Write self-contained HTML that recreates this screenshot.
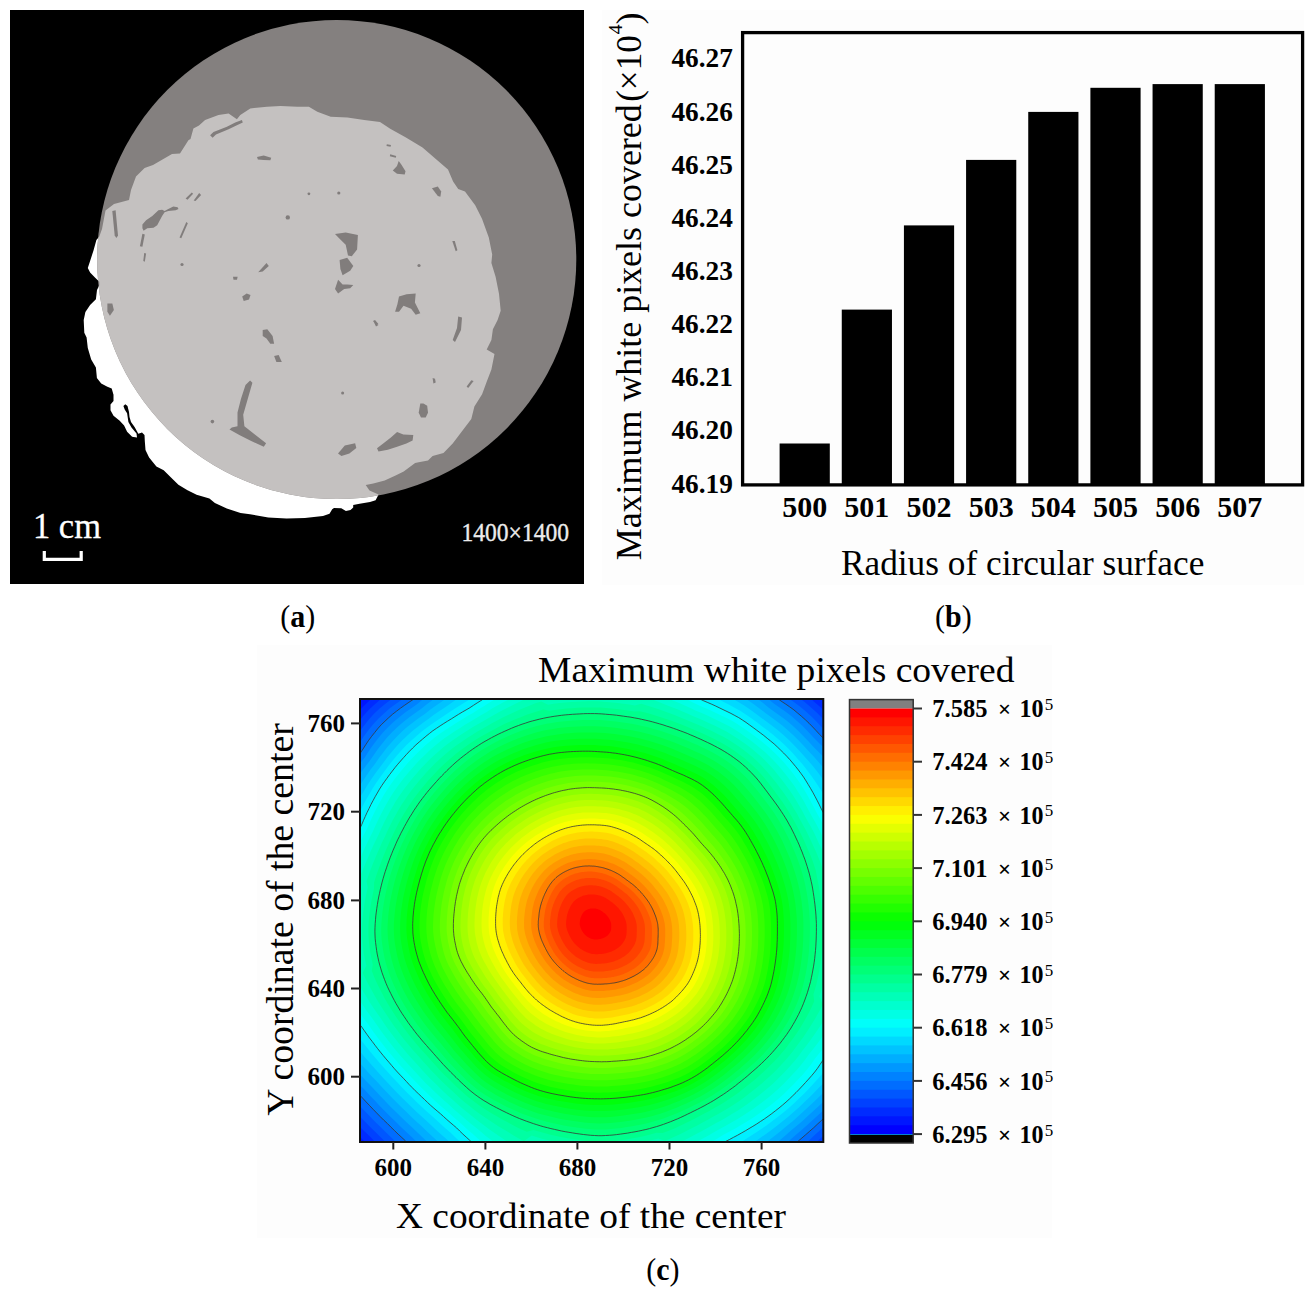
<!DOCTYPE html>
<html><head><meta charset="utf-8"><style>
html,body{margin:0;padding:0;background:#fff;}
body{width:1314px;height:1294px;overflow:hidden;}
svg{display:block;font-family:'Liberation Serif', serif;}
</style></head><body>
<svg width="1314" height="1294" viewBox="0 0 1314 1294">
<rect width="1314" height="1294" fill="#fff"/>
<rect x="10" y="10" width="574" height="574" fill="#000"/>
<clipPath id="circ"><circle cx="336.7" cy="259.5" r="239.6"/></clipPath>
<path d="M99.3,236.6 L102.0,229.0 L105.5,210.5 L114.0,204.0 L129.0,200.0 L131.0,190.0 L136.0,176.5 L144.6,168.0 L153.0,165.0 L172.0,154.0 L180.0,153.6 L188.4,140.2 L190.5,139.0 L193.4,128.5 L199.0,125.5 L205.1,120.1 L218.5,115.1 L228.6,113.4 L236.9,119.3 L240.3,115.1 L250.3,108.4 L267.1,106.7 L280.5,105.9 L297.2,106.7 L308.9,106.7 L317.3,111.8 L330.7,116.8 L347.4,117.6 L364.2,120.1 L380.0,121.9 L390.2,128.7 L405.5,137.2 L422.5,147.4 L436.1,159.3 L448.0,169.5 L453.1,181.4 L458.2,189.1 L465.0,191.6 L475.2,205.2 L482.0,218.8 L488.8,237.6 L492.2,254.6 L491.4,263.1 L495.6,276.7 L499.0,293.7 L500.7,310.7 L497.6,320.0 L492.9,329.3 L491.4,340.1 L486.7,349.4 L494.5,354.0 L491.4,369.5 L486.7,381.8 L482.1,394.2 L474.4,406.6 L471.3,418.9 L462.0,431.3 L452.7,443.6 L443.5,452.9 L432.6,456.0 L428.0,460.6 L418.7,462.2 L415.1,463.0 L403.7,471.4 L396.1,475.2 L384.7,480.5 L373.3,483.6 L365.7,485.1 L369.5,490.4 L378.6,494.5 L375.6,500.3 L370.0,501.9 L359.6,503.7 L353.2,505.1 L353.2,507.4 L350.5,510.1 L345.9,511.0 L341.3,508.3 L334.0,507.9 L332.2,509.2 L329.5,513.8 L323.0,516.1 L304.8,517.9 L286.5,518.4 L268.3,517.4 L250.0,514.2 L240.5,513.1 L226.8,508.5 L214.9,503.1 L209.4,498.5 L196.6,494.8 L187.5,490.3 L178.4,484.8 L171.0,477.5 L163.7,470.2 L156.4,466.5 L149.1,457.4 L145.5,450.1 L144.8,441.0 L144.5,434.9 L142.0,432.4 L138.3,433.7 L134.6,426.9 L131.0,422.0 L129.5,417.0 L129.0,412.0 L127.5,406.0 L125.3,404.2 L123.4,405.9 L124.7,409.6 L127.1,413.3 L128.4,422.0 L131.5,427.5 L136.5,433.5 L137.0,437.4 L132.1,436.8 L127.1,431.8 L124.1,425.6 L119.7,420.7 L113.5,415.7 L110.5,410.2 L110.5,404.6 L113.5,400.9 L113.5,394.7 L111.7,388.5 L107.4,386.7 L101.2,383.6 L96.9,378.0 L95.9,367.6 L91.2,359.5 L87.8,347.9 L86.6,337.4 L84.3,332.8 L83.7,320.0 L85.4,311.9 L90.1,305.0 L95.9,299.2 L97.0,289.9 L99.3,285.3 L99.3,281.8 L94.7,277.2 L90.1,272.5 L87.8,267.9 L90.1,260.9 L93.5,250.5 L96.4,240.1Z" fill="#fff"/>
<circle cx="336.7" cy="259.5" r="239.6" fill="#84807f"/>
<path d="M99.3,236.6 L102.0,229.0 L105.5,210.5 L114.0,204.0 L129.0,200.0 L131.0,190.0 L136.0,176.5 L144.6,168.0 L153.0,165.0 L172.0,154.0 L180.0,153.6 L188.4,140.2 L190.5,139.0 L193.4,128.5 L199.0,125.5 L205.1,120.1 L218.5,115.1 L228.6,113.4 L236.9,119.3 L240.3,115.1 L250.3,108.4 L267.1,106.7 L280.5,105.9 L297.2,106.7 L308.9,106.7 L317.3,111.8 L330.7,116.8 L347.4,117.6 L364.2,120.1 L380.0,121.9 L390.2,128.7 L405.5,137.2 L422.5,147.4 L436.1,159.3 L448.0,169.5 L453.1,181.4 L458.2,189.1 L465.0,191.6 L475.2,205.2 L482.0,218.8 L488.8,237.6 L492.2,254.6 L491.4,263.1 L495.6,276.7 L499.0,293.7 L500.7,310.7 L497.6,320.0 L492.9,329.3 L491.4,340.1 L486.7,349.4 L494.5,354.0 L491.4,369.5 L486.7,381.8 L482.1,394.2 L474.4,406.6 L471.3,418.9 L462.0,431.3 L452.7,443.6 L443.5,452.9 L432.6,456.0 L428.0,460.6 L418.7,462.2 L415.1,463.0 L403.7,471.4 L396.1,475.2 L384.7,480.5 L373.3,483.6 L365.7,485.1 L369.5,490.4 L378.6,494.5 L375.6,500.3 L370.0,501.9 L359.6,503.7 L353.2,505.1 L353.2,507.4 L350.5,510.1 L345.9,511.0 L341.3,508.3 L334.0,507.9 L332.2,509.2 L329.5,513.8 L323.0,516.1 L304.8,517.9 L286.5,518.4 L268.3,517.4 L250.0,514.2 L240.5,513.1 L226.8,508.5 L214.9,503.1 L209.4,498.5 L196.6,494.8 L187.5,490.3 L178.4,484.8 L171.0,477.5 L163.7,470.2 L156.4,466.5 L149.1,457.4 L145.5,450.1 L144.8,441.0 L144.5,434.9 L142.0,432.4 L138.3,433.7 L134.6,426.9 L131.0,422.0 L129.5,417.0 L129.0,412.0 L127.5,406.0 L125.3,404.2 L123.4,405.9 L124.7,409.6 L127.1,413.3 L128.4,422.0 L131.5,427.5 L136.5,433.5 L137.0,437.4 L132.1,436.8 L127.1,431.8 L124.1,425.6 L119.7,420.7 L113.5,415.7 L110.5,410.2 L110.5,404.6 L113.5,400.9 L113.5,394.7 L111.7,388.5 L107.4,386.7 L101.2,383.6 L96.9,378.0 L95.9,367.6 L91.2,359.5 L87.8,347.9 L86.6,337.4 L84.3,332.8 L83.7,320.0 L85.4,311.9 L90.1,305.0 L95.9,299.2 L97.0,289.9 L99.3,285.3 L99.3,281.8 L94.7,277.2 L90.1,272.5 L87.8,267.9 L90.1,260.9 L93.5,250.5 L96.4,240.1Z" fill="#c4c1c0" clip-path="url(#circ)"/>
<g fill="#817d7c"><path d="M335.0,234.1 L345.7,232.6 L357.9,234.9 L357.1,249.4 L351.8,256.2 L348.0,255.4 L345.7,244.8 L339.6,238.7Z"/><path d="M339.6,260.0 L347.2,257.7 L353.3,266.1 L350.2,270.7 L342.6,275.2 L340.4,269.1Z"/><path d="M335.0,288.9 L338.1,279.8 L342.6,284.4 L347.2,284.4 L353.3,285.1 L350.2,288.2 L344.2,288.9 L338.1,293.5Z"/><path d="M399.0,296.5 L406.6,294.3 L415.7,293.5 L414.9,302.6 L420.3,313.3 L415.7,314.8 L411.1,308.7 L403.5,305.7 L399.0,311.8 L395.1,311.8 L397.4,304.2Z"/><path d="M258.2,272.2 L266.5,263.1 L268.8,266.1 L262.7,271.4Z"/><path d="M233.0,276.8 L237.6,276.8 L237.0,279.8 L233.5,279.8Z"/><path d="M242.2,296.5 L246.7,293.5 L250.5,295.0 L249.0,299.6 L243.7,301.1Z"/><path d="M262.7,330.0 L267.3,329.3 L272.6,336.1 L274.1,343.7 L270.3,343.7 L266.5,338.4 L262.7,336.1Z"/><path d="M274.1,355.9 L278.7,355.1 L281.8,362.0 L276.4,362.0Z"/><path d="M373.0,320.9 L375.0,320.0 L378.4,324.0 L376.0,325.0Z"/><path d="M112.3,211.1 L115.6,210.3 L118.0,235.4 L116.4,237.9 L114.7,235.4Z"/><path d="M142.4,224.6 L146.1,220.2 L152.3,215.9 L158.4,210.3 L162.1,209.7 L164.6,211.0 L168.3,209.1 L173.3,206.6 L177.6,207.3 L178.5,209.1 L175.7,210.3 L168.3,211.0 L164.6,212.2 L162.1,215.9 L157.2,225.2 L153.5,227.7 L147.3,228.3 L143.6,230.7 L142.4,228.3Z"/><path d="M142.4,233.8 L144.8,234.5 L142.4,246.8 L139.9,246.2Z"/><path d="M144.2,253.0 L146.1,253.6 L144.8,261.7 L143.3,261.0Z"/><path d="M186.3,222.1 L187.8,223.3 L181.3,238.2 L179.5,237.5Z"/><path d="M185.6,198.6 L191.8,192.4 L193.1,193.7 L187.5,199.8Z"/><path d="M193.7,200.5 L199.2,193.0 L201.1,194.9 L195.5,201.1Z"/><path d="M107.4,303.6 L112.3,303.6 L113.9,310.0 L109.9,315.7 L107.4,311.7Z"/><path d="M210.1,135.2 L213.5,131.9 L226.9,126.8 L235.2,122.6 L241.9,120.1 L242.8,122.6 L236.9,125.2 L228.6,129.3 L216.0,134.4 L212.6,137.7Z"/><path d="M257.0,157.0 L263.7,155.6 L271.2,157.8 L270.4,160.3 L263.7,160.0 L257.9,159.5Z"/><path d="M392.8,170.4 L397.0,166.1 L398.7,161.0 L401.3,164.4 L405.5,171.2 L404.7,174.6 L397.0,173.8Z"/><path d="M386.8,144.2 L391.0,145.0 L390.6,146.8 L386.5,146.0Z"/><path d="M390.2,154.2 L396.2,156.0 L395.8,157.8 L389.8,156.3Z"/><path d="M431.9,188.2 L437.8,186.5 L441.2,191.6 L440.4,196.7 L437.8,195.9 L434.4,191.6Z"/><path d="M452.3,241.0 L454.8,241.0 L457.4,250.3 L455.7,251.2Z"/><path d="M458.2,316.6 L462.0,317.5 L461.0,330.0 L455.0,342.0 L452.7,340.0 L457.0,328.0Z"/><path d="M420.3,403.5 L423.4,403.5 L427.2,405.8 L428.0,412.7 L425.7,417.4 L421.0,417.4 L418.7,412.7Z"/><path d="M377.0,448.3 L383.2,443.6 L390.9,437.5 L397.1,432.1 L403.3,434.4 L413.3,435.1 L412.6,440.6 L406.4,443.6 L397.1,446.7 L387.8,449.8 L378.5,451.4Z"/><path d="M432.6,378.0 L435.0,378.7 L435.7,382.6 L433.4,383.4Z"/><path d="M471.3,380.3 L473.6,381.0 L468.2,388.0 L466.6,386.5Z"/><path d="M374.0,322.0 L378.5,325.0 L376.0,326.5Z"/><path d="M250.1,380.5 L252.4,382.8 L247.8,398.8 L243.2,414.8 L244.4,426.2 L255.8,435.3 L266.1,443.3 L263.8,446.8 L251.2,441.1 L239.8,435.3 L229.5,429.6 L231.8,427.4 L237.5,426.2 L237.5,412.5 L241.0,398.8 L245.5,385.1Z"/><path d="M338.0,453.6 L344.8,445.6 L355.1,443.3 L356.3,447.9 L349.4,453.6 L341.4,455.9Z"/><circle cx="212.4" cy="421.6" r="1.8"/><circle cx="342.6" cy="393" r="1.5"/><circle cx="287.8" cy="217.4" r="2.2"/><circle cx="338.8" cy="193" r="1.6"/><circle cx="182" cy="264.5" r="1.6"/><circle cx="308.9" cy="193.8" r="1.4"/><circle cx="419" cy="265.5" r="1.6"/></g>
<text x="33" y="538" font-size="36" fill="#fff" stroke="#fff" stroke-width="0.3" textLength="68" lengthAdjust="spacingAndGlyphs">1 cm</text>
<path d="M44.3 551 V559.3 H81.2 V551" fill="none" stroke="#fff" stroke-width="3.2"/>
<text x="461.5" y="541.3" font-size="24.5" fill="#ececec" stroke="#ececec" stroke-width="0.35" textLength="107.5" lengthAdjust="spacingAndGlyphs">1400×1400</text>
<rect x="602" y="10" width="702" height="575" fill="#fdfdfd"/>
<rect x="779.60" y="443.5" width="50.2" height="41.5" fill="#000"/>
<text x="804.70" y="516.8" font-size="30" font-weight="bold" text-anchor="middle">500</text>
<rect x="841.76" y="309.6" width="50.2" height="175.4" fill="#000"/>
<text x="866.86" y="516.8" font-size="30" font-weight="bold" text-anchor="middle">501</text>
<rect x="903.92" y="225.4" width="50.2" height="259.6" fill="#000"/>
<text x="929.02" y="516.8" font-size="30" font-weight="bold" text-anchor="middle">502</text>
<rect x="966.08" y="159.9" width="50.2" height="325.1" fill="#000"/>
<text x="991.18" y="516.8" font-size="30" font-weight="bold" text-anchor="middle">503</text>
<rect x="1028.24" y="111.9" width="50.2" height="373.1" fill="#000"/>
<text x="1053.34" y="516.8" font-size="30" font-weight="bold" text-anchor="middle">504</text>
<rect x="1090.40" y="87.8" width="50.2" height="397.2" fill="#000"/>
<text x="1115.50" y="516.8" font-size="30" font-weight="bold" text-anchor="middle">505</text>
<rect x="1152.56" y="84.1" width="50.2" height="400.9" fill="#000"/>
<text x="1177.66" y="516.8" font-size="30" font-weight="bold" text-anchor="middle">506</text>
<rect x="1214.72" y="84.1" width="50.2" height="400.9" fill="#000"/>
<text x="1239.82" y="516.8" font-size="30" font-weight="bold" text-anchor="middle">507</text>
<rect x="742.6" y="32.6" width="560" height="452.3" fill="none" stroke="#000" stroke-width="3.3"/>
<text x="732.8" y="67.40" font-size="27.3" font-weight="bold" text-anchor="end">46.27</text>
<text x="732.8" y="120.54" font-size="27.3" font-weight="bold" text-anchor="end">46.26</text>
<text x="732.8" y="173.68" font-size="27.3" font-weight="bold" text-anchor="end">46.25</text>
<text x="732.8" y="226.82" font-size="27.3" font-weight="bold" text-anchor="end">46.24</text>
<text x="732.8" y="279.96" font-size="27.3" font-weight="bold" text-anchor="end">46.23</text>
<text x="732.8" y="333.10" font-size="27.3" font-weight="bold" text-anchor="end">46.22</text>
<text x="732.8" y="386.24" font-size="27.3" font-weight="bold" text-anchor="end">46.21</text>
<text x="732.8" y="439.38" font-size="27.3" font-weight="bold" text-anchor="end">46.20</text>
<text x="732.8" y="492.52" font-size="27.3" font-weight="bold" text-anchor="end">46.19</text>
<text x="841" y="574.5" font-size="35.6" textLength="363.3" lengthAdjust="spacingAndGlyphs">Radius of circular surface</text>
<text transform="translate(641,560.3) rotate(-90)" font-size="36" textLength="456" lengthAdjust="spacingAndGlyphs">Maximum white pixels covered</text>
<text transform="translate(641,101.8) rotate(-90)" font-size="36" textLength="66.5" lengthAdjust="spacingAndGlyphs">(×10</text>
<text transform="translate(622.3,34.2) rotate(-90)" font-size="19.5">4</text>
<text transform="translate(641,24.6) rotate(-90)" font-size="36">)</text>
<text transform="translate(280.3,627.3) scale(1,1.065)" font-size="30">(<tspan font-weight="bold">a</tspan>)</text>
<text transform="translate(935,627.3) scale(1,1.065)" font-size="30">(<tspan font-weight="bold">b</tspan>)</text>
<text transform="translate(646.3,1280) scale(1,1.065)" font-size="30">(<tspan font-weight="bold">c</tspan>)</text>
<rect x="257" y="645" width="795" height="593" fill="#fdfdfd"/>
<text x="538" y="681.5" font-size="36" textLength="476.5" lengthAdjust="spacingAndGlyphs">Maximum white pixels covered</text>
<defs><clipPath id="pc"><rect x="360.0" y="699.0" width="463.3" height="443.0"/></clipPath></defs>
<g clip-path="url(#pc)">
<rect x="360.0" y="699.0" width="463.3" height="443.0" fill="#0000ff"/>
<path d="M264.3,923.5 L265.2,914.9 L266.4,906.3 L267.9,897.8 L269.6,889.3 L271.5,881.0 L273.7,872.7 L267.7,862.9 L271.4,854.8 L275.3,846.9 L279.4,839.1 L283.3,831.3 L286.9,823.5 L290.6,815.9 L294.5,808.4 L298.6,800.9 L302.0,793.3 L297.3,781.7 L303.1,775.0 L309.0,768.5 L315.1,762.2 L320.3,755.4 L325.3,748.7 L330.5,742.0 L335.8,735.5 L340.0,728.2 L344.2,720.8 L349.0,713.8 L354.1,707.0 L359.8,700.8 L366.0,695.0 L372.5,689.5 L379.5,684.7 L386.6,680.1 L393.6,675.4 L399.5,669.4 L405.6,663.5 L412.0,657.9 L418.5,652.4 L424.5,646.0 L430.7,639.8 L437.4,634.2 L449.7,639.3 L456.8,634.9 L464.0,630.4 L471.4,626.2 L478.8,622.2 L486.4,618.1 L493.8,613.7 L501.5,609.5 L509.3,605.5 L517.3,601.7 L528.6,613.5 L536.8,612.3 L545.1,611.3 L553.3,610.6 L561.5,610.0 L569.8,609.5 L578.0,609.1 L586.3,608.7 L594.5,608.7 L602.7,609.0 L611.0,609.6 L619.1,610.4 L627.3,611.4 L635.4,612.5 L643.6,613.7 L651.7,615.0 L661.5,608.2 L669.5,611.2 L677.3,614.4 L685.1,617.7 L692.7,621.3 L700.4,624.5 L708.1,627.6 L715.7,630.8 L723.4,634.0 L731.0,637.4 L738.8,640.2 L753.0,631.5 L759.5,637.6 L765.7,644.1 L771.7,650.7 L777.9,656.7 L784.4,662.1 L790.8,667.7 L797.1,673.4 L804.0,678.3 L811.1,682.9 L818.1,687.9 L824.5,693.5 L830.9,699.2 L836.9,705.2 L842.7,711.5 L848.8,717.6 L855.9,722.9 L862.9,728.5 L869.9,734.2 L877.5,739.7 L885.7,745.1 L893.8,750.7 L901.8,756.6 L887.4,774.3 L891.3,782.0 L895.1,789.6 L898.8,797.4 L902.4,805.3 L905.9,813.2 L909.9,821.0 L913.7,828.9 L917.4,837.0 L920.8,845.2 L919.3,854.5 L920.8,863.0 L922.1,871.6 L923.1,880.2 L924.0,888.9 L924.8,897.5 L925.5,906.2 L925.9,914.8 L926.0,923.5 L925.8,932.2 L925.4,940.8 L924.8,949.5 L924.1,958.1 L923.1,966.8 L921.8,975.3 L920.3,983.9 L918.6,992.4 L916.7,1000.9 L914.5,1009.3 L912.0,1017.5 L909.1,1025.7 L922.8,1039.7 L917.3,1047.4 L911.6,1054.8 L905.7,1062.1 L899.9,1069.2 L894.5,1076.3 L888.9,1083.3 L900.2,1100.0 L892.7,1106.3 L884.4,1111.8 L876.2,1117.1 L868.7,1122.7 L861.8,1128.6 L854.6,1134.2 L847.4,1139.5 L840.8,1145.3 L834.4,1151.1 L828.0,1157.0 L821.6,1162.8 L815.6,1169.0 L809.8,1175.5 L803.7,1181.9 L797.5,1188.1 L791.8,1195.1 L786.0,1202.1 L779.9,1209.0 L759.4,1192.6 L752.4,1196.9 L745.4,1201.5 L738.4,1205.9 L731.3,1210.2 L724.1,1214.5 L717.0,1219.3 L709.8,1223.9 L702.4,1228.3 L694.9,1232.6 L683.3,1223.3 L675.6,1226.1 L667.8,1228.7 L659.9,1231.1 L651.9,1233.2 L643.8,1235.1 L635.7,1236.7 L627.6,1238.0 L619.3,1239.2 L611.1,1240.1 L602.8,1240.4 L594.5,1240.2 L586.2,1239.4 L578.0,1238.2 L569.8,1237.0 L561.7,1235.7 L553.6,1234.2 L545.6,1232.4 L537.6,1230.5 L529.7,1228.5 L521.8,1226.3 L514.0,1224.0 L506.2,1221.5 L491.4,1240.9 L484.1,1235.1 L477.1,1229.2 L470.4,1223.1 L463.6,1217.5 L456.9,1212.1 L450.2,1206.6 L443.7,1201.2 L426.6,1214.3 L420.1,1208.2 L413.7,1201.9 L407.7,1195.3 L401.5,1189.1 L395.3,1183.1 L389.3,1176.8 L383.8,1170.2 L377.6,1164.4 L371.4,1158.6 L365.5,1152.5 L359.5,1146.5 L353.4,1140.6 L347.4,1134.6 L341.4,1128.5 L335.7,1122.1 L329.7,1115.9 L323.1,1110.1 L316.6,1104.0 L310.4,1097.6 L303.7,1091.4 L296.4,1085.4 L289.4,1079.0 L282.5,1072.3 L296.6,1056.1 L291.4,1049.0 L286.2,1041.8 L281.2,1034.4 L276.5,1026.8 L271.5,1019.2 L266.2,1011.5 L261.1,1003.5 L256.0,995.4 L269.9,983.7 L267.9,975.2 L266.4,966.7 L265.3,958.1 L264.3,949.5 L263.8,940.8 L263.8,932.2Z" fill="#0016ff"/>
<path d="M270.8,923.5 L271.7,915.0 L272.9,906.6 L274.3,898.3 L276.0,890.0 L277.9,881.8 L280.0,873.7 L274.0,864.1 L277.6,856.1 L281.4,848.3 L285.4,840.7 L289.2,833.1 L292.7,825.5 L296.4,817.9 L300.3,810.6 L304.3,803.3 L307.6,795.7 L303.6,784.7 L309.1,778.1 L314.7,771.6 L320.5,765.3 L325.5,758.7 L330.5,752.0 L335.5,745.5 L340.7,739.1 L344.8,731.9 L349.0,724.7 L353.8,717.9 L358.8,711.3 L364.5,705.2 L370.6,699.6 L376.9,694.2 L383.7,689.4 L390.6,684.8 L397.5,680.2 L403.4,674.4 L409.4,668.8 L415.7,663.3 L422.1,658.1 L428.1,651.9 L434.3,646.0 L440.8,640.5 L452.5,644.9 L459.5,640.5 L466.6,636.2 L473.8,632.0 L481.1,628.0 L488.4,624.0 L495.8,619.6 L503.3,615.5 L510.9,611.5 L518.7,607.8 L529.9,619.6 L537.9,618.4 L546.0,617.4 L554.1,616.7 L562.2,616.1 L570.3,615.6 L578.3,615.2 L586.4,614.9 L594.5,614.9 L602.6,615.1 L610.6,615.7 L618.7,616.6 L626.7,617.5 L634.6,618.6 L642.6,619.7 L650.6,621.0 L660.2,614.2 L668.0,617.2 L675.7,620.3 L683.3,623.6 L690.8,627.1 L698.3,630.3 L705.9,633.4 L713.4,636.5 L720.8,639.7 L728.3,643.1 L736.0,645.9 L749.4,638.2 L755.9,644.0 L762.0,650.1 L768.0,656.4 L774.1,662.1 L780.6,667.4 L786.9,672.8 L793.1,678.3 L799.8,683.1 L806.8,687.7 L813.6,692.6 L819.9,698.1 L826.2,703.7 L832.1,709.6 L837.8,715.7 L843.7,721.7 L850.6,727.0 L857.3,732.6 L864.0,738.3 L871.2,743.8 L879.0,749.2 L886.6,754.8 L894.2,760.8 L881.4,777.3 L885.2,784.9 L889.0,792.4 L892.7,800.0 L896.2,807.7 L899.7,815.4 L903.6,823.1 L907.4,830.8 L911.0,838.7 L914.4,846.7 L912.8,855.8 L914.4,864.2 L915.6,872.6 L916.6,881.1 L917.5,889.5 L918.3,898.0 L919.0,906.5 L919.5,915.0 L919.6,923.5 L919.4,932.0 L919.0,940.5 L918.4,949.0 L917.7,957.5 L916.7,965.9 L915.5,974.3 L914.1,982.7 L912.4,991.1 L910.5,999.4 L908.4,1007.6 L906.0,1015.8 L903.1,1023.8 L916.9,1037.7 L911.5,1045.2 L905.9,1052.5 L900.1,1059.6 L894.4,1066.5 L889.0,1073.6 L883.5,1080.4 L893.5,1096.1 L886.2,1102.3 L878.3,1107.8 L870.5,1113.2 L863.3,1118.8 L856.5,1124.6 L849.6,1130.1 L842.6,1135.4 L836.1,1141.1 L829.8,1146.8 L823.6,1152.6 L817.2,1158.2 L811.3,1164.2 L805.5,1170.5 L799.5,1176.6 L793.3,1182.6 L787.6,1189.2 L781.7,1195.9 L775.7,1202.5 L756.5,1187.9 L749.6,1192.1 L742.8,1196.6 L735.8,1200.9 L728.8,1205.1 L721.8,1209.3 L714.8,1214.0 L707.7,1218.5 L700.5,1222.9 L693.1,1227.0 L681.6,1217.6 L674.0,1220.4 L666.4,1222.9 L658.6,1225.2 L650.8,1227.3 L642.9,1229.1 L634.9,1230.6 L626.9,1231.9 L618.9,1233.1 L610.8,1233.9 L602.6,1234.3 L594.5,1234.1 L586.4,1233.3 L578.3,1232.1 L570.3,1230.9 L562.3,1229.6 L554.4,1228.2 L546.5,1226.5 L538.7,1224.6 L530.9,1222.6 L523.2,1220.5 L515.5,1218.3 L507.9,1215.7 L493.2,1235.2 L486.1,1229.6 L479.3,1223.7 L472.6,1217.7 L466.0,1212.1 L459.4,1206.8 L452.9,1201.4 L446.5,1196.1 L430.5,1207.6 L424.1,1201.6 L417.9,1195.4 L412.0,1189.0 L406.0,1183.0 L399.9,1177.2 L394.0,1171.1 L388.5,1164.7 L382.5,1159.0 L376.4,1153.3 L370.5,1147.5 L364.7,1141.5 L358.7,1135.8 L352.8,1129.9 L347.0,1123.9 L341.4,1117.7 L335.6,1111.6 L329.2,1105.9 L322.9,1099.9 L316.9,1093.6 L310.4,1087.5 L303.4,1081.5 L296.7,1075.3 L290.1,1068.7 L302.6,1053.5 L297.4,1046.5 L292.3,1039.5 L287.4,1032.3 L282.7,1024.8 L277.7,1017.3 L272.5,1009.8 L267.4,1002.0 L262.4,994.1 L276.3,982.5 L274.4,974.2 L272.9,965.8 L271.8,957.4 L270.9,949.0 L270.4,940.5 L270.3,932.0Z" fill="#002bff"/>
<path d="M277.3,923.5 L278.2,915.2 L279.3,907.0 L280.7,898.8 L282.3,890.7 L284.2,882.6 L286.3,874.7 L280.2,865.2 L283.7,857.4 L287.5,849.8 L291.4,842.3 L295.1,834.8 L298.6,827.4 L302.2,820.0 L306.0,812.8 L309.9,805.6 L313.1,798.2 L309.8,787.7 L315.1,781.1 L320.4,774.7 L326.0,768.5 L330.8,761.9 L335.6,755.4 L340.5,748.9 L345.6,742.6 L349.7,735.7 L353.9,728.7 L358.6,722.1 L363.6,715.6 L369.1,709.6 L375.1,704.1 L381.3,698.8 L387.9,694.1 L394.7,689.5 L401.4,685.0 L407.2,679.4 L413.2,674.0 L419.4,668.8 L425.8,663.7 L431.7,657.8 L437.8,652.2 L444.3,646.9 L455.4,650.5 L462.2,646.1 L469.1,641.9 L476.1,637.8 L483.3,633.8 L490.5,629.9 L497.7,625.6 L505.0,621.5 L512.5,617.6 L520.2,613.8 L531.2,625.7 L539.1,624.5 L547.0,623.5 L554.9,622.8 L562.8,622.2 L570.8,621.8 L578.7,621.4 L586.6,621.1 L594.5,621.0 L602.4,621.3 L610.3,621.9 L618.2,622.7 L626.0,623.7 L633.8,624.7 L641.7,625.8 L649.4,627.0 L659.0,620.2 L666.6,623.1 L674.1,626.2 L681.6,629.5 L688.9,633.0 L696.3,636.1 L703.7,639.1 L711.0,642.2 L718.3,645.4 L725.6,648.7 L733.1,651.5 L745.8,644.9 L752.2,650.4 L758.3,656.2 L764.3,662.1 L770.4,667.6 L776.8,672.6 L783.0,677.9 L789.1,683.2 L795.7,687.9 L802.5,692.5 L809.1,697.3 L815.3,702.7 L821.4,708.1 L827.2,713.9 L832.8,720.0 L838.6,725.8 L845.2,731.1 L851.7,736.7 L858.1,742.3 L864.9,747.9 L872.2,753.3 L879.5,759.0 L886.6,764.9 L875.3,780.4 L879.1,787.8 L882.9,795.1 L886.5,802.6 L889.9,810.1 L893.4,817.7 L897.3,825.1 L901.1,832.7 L904.6,840.4 L908.0,848.2 L906.4,857.2 L908.0,865.4 L909.2,873.7 L910.2,881.9 L911.1,890.2 L911.9,898.5 L912.6,906.8 L913.0,915.2 L913.1,923.5 L913.0,931.8 L912.6,940.2 L912.0,948.5 L911.3,956.8 L910.4,965.1 L909.2,973.3 L907.8,981.6 L906.2,989.8 L904.4,997.9 L902.3,1006.0 L899.9,1014.0 L897.1,1021.8 L911.0,1035.6 L905.6,1042.9 L900.1,1050.1 L894.5,1057.0 L888.9,1063.9 L883.6,1070.8 L878.2,1077.6 L886.7,1092.2 L879.7,1098.3 L872.2,1103.9 L864.8,1109.3 L857.8,1114.8 L851.3,1120.5 L844.6,1126.0 L837.7,1131.2 L831.5,1136.9 L825.3,1142.5 L819.1,1148.1 L812.8,1153.6 L806.9,1159.4 L801.2,1165.5 L795.2,1171.3 L789.1,1177.1 L783.3,1183.4 L777.5,1189.7 L771.4,1196.0 L753.6,1183.1 L746.8,1187.3 L740.1,1191.7 L733.3,1195.9 L726.4,1200.0 L719.5,1204.1 L712.6,1208.7 L705.7,1213.1 L698.6,1217.4 L691.3,1221.4 L679.9,1212.0 L672.5,1214.6 L665.0,1217.1 L657.4,1219.3 L649.7,1221.3 L641.9,1223.1 L634.1,1224.6 L626.3,1225.8 L618.4,1226.9 L610.4,1227.8 L602.5,1228.1 L594.5,1227.9 L586.5,1227.1 L578.6,1226.0 L570.8,1224.8 L563.0,1223.6 L555.2,1222.1 L547.5,1220.5 L539.8,1218.7 L532.2,1216.7 L524.6,1214.7 L517.1,1212.5 L509.6,1210.0 L495.1,1229.6 L488.1,1224.0 L481.4,1218.2 L474.9,1212.3 L468.4,1206.8 L461.9,1201.5 L455.5,1196.3 L449.3,1190.9 L434.4,1200.8 L428.1,1195.0 L422.1,1189.0 L416.3,1182.8 L410.4,1176.9 L404.4,1171.2 L398.6,1165.4 L393.2,1159.2 L387.3,1153.6 L381.4,1148.1 L375.6,1142.4 L369.9,1136.6 L364.1,1131.0 L358.3,1125.2 L352.7,1119.3 L347.2,1113.3 L341.5,1107.3 L335.3,1101.7 L329.2,1095.8 L323.4,1089.7 L317.2,1083.6 L310.5,1077.7 L304.0,1071.5 L297.6,1065.1 L308.5,1050.8 L303.5,1044.1 L298.4,1037.2 L293.5,1030.1 L288.9,1022.8 L284.0,1015.5 L278.8,1008.1 L273.7,1000.5 L268.8,992.7 L282.8,981.3 L280.8,973.2 L279.4,965.0 L278.3,956.7 L277.4,948.5 L276.9,940.1 L276.9,931.8Z" fill="#0041ff"/>
<path d="M283.8,923.5 L284.7,915.4 L285.8,907.3 L287.1,899.3 L288.7,891.4 L290.5,883.5 L292.5,875.7 L286.4,866.4 L289.9,858.8 L293.6,851.3 L297.4,843.9 L301.1,836.6 L304.5,829.3 L308.0,822.1 L311.7,815.0 L315.6,808.0 L318.7,800.7 L316.1,790.7 L321.0,784.2 L326.2,777.8 L331.4,771.6 L336.1,765.2 L340.8,758.7 L345.5,752.4 L350.5,746.2 L354.6,739.4 L358.8,732.6 L363.5,726.2 L368.4,719.9 L373.8,714.1 L379.6,708.6 L385.7,703.4 L392.1,698.8 L398.7,694.3 L405.3,689.8 L411.1,684.5 L417.0,679.3 L423.2,674.2 L429.4,669.3 L435.3,663.7 L441.4,658.3 L447.8,653.2 L458.2,656.0 L464.9,651.8 L471.7,647.6 L478.5,643.5 L485.6,639.7 L492.6,635.8 L499.6,631.5 L506.8,627.5 L514.1,623.6 L521.6,619.9 L532.5,631.7 L540.2,630.6 L548.0,629.7 L555.7,628.9 L563.5,628.4 L571.2,627.9 L579.0,627.5 L586.7,627.3 L594.5,627.2 L602.3,627.5 L610.0,628.0 L617.7,628.8 L625.4,629.8 L633.0,630.8 L640.7,631.9 L648.3,633.1 L657.7,626.2 L665.2,629.1 L672.6,632.2 L679.8,635.4 L687.0,638.8 L694.2,642.0 L701.4,644.9 L708.6,648.0 L715.8,651.1 L722.9,654.4 L730.2,657.1 L742.2,651.5 L748.5,656.8 L754.6,662.2 L760.6,667.8 L766.7,673.0 L772.9,677.9 L779.1,682.9 L785.1,688.1 L791.5,692.8 L798.2,697.3 L804.7,702.0 L810.7,707.3 L816.7,712.6 L822.4,718.3 L827.9,724.2 L833.5,730.0 L839.8,735.3 L846.0,740.7 L852.2,746.4 L858.6,752.0 L865.5,757.4 L872.3,763.1 L878.9,769.1 L869.3,783.5 L873.0,790.7 L876.7,797.8 L880.3,805.1 L883.7,812.5 L887.2,819.9 L891.0,827.1 L894.8,834.6 L898.3,842.1 L901.7,849.8 L900.0,858.6 L901.6,866.6 L902.8,874.7 L903.8,882.8 L904.6,890.9 L905.4,899.0 L906.1,907.2 L906.5,915.3 L906.7,923.5 L906.5,931.7 L906.2,939.8 L905.6,948.0 L905.0,956.1 L904.1,964.3 L902.9,972.3 L901.6,980.4 L900.0,988.4 L898.2,996.4 L896.2,1004.3 L893.8,1012.2 L891.2,1019.9 L905.0,1033.5 L899.8,1040.7 L894.4,1047.7 L888.8,1054.5 L883.3,1061.3 L878.2,1068.1 L872.9,1074.7 L880.0,1088.3 L873.3,1094.3 L866.1,1099.9 L859.1,1105.3 L852.4,1110.8 L846.0,1116.5 L839.5,1121.9 L832.9,1127.1 L826.8,1132.6 L820.7,1138.2 L814.6,1143.6 L808.5,1149.0 L802.6,1154.7 L796.9,1160.4 L790.9,1166.1 L784.8,1171.6 L779.1,1177.6 L773.2,1183.6 L767.2,1189.5 L750.7,1178.4 L744.0,1182.5 L737.4,1186.7 L730.7,1190.9 L724.0,1194.9 L717.1,1198.9 L710.4,1203.4 L703.6,1207.7 L696.6,1211.9 L689.5,1215.9 L678.3,1206.3 L671.0,1208.9 L663.6,1211.3 L656.1,1213.4 L648.6,1215.4 L641.0,1217.1 L633.3,1218.5 L625.6,1219.8 L617.9,1220.8 L610.1,1221.6 L602.3,1222.0 L594.5,1221.7 L586.7,1221.0 L579.0,1219.9 L571.3,1218.8 L563.6,1217.5 L556.0,1216.1 L548.4,1214.5 L540.9,1212.8 L533.4,1210.9 L526.0,1208.9 L518.6,1206.7 L511.3,1204.3 L496.9,1223.9 L490.1,1218.4 L483.5,1212.7 L477.1,1206.9 L470.7,1201.5 L464.4,1196.3 L458.2,1191.1 L452.1,1185.8 L438.3,1194.1 L432.2,1188.4 L426.3,1182.5 L420.6,1176.5 L414.8,1170.9 L408.9,1165.3 L403.3,1159.6 L397.9,1153.7 L392.1,1148.3 L386.3,1142.9 L380.7,1137.3 L375.1,1131.7 L369.4,1126.2 L363.8,1120.5 L358.3,1114.8 L352.9,1108.9 L347.4,1103.0 L341.4,1097.5 L335.5,1091.7 L329.9,1085.7 L323.9,1079.7 L317.5,1073.9 L311.3,1067.8 L305.2,1061.5 L314.4,1048.2 L309.5,1041.6 L304.5,1034.8 L299.7,1027.9 L295.1,1020.8 L290.2,1013.6 L285.1,1006.4 L280.1,999.0 L275.2,991.4 L289.2,980.1 L287.3,972.2 L285.9,964.1 L284.8,956.0 L283.9,947.9 L283.5,939.8 L283.4,931.6Z" fill="#0057ff"/>
<path d="M290.4,923.5 L291.2,915.6 L292.3,907.7 L293.6,899.8 L295.1,892.0 L296.8,884.3 L298.8,876.7 L292.6,867.5 L296.0,860.1 L299.7,852.7 L303.4,845.5 L307.0,838.3 L310.4,831.2 L313.8,824.1 L317.5,817.2 L321.2,810.3 L324.3,803.2 L322.3,793.7 L327.0,787.2 L331.9,780.9 L336.9,774.8 L341.4,768.4 L345.9,762.1 L350.5,755.8 L355.3,749.7 L359.5,743.2 L363.7,736.6 L368.3,730.3 L373.2,724.2 L378.5,718.5 L384.2,713.2 L390.1,708.1 L396.4,703.5 L402.8,699.0 L409.2,694.7 L414.9,689.5 L420.9,684.5 L426.9,679.7 L433.1,674.9 L438.9,669.6 L445.0,664.5 L451.2,659.6 L461.1,661.6 L467.6,657.4 L474.2,653.3 L480.9,649.3 L487.8,645.5 L494.7,641.7 L501.6,637.5 L508.6,633.5 L515.8,629.6 L523.1,626.0 L533.8,637.8 L541.3,636.7 L548.9,635.8 L556.5,635.1 L564.1,634.5 L571.7,634.1 L579.3,633.7 L586.9,633.4 L594.5,633.4 L602.1,633.6 L609.7,634.2 L617.2,635.0 L624.7,635.9 L632.2,636.8 L639.7,637.9 L647.2,639.1 L656.4,632.2 L663.7,635.1 L671.0,638.1 L678.1,641.3 L685.1,644.7 L692.1,647.8 L699.2,650.7 L706.3,653.7 L713.2,656.8 L720.2,660.1 L727.3,662.8 L738.5,658.2 L744.8,663.1 L750.9,668.2 L756.9,673.5 L762.9,678.4 L769.1,683.2 L775.2,688.0 L781.1,693.1 L787.4,697.6 L793.9,702.0 L800.2,706.7 L806.2,711.8 L812.0,717.1 L817.6,722.7 L822.9,728.4 L828.4,734.1 L834.5,739.4 L840.4,744.8 L846.2,750.5 L852.3,756.1 L858.8,761.5 L865.1,767.3 L871.3,773.2 L863.2,786.6 L866.9,793.6 L870.6,800.6 L874.1,807.7 L877.5,814.9 L880.9,822.1 L884.7,829.2 L888.4,836.4 L891.9,843.8 L895.3,851.3 L893.6,859.9 L895.1,867.8 L896.3,875.7 L897.3,883.6 L898.2,891.6 L899.0,899.5 L899.6,907.5 L900.1,915.5 L900.2,923.5 L900.1,931.5 L899.7,939.5 L899.3,947.5 L898.6,955.5 L897.7,963.4 L896.6,971.4 L895.3,979.2 L893.8,987.1 L892.0,994.9 L890.1,1002.7 L887.8,1010.4 L885.2,1017.9 L899.1,1031.4 L894.0,1038.5 L888.7,1045.4 L883.2,1052.0 L877.8,1058.6 L872.8,1065.3 L867.6,1071.8 L873.2,1084.4 L866.8,1090.3 L860.1,1096.0 L853.3,1101.4 L846.9,1106.9 L840.8,1112.5 L834.5,1117.8 L828.1,1123.0 L822.1,1128.4 L816.1,1133.8 L810.2,1139.2 L804.1,1144.4 L798.3,1149.9 L792.6,1155.4 L786.7,1160.8 L780.6,1166.0 L774.9,1171.7 L769.0,1177.4 L763.0,1183.0 L747.8,1173.6 L741.2,1177.7 L734.8,1181.8 L728.2,1185.9 L721.5,1189.8 L714.8,1193.7 L708.3,1198.1 L701.5,1202.3 L694.7,1206.4 L687.7,1210.3 L676.6,1200.6 L669.4,1203.1 L662.2,1205.4 L654.9,1207.6 L647.5,1209.4 L640.0,1211.1 L632.5,1212.5 L625.0,1213.7 L617.4,1214.7 L609.8,1215.5 L602.2,1215.8 L594.5,1215.6 L586.9,1214.9 L579.3,1213.8 L571.7,1212.7 L564.2,1211.5 L556.8,1210.1 L549.4,1208.6 L542.0,1206.8 L534.7,1205.0 L527.4,1203.0 L520.2,1200.9 L513.0,1198.6 L498.7,1218.2 L492.1,1212.8 L485.6,1207.2 L479.4,1201.5 L473.1,1196.1 L466.9,1191.0 L460.8,1185.9 L454.9,1180.7 L442.2,1187.3 L436.2,1181.8 L430.5,1176.1 L424.9,1170.3 L419.2,1164.8 L413.5,1159.4 L407.9,1153.9 L402.6,1148.2 L396.9,1142.9 L391.3,1137.6 L385.8,1132.2 L380.3,1126.7 L374.8,1121.4 L369.3,1115.8 L363.9,1110.2 L358.6,1104.5 L353.3,1098.8 L347.5,1093.3 L341.8,1087.6 L336.3,1081.7 L330.6,1075.9 L324.5,1070.1 L318.6,1064.1 L312.7,1057.9 L320.3,1045.6 L315.5,1039.1 L310.6,1032.5 L305.8,1025.7 L301.3,1018.8 L296.5,1011.8 L291.4,1004.7 L286.4,997.5 L281.6,990.0 L295.6,978.9 L293.8,971.1 L292.4,963.3 L291.3,955.4 L290.5,947.4 L290.0,939.5 L290.0,931.5Z" fill="#006dff"/>
<path d="M296.9,923.5 L297.7,915.7 L298.7,908.0 L300.0,900.3 L301.5,892.7 L303.2,885.1 L305.1,877.7 L298.8,868.7 L302.2,861.4 L305.7,854.2 L309.5,847.1 L313.0,840.1 L316.2,833.1 L319.6,826.2 L323.2,819.4 L326.9,812.7 L329.9,805.7 L328.6,796.7 L333.0,790.3 L337.6,784.0 L342.4,777.9 L346.7,771.6 L351.0,765.4 L355.6,759.3 L360.2,753.3 L364.3,746.9 L368.5,740.5 L373.1,734.4 L377.9,728.5 L383.1,722.9 L388.7,717.7 L394.5,712.7 L400.6,708.1 L406.8,703.7 L413.1,699.5 L418.8,694.5 L424.7,689.7 L430.7,685.1 L436.7,680.5 L442.5,675.5 L448.5,670.7 L454.7,665.9 L463.9,667.2 L470.3,663.1 L476.7,659.0 L483.3,655.1 L490.0,651.4 L496.8,647.6 L503.5,643.4 L510.4,639.4 L517.4,635.6 L524.5,632.0 L535.1,643.9 L542.5,642.8 L549.9,641.9 L557.3,641.2 L564.8,640.7 L572.2,640.2 L579.6,639.8 L587.1,639.6 L594.5,639.6 L601.9,639.8 L609.3,640.3 L616.7,641.1 L624.1,642.0 L631.4,642.9 L638.8,644.0 L646.1,645.1 L655.1,638.2 L662.3,641.1 L669.4,644.0 L676.3,647.2 L683.2,650.5 L690.1,653.6 L697.0,656.4 L703.9,659.4 L710.7,662.5 L717.4,665.7 L724.5,668.4 L734.9,664.9 L741.1,669.5 L747.2,674.3 L753.2,679.2 L759.2,683.9 L765.3,688.4 L771.3,693.1 L777.1,698.0 L783.3,702.5 L789.6,706.8 L795.7,711.4 L801.6,716.4 L807.3,721.6 L812.7,727.0 L818.0,732.6 L823.3,738.2 L829.1,743.5 L834.8,748.9 L840.3,754.6 L846.1,760.1 L852.1,765.7 L857.9,771.4 L863.7,777.3 L857.2,789.7 L860.8,796.5 L864.4,803.3 L867.9,810.2 L871.3,817.3 L874.6,824.3 L878.5,831.2 L882.1,838.3 L885.6,845.5 L888.9,852.8 L887.2,861.3 L888.7,869.0 L889.9,876.7 L890.9,884.5 L891.7,892.3 L892.5,900.0 L893.2,907.8 L893.6,915.7 L893.8,923.5 L893.6,931.3 L893.3,939.2 L892.9,947.0 L892.2,954.8 L891.4,962.6 L890.3,970.4 L889.0,978.1 L887.5,985.8 L885.9,993.4 L884.0,1001.1 L881.7,1008.6 L879.2,1016.0 L893.2,1029.3 L888.2,1036.2 L883.0,1043.0 L877.6,1049.5 L872.3,1056.0 L867.4,1062.5 L862.3,1068.9 L866.4,1080.5 L860.3,1086.4 L854.0,1092.0 L847.6,1097.4 L841.4,1102.9 L835.5,1108.4 L829.4,1113.8 L823.3,1118.9 L817.4,1124.2 L811.6,1129.5 L805.7,1134.7 L799.8,1139.8 L794.0,1145.1 L788.3,1150.4 L782.4,1155.5 L776.4,1160.5 L770.6,1165.9 L764.8,1171.2 L758.8,1176.5 L744.9,1168.9 L738.5,1172.8 L732.1,1176.9 L725.6,1180.9 L719.1,1184.7 L712.5,1188.5 L706.1,1192.8 L699.5,1197.0 L692.7,1200.9 L685.9,1204.7 L674.9,1195.0 L667.9,1197.4 L660.8,1199.6 L653.6,1201.7 L646.4,1203.5 L639.1,1205.1 L631.7,1206.4 L624.4,1207.6 L616.9,1208.6 L609.5,1209.3 L602.0,1209.6 L594.5,1209.4 L587.0,1208.7 L579.6,1207.7 L572.2,1206.6 L564.9,1205.4 L557.6,1204.1 L550.3,1202.6 L543.1,1200.9 L535.9,1199.1 L528.8,1197.2 L521.7,1195.1 L514.7,1192.9 L500.6,1212.6 L494.0,1207.2 L487.7,1201.7 L481.6,1196.0 L475.5,1190.8 L469.4,1185.8 L463.5,1180.7 L457.7,1175.5 L446.1,1180.6 L440.3,1175.2 L434.6,1169.7 L429.2,1164.0 L423.6,1158.7 L418.0,1153.5 L412.6,1148.2 L407.3,1142.7 L401.8,1137.5 L396.3,1132.4 L390.9,1127.1 L385.5,1121.8 L380.1,1116.5 L374.8,1111.1 L369.6,1105.6 L364.4,1100.1 L359.2,1094.5 L353.6,1089.1 L348.2,1083.5 L342.8,1077.7 L337.3,1072.0 L331.5,1066.3 L325.9,1060.4 L320.3,1054.3 L326.3,1042.9 L321.5,1036.6 L316.6,1030.2 L312.0,1023.5 L307.5,1016.8 L302.7,1009.9 L297.7,1003.0 L292.8,995.9 L288.0,988.7 L302.1,977.7 L300.3,970.1 L298.9,962.4 L297.8,954.7 L297.0,946.9 L296.5,939.1 L296.5,931.3Z" fill="#0082ff"/>
<path d="M303.4,923.5 L304.2,915.9 L305.2,908.3 L306.4,900.8 L307.8,893.4 L309.5,886.0 L311.3,878.7 L305.0,869.8 L308.3,862.7 L311.8,855.6 L315.5,848.7 L318.9,841.9 L322.1,835.0 L325.4,828.2 L328.9,821.6 L332.5,815.0 L335.5,808.2 L334.8,799.6 L339.0,793.3 L343.3,787.1 L347.8,781.1 L352.0,774.9 L356.2,768.7 L360.6,762.7 L365.1,756.9 L369.2,750.6 L373.4,744.5 L378.0,738.6 L382.7,732.8 L387.8,727.4 L393.2,722.2 L398.9,717.4 L404.8,712.8 L410.9,708.5 L417.0,704.3 L422.7,699.6 L428.5,695.0 L434.4,690.5 L440.4,686.2 L446.2,681.4 L452.1,676.8 L458.1,672.3 L466.7,672.8 L473.0,668.7 L479.3,664.7 L485.7,660.9 L492.3,657.2 L498.9,653.5 L505.4,649.4 L512.1,645.4 L519.0,641.7 L526.0,638.1 L536.4,650.0 L543.6,648.9 L550.9,648.0 L558.1,647.3 L565.4,646.8 L572.7,646.3 L580.0,646.0 L587.2,645.8 L594.5,645.7 L601.8,646.0 L609.0,646.5 L616.2,647.2 L623.4,648.1 L630.6,649.0 L637.8,650.0 L645.0,651.2 L653.9,644.2 L660.9,647.0 L667.8,650.0 L674.6,653.1 L681.3,656.4 L688.0,659.4 L694.8,662.2 L701.5,665.1 L708.2,668.2 L714.7,671.4 L721.6,674.1 L731.3,671.6 L737.5,675.9 L743.5,680.3 L749.4,684.9 L755.5,689.3 L761.5,693.7 L767.4,698.2 L773.1,702.9 L779.1,707.3 L785.3,711.6 L791.3,716.1 L797.0,721.0 L802.6,726.1 L807.9,731.4 L813.0,736.9 L818.2,742.3 L823.7,747.6 L829.1,753.0 L834.4,758.6 L839.8,764.2 L845.3,769.8 L850.8,775.5 L856.1,781.5 L851.1,792.7 L854.7,799.4 L858.3,806.0 L861.8,812.8 L865.1,819.6 L868.4,826.5 L872.2,833.3 L875.8,840.2 L879.2,847.2 L882.5,854.4 L880.8,862.6 L882.3,870.2 L883.5,877.7 L884.4,885.3 L885.3,892.9 L886.1,900.6 L886.7,908.2 L887.2,915.8 L887.3,923.5 L887.2,931.2 L886.9,938.8 L886.5,946.5 L885.9,954.1 L885.0,961.7 L884.0,969.4 L882.8,976.9 L881.3,984.5 L879.7,992.0 L877.8,999.4 L875.7,1006.8 L873.2,1014.1 L887.3,1027.2 L882.4,1034.0 L877.2,1040.6 L871.9,1047.0 L866.8,1053.4 L861.9,1059.8 L857.0,1066.0 L859.7,1076.6 L853.8,1082.4 L847.9,1088.1 L841.9,1093.5 L836.0,1098.9 L830.2,1104.4 L824.4,1109.7 L818.5,1114.8 L812.8,1120.0 L807.0,1125.2 L801.3,1130.3 L795.4,1135.2 L789.7,1140.3 L784.0,1145.3 L778.1,1150.3 L772.1,1155.0 L766.4,1160.1 L760.5,1165.1 L754.5,1170.0 L742.0,1164.2 L735.7,1168.0 L729.4,1172.0 L723.1,1175.9 L716.7,1179.6 L710.2,1183.3 L703.9,1187.5 L697.4,1191.6 L690.8,1195.4 L684.1,1199.1 L673.2,1189.3 L666.4,1191.7 L659.4,1193.8 L652.4,1195.8 L645.3,1197.5 L638.1,1199.1 L631.0,1200.4 L623.7,1201.5 L616.5,1202.5 L609.2,1203.2 L601.8,1203.5 L594.5,1203.3 L587.2,1202.6 L579.9,1201.6 L572.7,1200.6 L565.5,1199.4 L558.3,1198.1 L551.2,1196.6 L544.2,1195.0 L537.2,1193.2 L530.2,1191.4 L523.3,1189.4 L516.4,1187.1 L502.4,1206.9 L496.0,1201.6 L489.8,1196.2 L483.9,1190.6 L477.9,1185.5 L471.9,1180.5 L466.1,1175.5 L460.4,1170.4 L450.0,1173.8 L444.3,1168.6 L438.8,1163.2 L433.5,1157.8 L428.0,1152.7 L422.5,1147.6 L417.2,1142.4 L412.0,1137.2 L406.6,1132.2 L401.2,1127.2 L396.0,1122.0 L390.7,1116.9 L385.5,1111.7 L380.3,1106.4 L375.2,1101.1 L370.1,1095.7 L365.1,1090.2 L359.7,1084.9 L354.5,1079.4 L349.3,1073.7 L344.1,1068.1 L338.6,1062.5 L333.2,1056.7 L327.9,1050.7 L332.2,1040.3 L327.5,1034.1 L322.7,1027.8 L318.1,1021.4 L313.7,1014.7 L309.0,1008.1 L304.0,1001.3 L299.1,994.4 L294.4,987.3 L308.5,976.5 L306.7,969.1 L305.4,961.6 L304.4,954.0 L303.5,946.4 L303.1,938.8 L303.0,931.1Z" fill="#0098ff"/>
<path d="M309.9,923.5 L310.7,916.1 L311.7,908.7 L312.8,901.3 L314.2,894.0 L315.8,886.8 L317.6,879.6 L311.2,871.0 L314.5,864.0 L317.9,857.1 L321.5,850.3 L324.9,843.6 L328.0,836.9 L331.2,830.3 L334.7,823.8 L338.2,817.3 L341.1,810.7 L341.1,802.6 L345.0,796.4 L349.1,790.2 L353.3,784.2 L357.3,778.1 L361.3,772.1 L365.6,766.2 L370.0,760.4 L374.1,754.4 L378.3,748.4 L382.8,742.7 L387.5,737.1 L392.5,731.8 L397.8,726.8 L403.3,722.0 L409.0,717.5 L414.9,713.2 L420.9,709.1 L426.5,704.6 L432.3,700.2 L438.1,696.0 L444.0,691.8 L449.8,687.3 L455.7,683.0 L461.6,678.7 L469.6,678.3 L475.7,674.4 L481.8,670.4 L488.1,666.7 L494.5,663.1 L501.0,659.4 L507.4,655.3 L513.9,651.4 L520.6,647.7 L527.4,644.1 L537.7,656.1 L544.7,655.0 L551.8,654.1 L558.9,653.5 L566.1,652.9 L573.2,652.5 L580.3,652.2 L587.4,651.9 L594.5,651.9 L601.6,652.1 L608.7,652.6 L615.8,653.4 L622.8,654.2 L629.8,655.1 L636.9,656.1 L643.9,657.2 L652.6,650.2 L659.4,653.0 L666.2,655.9 L672.9,659.0 L679.4,662.2 L686.0,665.2 L692.6,668.0 L699.1,670.9 L705.6,673.9 L712.0,677.1 L718.7,679.7 L727.7,678.2 L733.8,682.3 L739.8,686.4 L745.7,690.6 L751.7,694.7 L757.6,698.9 L763.4,703.3 L769.1,707.9 L775.0,712.2 L781.0,716.4 L786.8,720.8 L792.4,725.6 L797.8,730.5 L803.0,735.7 L808.1,741.1 L813.1,746.5 L818.4,751.7 L823.5,757.1 L828.5,762.7 L833.5,768.3 L838.6,773.9 L843.6,779.7 L848.5,785.6 L845.1,795.8 L848.6,802.3 L852.2,808.8 L855.6,815.4 L858.9,822.0 L862.1,828.7 L865.9,835.3 L869.5,842.1 L872.9,848.9 L876.1,855.9 L874.4,864.0 L875.9,871.4 L877.0,878.8 L878.0,886.2 L878.9,893.6 L879.6,901.1 L880.3,908.5 L880.7,916.0 L880.9,923.5 L880.8,931.0 L880.5,938.5 L880.1,946.0 L879.5,953.5 L878.7,960.9 L877.7,968.4 L876.5,975.8 L875.1,983.1 L873.5,990.5 L871.7,997.8 L869.6,1005.0 L867.2,1012.1 L881.4,1025.1 L876.5,1031.8 L871.5,1038.2 L866.3,1044.5 L861.2,1050.7 L856.5,1057.0 L851.7,1063.1 L852.9,1072.7 L847.3,1078.4 L841.8,1084.1 L836.1,1089.6 L830.5,1095.0 L825.0,1100.4 L819.4,1105.6 L813.6,1110.7 L808.1,1115.8 L802.5,1120.9 L796.8,1125.8 L791.0,1130.6 L785.4,1135.5 L779.7,1140.3 L773.9,1145.0 L767.9,1149.5 L762.1,1154.2 L756.3,1158.9 L750.3,1163.5 L739.1,1159.4 L732.9,1163.2 L726.8,1167.1 L720.5,1170.9 L714.2,1174.5 L707.9,1178.1 L701.7,1182.2 L695.3,1186.2 L688.9,1190.0 L682.3,1193.6 L671.6,1183.7 L664.8,1185.9 L658.0,1188.0 L651.1,1189.9 L644.2,1191.6 L637.2,1193.1 L630.2,1194.3 L623.1,1195.4 L616.0,1196.3 L608.8,1197.0 L601.7,1197.3 L594.5,1197.1 L587.4,1196.5 L580.2,1195.5 L573.2,1194.5 L566.1,1193.4 L559.1,1192.1 L552.2,1190.7 L545.3,1189.1 L538.4,1187.4 L531.6,1185.5 L524.8,1183.6 L518.1,1181.4 L504.2,1201.3 L498.0,1196.0 L491.9,1190.7 L486.1,1185.2 L480.2,1180.1 L474.4,1175.3 L468.7,1170.3 L463.2,1165.3 L453.9,1167.1 L448.4,1162.0 L443.0,1156.8 L437.8,1151.5 L432.4,1146.6 L427.1,1141.7 L421.9,1136.7 L416.7,1131.7 L411.4,1126.8 L406.2,1121.9 L401.1,1116.9 L396.0,1111.9 L390.8,1106.9 L385.8,1101.7 L380.8,1096.5 L375.9,1091.2 L371.0,1085.9 L365.8,1080.7 L360.8,1075.3 L355.8,1069.8 L350.8,1064.2 L345.6,1058.7 L340.4,1052.9 L335.4,1047.1 L338.1,1037.6 L333.5,1031.6 L328.8,1025.5 L324.3,1019.2 L319.9,1012.7 L315.2,1006.2 L310.3,999.7 L305.4,992.9 L300.8,985.9 L314.9,975.3 L313.2,968.1 L311.9,960.7 L310.9,953.3 L310.1,945.9 L309.6,938.4 L309.6,931.0Z" fill="#00aeff"/>
<path d="M316.5,923.5 L317.2,916.2 L318.1,909.0 L319.3,901.8 L320.6,894.7 L322.1,887.6 L323.9,880.6 L317.4,872.1 L320.6,865.3 L324.0,858.6 L327.5,852.0 L330.8,845.4 L333.8,838.8 L337.0,832.3 L340.4,826.0 L343.9,819.7 L346.6,813.1 L347.3,805.6 L351.0,799.4 L354.8,793.3 L358.7,787.4 L362.5,781.4 L366.5,775.4 L370.6,769.6 L374.9,764.0 L379.0,758.1 L383.2,752.4 L387.6,746.8 L392.3,741.4 L397.2,736.2 L402.3,731.3 L407.7,726.6 L413.3,722.2 L418.9,718.0 L424.8,713.9 L430.4,709.6 L436.1,705.5 L441.9,701.4 L447.7,697.4 L453.4,693.2 L459.2,689.2 L465.0,685.0 L472.4,683.9 L478.4,680.0 L484.4,676.2 L490.5,672.5 L496.8,668.9 L503.1,665.3 L509.3,661.3 L515.7,657.4 L522.2,653.7 L528.9,650.2 L538.9,662.1 L545.9,661.1 L552.8,660.2 L559.8,659.6 L566.7,659.1 L573.7,658.6 L580.6,658.3 L587.6,658.1 L594.5,658.1 L601.4,658.3 L608.4,658.8 L615.3,659.5 L622.2,660.3 L629.0,661.2 L635.9,662.1 L642.7,663.2 L651.3,656.2 L658.0,659.0 L664.6,661.8 L671.1,664.9 L677.5,668.1 L683.9,671.0 L690.4,673.7 L696.8,676.6 L703.1,679.6 L709.3,682.7 L715.8,685.3 L724.0,684.9 L730.1,688.6 L736.1,692.4 L742.0,696.3 L748.0,700.2 L753.8,704.2 L759.5,708.4 L765.1,712.8 L770.9,717.0 L776.7,721.2 L782.3,725.6 L787.8,730.2 L793.1,735.0 L798.2,740.1 L803.2,745.3 L808.0,750.6 L813.0,755.8 L817.9,761.2 L822.5,766.8 L827.2,772.4 L831.9,778.0 L836.4,783.8 L840.8,789.7 L839.0,798.9 L842.5,805.2 L846.0,811.5 L849.4,817.9 L852.6,824.4 L855.9,830.9 L859.6,837.4 L863.1,843.9 L866.5,850.6 L869.7,857.4 L868.0,865.4 L869.4,872.5 L870.6,879.8 L871.6,887.0 L872.4,894.3 L873.2,901.6 L873.8,908.9 L874.2,916.2 L874.4,923.5 L874.3,930.8 L874.1,938.2 L873.7,945.5 L873.1,952.8 L872.4,960.1 L871.4,967.4 L870.2,974.6 L868.9,981.8 L867.4,989.0 L865.6,996.1 L863.6,1003.2 L861.2,1010.2 L875.5,1023.0 L870.7,1029.5 L865.8,1035.9 L860.7,1042.0 L855.7,1048.1 L851.1,1054.2 L846.3,1060.2 L846.1,1068.8 L840.8,1074.4 L835.7,1080.2 L830.4,1085.6 L825.0,1091.0 L819.7,1096.3 L814.3,1101.5 L808.8,1106.6 L803.4,1111.6 L797.9,1116.6 L792.4,1121.4 L786.7,1126.0 L781.1,1130.7 L775.4,1135.3 L769.6,1139.7 L763.7,1144.0 L757.9,1148.4 L752.1,1152.7 L746.1,1156.9 L736.2,1154.7 L730.1,1158.4 L724.1,1162.2 L718.0,1165.9 L711.8,1169.4 L705.6,1173.0 L699.5,1176.9 L693.3,1180.8 L686.9,1184.5 L680.4,1188.0 L669.9,1178.0 L663.3,1180.2 L656.6,1182.2 L649.9,1184.0 L643.1,1185.6 L636.2,1187.1 L629.4,1188.3 L622.4,1189.3 L615.5,1190.2 L608.5,1190.9 L601.5,1191.1 L594.5,1191.0 L587.5,1190.3 L580.6,1189.4 L573.7,1188.4 L566.8,1187.3 L559.9,1186.1 L553.1,1184.7 L546.4,1183.1 L539.7,1181.5 L533.0,1179.7 L526.4,1177.8 L519.8,1175.7 L506.1,1195.6 L500.0,1190.5 L494.1,1185.2 L488.4,1179.8 L482.6,1174.8 L476.9,1170.0 L471.4,1165.1 L466.0,1160.2 L457.8,1160.3 L452.4,1155.4 L447.2,1150.3 L442.1,1145.3 L436.8,1140.5 L431.6,1135.8 L426.5,1131.0 L421.4,1126.1 L416.3,1121.5 L411.2,1116.7 L406.2,1111.8 L401.2,1107.0 L396.2,1102.1 L391.3,1097.1 L386.5,1092.0 L381.6,1086.8 L376.8,1081.6 L371.9,1076.5 L367.1,1071.2 L362.3,1065.8 L357.5,1060.3 L352.6,1054.8 L347.7,1049.2 L343.0,1043.5 L344.1,1035.0 L339.5,1029.1 L334.9,1023.2 L330.4,1017.0 L326.1,1010.7 L321.5,1004.4 L316.6,998.0 L311.8,991.4 L307.1,984.6 L321.4,974.1 L319.7,967.0 L318.4,959.9 L317.4,952.6 L316.6,945.4 L316.2,938.1 L316.1,930.8Z" fill="#00c3ff"/>
<path d="M323.0,923.5 L323.7,916.4 L324.6,909.4 L325.7,902.3 L327.0,895.4 L328.5,888.5 L330.2,881.6 L323.6,873.3 L326.8,866.6 L330.1,860.0 L333.5,853.6 L336.8,847.2 L339.7,840.7 L342.8,834.4 L346.1,828.2 L349.5,822.0 L352.2,815.6 L353.6,808.6 L357.0,802.5 L360.5,796.5 L364.2,790.5 L367.8,784.6 L371.6,778.8 L375.6,773.1 L379.8,767.5 L383.9,761.9 L388.1,756.3 L392.5,751.0 L397.0,745.7 L401.8,740.7 L406.9,735.9 L412.1,731.3 L417.5,726.9 L423.0,722.7 L428.7,718.7 L434.2,714.6 L439.9,710.7 L445.6,706.9 L451.3,703.0 L457.0,699.1 L462.8,695.3 L468.5,691.4 L475.3,689.5 L481.1,685.7 L486.9,681.9 L492.9,678.2 L499.0,674.7 L505.2,671.2 L511.2,667.2 L517.5,663.4 L523.8,659.7 L530.3,656.2 L540.2,668.2 L547.0,667.2 L553.8,666.4 L560.6,665.7 L567.4,665.2 L574.1,664.8 L580.9,664.5 L587.7,664.3 L594.5,664.3 L601.3,664.5 L608.1,664.9 L614.8,665.6 L621.5,666.4 L628.2,667.3 L634.9,668.2 L641.6,669.3 L650.0,662.2 L656.6,664.9 L663.0,667.8 L669.4,670.8 L675.6,673.9 L681.9,676.8 L688.2,679.5 L694.4,682.3 L700.6,685.3 L706.6,688.4 L713.0,691.0 L720.4,691.6 L726.4,695.0 L732.4,698.4 L738.3,702.0 L744.2,705.6 L750.0,709.5 L755.6,713.5 L761.1,717.7 L766.7,721.8 L772.4,726.0 L777.9,730.3 L783.2,734.8 L788.4,739.5 L793.4,744.4 L798.2,749.5 L802.9,754.7 L807.6,760.0 L812.2,765.3 L816.6,770.8 L820.9,776.5 L825.1,782.2 L829.3,788.0 L833.2,793.9 L833.0,802.0 L836.4,808.1 L839.9,814.2 L843.2,820.5 L846.4,826.8 L849.6,833.2 L853.3,839.4 L856.8,845.8 L860.2,852.3 L863.4,859.0 L861.6,866.7 L863.0,873.7 L864.2,880.8 L865.1,887.9 L866.0,895.0 L866.7,902.1 L867.4,909.2 L867.8,916.3 L868.0,923.5 L867.9,930.7 L867.7,937.8 L867.3,945.0 L866.7,952.1 L866.0,959.2 L865.1,966.4 L864.0,973.4 L862.7,980.5 L861.2,987.5 L859.5,994.5 L857.5,1001.4 L855.3,1008.2 L869.6,1020.9 L864.9,1027.3 L860.1,1033.5 L855.1,1039.5 L850.2,1045.5 L845.7,1051.5 L841.0,1057.4 L839.4,1064.9 L834.3,1070.4 L829.7,1076.2 L824.7,1081.7 L819.6,1087.0 L814.5,1092.3 L809.3,1097.4 L804.0,1102.4 L798.8,1107.4 L793.4,1112.2 L787.9,1116.9 L782.3,1121.4 L776.7,1125.9 L771.1,1130.2 L765.3,1134.4 L759.4,1138.5 L753.6,1142.5 L747.8,1146.6 L741.9,1150.4 L733.3,1150.0 L727.3,1153.5 L721.4,1157.3 L715.4,1160.9 L709.4,1164.3 L703.2,1167.8 L697.3,1171.6 L691.2,1175.4 L685.0,1179.0 L678.6,1182.4 L668.2,1172.4 L661.7,1174.5 L655.2,1176.4 L648.6,1178.1 L642.0,1179.7 L635.3,1181.1 L628.6,1182.2 L621.8,1183.2 L615.0,1184.1 L608.2,1184.7 L601.3,1185.0 L594.5,1184.8 L587.7,1184.2 L580.9,1183.3 L574.1,1182.3 L567.4,1181.3 L560.7,1180.1 L554.1,1178.7 L547.5,1177.2 L540.9,1175.6 L534.4,1173.9 L527.9,1172.0 L521.5,1170.0 L507.9,1190.0 L501.9,1184.9 L496.2,1179.7 L490.6,1174.3 L485.0,1169.4 L479.4,1164.7 L474.0,1159.9 L468.8,1155.0 L461.7,1153.6 L456.4,1148.8 L451.4,1143.9 L446.4,1139.0 L441.2,1134.5 L436.1,1129.9 L431.2,1125.2 L426.1,1120.6 L421.1,1116.1 L416.1,1111.5 L411.3,1106.7 L406.4,1102.0 L401.5,1097.3 L396.8,1092.4 L392.1,1087.4 L387.4,1082.4 L382.7,1077.4 L378.0,1072.3 L373.4,1067.1 L368.8,1061.8 L364.2,1056.5 L359.6,1051.0 L355.0,1045.5 L350.6,1039.9 L350.0,1032.4 L345.5,1026.6 L341.0,1020.8 L336.6,1014.8 L332.3,1008.7 L327.7,1002.5 L322.9,996.3 L318.1,989.9 L313.5,983.2 L327.8,972.9 L326.2,966.0 L324.9,959.0 L323.9,951.9 L323.1,944.9 L322.7,937.7 L322.6,930.6Z" fill="#00d9ff"/>
<path d="M329.5,923.5 L330.2,916.6 L331.0,909.7 L332.1,902.8 L333.4,896.1 L334.8,889.3 L336.4,882.6 L329.8,874.4 L332.9,867.9 L336.1,861.5 L339.5,855.2 L342.7,848.9 L345.6,842.6 L348.6,836.4 L351.8,830.4 L355.2,824.4 L357.8,818.1 L359.8,811.6 L363.0,805.5 L366.2,799.6 L369.6,793.7 L373.1,787.8 L376.8,782.1 L380.7,776.5 L384.7,771.1 L388.7,765.6 L392.9,760.3 L397.3,755.1 L401.8,750.0 L406.5,745.1 L411.4,740.4 L416.5,735.9 L421.7,731.6 L427.0,727.4 L432.6,723.5 L438.1,719.7 L443.7,716.0 L449.3,712.3 L455.0,708.6 L460.6,705.0 L466.3,701.5 L471.9,697.7 L478.1,695.0 L483.7,691.3 L489.5,687.6 L495.3,684.0 L501.3,680.6 L507.2,677.1 L513.2,673.2 L519.2,669.4 L525.4,665.8 L531.8,662.3 L541.5,674.3 L548.1,673.3 L554.7,672.5 L561.4,671.8 L568.0,671.3 L574.6,670.9 L581.2,670.6 L587.9,670.4 L594.5,670.4 L601.1,670.6 L607.7,671.1 L614.3,671.7 L620.9,672.5 L627.4,673.3 L634.0,674.3 L640.5,675.3 L648.8,668.2 L655.1,670.9 L661.4,673.7 L667.6,676.7 L673.7,679.8 L679.8,682.6 L686.0,685.3 L692.0,688.1 L698.0,691.0 L703.9,694.1 L710.1,696.6 L716.8,698.2 L722.7,701.4 L728.7,704.5 L734.6,707.7 L740.5,711.1 L746.2,714.7 L751.7,718.6 L757.2,722.6 L762.6,726.7 L768.1,730.7 L773.4,735.0 L778.6,739.4 L783.7,744.0 L788.5,748.8 L793.3,753.7 L797.8,758.9 L802.3,764.1 L806.6,769.4 L810.7,774.9 L814.6,780.6 L818.4,786.3 L822.1,792.1 L825.6,798.0 L826.9,805.1 L830.3,811.0 L833.7,817.0 L837.0,823.0 L840.2,829.2 L843.4,835.4 L847.0,841.5 L850.5,847.7 L853.8,854.0 L857.0,860.5 L855.2,868.1 L856.6,874.9 L857.7,881.8 L858.7,888.7 L859.5,895.6 L860.3,902.6 L860.9,909.5 L861.3,916.5 L861.5,923.5 L861.5,930.5 L861.2,937.5 L860.9,944.5 L860.4,951.4 L859.7,958.4 L858.8,965.4 L857.7,972.3 L856.5,979.2 L855.0,986.0 L853.4,992.9 L851.5,999.6 L849.3,1006.3 L863.7,1018.8 L859.1,1025.1 L854.3,1031.1 L849.4,1037.0 L844.6,1042.8 L840.3,1048.7 L835.7,1054.5 L832.6,1061.0 L827.8,1066.5 L823.6,1072.3 L818.9,1077.8 L814.1,1083.1 L809.2,1088.2 L804.3,1093.4 L799.2,1098.3 L794.1,1103.2 L788.8,1107.9 L783.4,1112.4 L778.0,1116.8 L772.4,1121.1 L766.8,1125.2 L761.0,1129.2 L755.2,1132.9 L749.4,1136.7 L743.6,1140.4 L737.7,1143.9 L730.4,1145.2 L724.5,1148.7 L718.8,1152.4 L712.9,1155.9 L706.9,1159.2 L700.9,1162.6 L695.1,1166.3 L689.1,1170.0 L683.0,1173.5 L676.8,1176.9 L666.5,1166.7 L660.2,1168.7 L653.8,1170.6 L647.4,1172.3 L640.9,1173.7 L634.3,1175.1 L627.8,1176.2 L621.2,1177.2 L614.5,1178.0 L607.9,1178.6 L601.2,1178.8 L594.5,1178.6 L587.8,1178.0 L581.2,1177.2 L574.6,1176.3 L568.0,1175.2 L561.5,1174.1 L555.0,1172.8 L548.6,1171.3 L542.2,1169.7 L535.8,1168.1 L529.5,1166.2 L523.2,1164.2 L509.8,1184.3 L503.9,1179.3 L498.3,1174.2 L492.8,1168.9 L487.4,1164.1 L481.9,1159.5 L476.7,1154.7 L471.6,1149.9 L465.6,1146.8 L460.5,1142.2 L455.5,1137.5 L450.7,1132.8 L445.6,1128.4 L440.7,1124.0 L435.8,1119.5 L430.8,1115.1 L425.9,1110.7 L421.1,1106.2 L416.3,1101.7 L411.6,1097.1 L406.9,1092.5 L402.3,1087.7 L397.7,1082.8 L393.1,1078.0 L388.6,1073.1 L384.1,1068.1 L379.7,1063.0 L375.3,1057.8 L370.9,1052.6 L366.7,1047.2 L362.3,1041.8 L358.1,1036.2 L355.9,1029.7 L351.5,1024.1 L347.0,1018.5 L342.7,1012.7 L338.5,1006.7 L334.0,1000.7 L329.1,994.6 L324.5,988.3 L319.9,981.9 L334.2,971.7 L332.6,965.0 L331.4,958.1 L330.4,951.3 L329.7,944.3 L329.2,937.4 L329.2,930.4Z" fill="#00efff"/>
<path d="M336.0,923.5 L336.7,916.7 L337.5,910.0 L338.5,903.4 L339.7,896.7 L341.1,890.1 L342.7,883.6 L336.1,875.6 L339.1,869.2 L342.2,862.9 L345.6,856.8 L348.6,850.7 L351.5,844.5 L354.4,838.5 L357.6,832.6 L360.8,826.7 L363.4,820.6 L366.1,814.6 L369.0,808.6 L372.0,802.7 L375.1,796.8 L378.4,791.1 L381.9,785.4 L385.7,780.0 L389.6,774.6 L393.6,769.4 L397.8,764.2 L402.1,759.2 L406.6,754.3 L411.2,749.5 L415.9,744.9 L420.9,740.5 L425.9,736.3 L431.1,732.2 L436.5,728.3 L441.9,724.7 L447.5,721.2 L453.1,717.7 L458.6,714.3 L464.2,710.9 L469.9,707.7 L475.4,704.1 L480.9,700.6 L486.4,696.9 L492.0,693.3 L497.7,689.8 L503.5,686.4 L509.3,683.0 L515.1,679.1 L521.0,675.4 L527.1,671.8 L533.2,668.4 L542.8,680.4 L549.3,679.4 L555.7,678.6 L562.2,678.0 L568.6,677.5 L575.1,677.1 L581.6,676.8 L588.0,676.6 L594.5,676.6 L601.0,676.8 L607.4,677.2 L613.8,677.9 L620.2,678.6 L626.6,679.4 L633.0,680.3 L639.4,681.3 L647.5,674.2 L653.7,676.9 L659.8,679.6 L665.9,682.6 L671.8,685.6 L677.8,688.4 L683.7,691.0 L689.7,693.8 L695.5,696.7 L701.2,699.8 L707.2,702.3 L713.2,704.9 L719.1,707.7 L725.0,710.5 L730.9,713.4 L736.8,716.5 L742.4,720.0 L747.8,723.7 L753.2,727.6 L758.5,731.5 L763.8,735.5 L769.0,739.7 L774.1,743.9 L779.0,748.5 L783.7,753.1 L788.3,758.0 L792.7,763.0 L796.9,768.2 L801.0,773.5 L804.8,779.0 L808.3,784.7 L811.7,790.4 L814.9,796.2 L818.0,802.2 L820.9,808.1 L824.2,813.9 L827.6,819.7 L830.9,825.6 L834.0,831.6 L837.1,837.6 L840.7,843.5 L844.2,849.5 L847.5,855.7 L850.6,862.0 L848.8,869.5 L850.2,876.1 L851.3,882.8 L852.2,889.6 L853.1,896.3 L853.8,903.1 L854.4,909.9 L854.9,916.7 L855.1,923.5 L855.0,930.3 L854.8,937.1 L854.5,944.0 L854.0,950.8 L853.3,957.6 L852.5,964.4 L851.5,971.1 L850.2,977.9 L848.8,984.6 L847.3,991.2 L845.4,997.8 L843.3,1004.3 L857.8,1016.7 L853.3,1022.8 L848.6,1028.8 L843.8,1034.5 L839.1,1040.2 L834.8,1046.0 L830.4,1051.6 L825.8,1057.1 L821.3,1062.5 L817.5,1068.3 L813.2,1073.8 L808.6,1079.1 L803.9,1084.2 L799.2,1089.3 L794.4,1094.2 L789.4,1099.0 L784.3,1103.6 L779.0,1108.0 L773.6,1112.2 L768.1,1116.3 L762.5,1120.2 L756.8,1123.9 L751.0,1127.4 L745.2,1130.9 L739.3,1134.2 L733.4,1137.4 L727.5,1140.5 L721.8,1143.9 L716.1,1147.5 L710.3,1150.9 L704.5,1154.1 L698.6,1157.4 L692.9,1161.1 L687.1,1164.6 L681.1,1168.0 L675.0,1171.3 L664.9,1161.1 L658.7,1163.0 L652.4,1164.8 L646.1,1166.4 L639.8,1167.8 L633.4,1169.1 L627.0,1170.1 L620.5,1171.1 L614.0,1171.9 L607.5,1172.4 L601.0,1172.7 L594.5,1172.5 L588.0,1171.9 L581.5,1171.1 L575.1,1170.2 L568.7,1169.2 L562.3,1168.1 L556.0,1166.8 L549.7,1165.4 L543.4,1163.9 L537.2,1162.2 L531.0,1160.5 L524.9,1158.5 L511.6,1178.6 L505.9,1173.7 L500.4,1168.7 L495.1,1163.5 L489.8,1158.8 L484.5,1154.2 L479.3,1149.6 L474.4,1144.8 L469.5,1140.1 L464.5,1135.6 L459.7,1131.0 L455.0,1126.5 L450.0,1122.3 L445.2,1118.1 L440.4,1113.7 L435.5,1109.6 L430.7,1105.4 L426.1,1101.0 L421.4,1096.6 L416.8,1092.2 L412.2,1087.6 L407.8,1083.0 L403.4,1078.3 L398.9,1073.6 L394.5,1068.8 L390.2,1063.9 L386.0,1058.9 L381.8,1053.9 L377.7,1048.7 L373.7,1043.4 L369.6,1038.1 L365.7,1032.6 L361.8,1027.1 L357.5,1021.6 L353.1,1016.2 L348.8,1010.5 L344.7,1004.7 L340.2,998.8 L335.4,992.9 L330.8,986.8 L326.3,980.5 L340.7,970.5 L339.1,963.9 L337.9,957.3 L337.0,950.6 L336.2,943.8 L335.8,937.1 L335.7,930.3Z" fill="#00fffa"/>
<path d="M342.5,923.5 L343.2,916.9 L344.0,910.4 L344.9,903.9 L346.1,897.4 L347.5,891.0 L349.0,884.6 L343.7,877.0 L346.4,870.8 L349.3,864.6 L352.4,858.6 L355.3,852.6 L357.9,846.6 L360.8,840.7 L363.7,834.9 L366.8,829.2 L369.4,823.3 L372.0,817.4 L374.9,811.6 L377.8,805.8 L380.9,800.2 L384.1,794.6 L387.6,789.1 L391.2,783.8 L395.0,778.6 L399.0,773.5 L403.1,768.5 L407.3,763.6 L411.6,758.8 L416.0,754.2 L420.7,749.7 L425.4,745.3 L430.3,741.2 L435.3,737.1 L440.5,733.3 L445.8,729.7 L451.2,726.2 L456.6,722.8 L462.0,719.4 L467.4,716.1 L473.0,713.0 L478.3,709.5 L483.8,706.2 L489.2,702.8 L494.7,699.4 L500.3,696.1 L506.0,692.9 L511.7,689.8 L517.4,686.3 L523.2,682.9 L529.2,679.7 L535.2,676.6 L544.1,686.5 L550.4,685.5 L556.7,684.7 L563.0,684.1 L569.3,683.6 L575.6,683.2 L581.9,682.9 L588.2,682.8 L594.5,682.8 L600.8,683.0 L607.1,683.4 L613.3,684.0 L619.6,684.7 L625.8,685.5 L632.1,686.4 L638.3,687.4 L645.9,681.6 L652.0,684.0 L658.0,686.5 L663.9,689.2 L669.7,692.0 L675.6,694.6 L681.4,697.0 L687.2,699.6 L692.9,702.4 L698.6,705.3 L704.5,707.7 L710.3,710.3 L716.0,713.0 L721.8,715.7 L727.6,718.5 L733.3,721.5 L738.8,724.9 L744.1,728.5 L749.4,732.2 L754.6,736.1 L759.8,740.0 L764.8,744.0 L769.8,748.2 L774.5,752.7 L779.1,757.3 L783.6,762.0 L787.8,767.0 L791.9,772.0 L795.8,777.2 L799.6,782.6 L803.1,788.0 L806.4,793.6 L809.6,799.3 L812.7,805.0 L815.6,810.8 L818.8,816.5 L822.1,822.2 L825.2,827.9 L828.2,833.8 L831.2,839.7 L834.5,845.5 L837.7,851.5 L840.7,857.5 L843.6,863.7 L842.4,870.8 L843.7,877.3 L844.9,883.8 L845.8,890.4 L846.6,897.0 L847.4,903.6 L848.0,910.2 L848.4,916.9 L848.6,923.5 L848.6,930.2 L848.4,936.8 L848.1,943.5 L847.6,950.1 L847.0,956.7 L846.2,963.4 L845.2,970.0 L844.0,976.5 L842.7,983.1 L841.1,989.6 L839.4,996.0 L837.3,1002.4 L849.1,1013.7 L845.0,1019.6 L840.7,1025.5 L836.3,1031.1 L831.9,1036.7 L827.9,1042.4 L823.7,1047.9 L819.3,1053.3 L815.0,1058.6 L811.2,1064.2 L807.0,1069.6 L802.6,1074.7 L798.0,1079.6 L793.4,1084.5 L788.6,1089.3 L783.8,1094.0 L778.8,1098.4 L773.7,1102.7 L768.5,1106.8 L763.2,1110.8 L757.7,1114.6 L752.2,1118.3 L746.6,1121.7 L741.0,1125.1 L735.3,1128.4 L729.6,1131.6 L723.8,1134.6 L718.3,1137.9 L712.7,1141.2 L707.1,1144.5 L701.4,1147.6 L695.7,1150.7 L690.0,1154.1 L684.3,1157.5 L678.5,1160.6 L672.5,1163.7 L663.2,1155.4 L657.1,1157.3 L651.0,1159.0 L644.9,1160.5 L638.7,1161.9 L632.4,1163.1 L626.2,1164.1 L619.9,1165.0 L613.6,1165.7 L607.2,1166.3 L600.9,1166.5 L594.5,1166.3 L588.2,1165.8 L581.8,1165.0 L575.6,1164.1 L569.3,1163.1 L563.1,1162.1 L556.9,1160.8 L550.8,1159.5 L544.7,1158.0 L538.6,1156.4 L532.6,1154.7 L526.6,1152.8 L514.6,1169.3 L509.0,1164.9 L503.6,1160.3 L498.3,1155.7 L493.1,1151.3 L487.8,1147.2 L482.7,1142.9 L477.8,1138.5 L472.9,1134.1 L468.0,1129.9 L463.2,1125.6 L458.5,1121.3 L453.7,1117.3 L449.0,1113.1 L444.3,1108.9 L439.6,1104.9 L434.9,1100.7 L430.4,1096.4 L425.9,1092.1 L421.4,1087.8 L417.0,1083.3 L412.7,1078.8 L408.4,1074.2 L404.1,1069.6 L399.8,1064.9 L395.7,1060.1 L391.6,1055.3 L387.5,1050.4 L383.5,1045.3 L379.6,1040.2 L375.7,1035.0 L371.9,1029.7 L368.2,1024.3 L364.1,1018.9 L360.0,1013.5 L356.0,1008.0 L352.1,1002.3 L348.0,996.5 L343.6,990.7 L339.4,984.7 L335.4,978.6 L347.1,969.4 L345.6,962.9 L344.4,956.4 L343.5,949.9 L342.7,943.3 L342.3,936.7 L342.3,930.1Z" fill="#00ffe4"/>
<path d="M349.1,923.5 L349.7,917.1 L350.4,910.7 L351.4,904.4 L352.5,898.1 L353.8,891.8 L355.2,885.6 L351.3,878.4 L353.8,872.3 L356.4,866.3 L359.2,860.5 L361.9,854.6 L364.4,848.7 L367.1,843.0 L369.9,837.3 L372.8,831.7 L375.3,825.9 L378.0,820.2 L380.8,814.6 L383.7,809.0 L386.7,803.5 L389.9,798.1 L393.2,792.8 L396.8,787.6 L400.5,782.6 L404.3,777.6 L408.3,772.7 L412.4,768.0 L416.6,763.3 L420.9,758.8 L425.4,754.4 L430.0,750.1 L434.7,746.0 L439.5,742.1 L444.5,738.3 L449.6,734.7 L454.8,731.3 L460.1,727.9 L465.3,724.6 L470.6,721.4 L476.0,718.3 L481.3,715.0 L486.7,711.9 L492.0,708.6 L497.4,705.4 L502.9,702.4 L508.5,699.5 L514.1,696.5 L519.7,693.4 L525.5,690.4 L531.3,687.6 L537.2,684.9 L545.4,692.6 L551.5,691.6 L557.6,690.8 L563.8,690.2 L569.9,689.8 L576.1,689.4 L582.2,689.1 L588.4,688.9 L594.5,688.9 L600.6,689.1 L606.8,689.5 L612.9,690.1 L619.0,690.8 L625.0,691.6 L631.1,692.4 L637.1,693.4 L644.3,689.0 L650.3,691.1 L656.2,693.4 L661.9,695.8 L667.7,698.3 L673.4,700.7 L679.1,703.1 L684.8,705.5 L690.4,708.1 L696.0,710.8 L701.7,713.1 L707.4,715.6 L713.0,718.3 L718.6,720.9 L724.3,723.7 L729.8,726.6 L735.2,729.8 L740.5,733.2 L745.6,736.9 L750.7,740.6 L755.8,744.4 L760.7,748.4 L765.5,752.5 L770.1,756.9 L774.5,761.4 L778.8,766.1 L782.9,770.9 L786.9,775.9 L790.7,781.0 L794.4,786.1 L797.8,791.4 L801.2,796.8 L804.4,802.3 L807.4,807.9 L810.3,813.5 L813.4,819.1 L816.5,824.6 L819.5,830.3 L822.4,836.0 L825.2,841.8 L828.3,847.5 L831.2,853.4 L834.0,859.3 L836.7,865.4 L836.0,872.2 L837.3,878.5 L838.4,884.9 L839.4,891.3 L840.2,897.7 L840.9,904.1 L841.5,910.6 L842.0,917.0 L842.2,923.5 L842.2,930.0 L842.0,936.5 L841.7,943.0 L841.3,949.4 L840.7,955.9 L839.9,962.4 L838.9,968.8 L837.8,975.2 L836.5,981.6 L835.0,987.9 L833.3,994.2 L831.3,1000.4 L840.4,1010.6 L836.6,1016.4 L832.8,1022.2 L828.7,1027.8 L824.7,1033.3 L820.9,1038.8 L816.9,1044.3 L812.8,1049.5 L808.6,1054.7 L804.9,1060.1 L800.8,1065.3 L796.5,1070.3 L792.0,1075.1 L787.5,1079.8 L782.9,1084.4 L778.2,1088.9 L773.4,1093.2 L768.4,1097.4 L763.3,1101.4 L758.2,1105.3 L753.0,1109.1 L747.7,1112.6 L742.3,1116.1 L736.8,1119.4 L731.4,1122.6 L725.8,1125.7 L720.2,1128.7 L714.8,1131.8 L709.3,1135.0 L703.8,1138.1 L698.3,1141.1 L692.7,1144.0 L687.2,1147.2 L681.6,1150.3 L675.9,1153.2 L670.0,1156.0 L661.5,1149.7 L655.6,1151.5 L649.6,1153.1 L643.6,1154.6 L637.6,1155.9 L631.5,1157.1 L625.4,1158.1 L619.2,1158.9 L613.1,1159.6 L606.9,1160.1 L600.7,1160.3 L594.5,1160.2 L588.3,1159.6 L582.2,1158.9 L576.0,1158.0 L569.9,1157.1 L563.9,1156.1 L557.9,1154.9 L551.9,1153.5 L545.9,1152.1 L540.0,1150.6 L534.1,1148.9 L528.3,1147.1 L517.7,1159.9 L512.2,1156.0 L506.8,1152.0 L501.6,1147.8 L496.4,1143.9 L491.2,1140.1 L486.1,1136.2 L481.2,1132.1 L476.4,1128.1 L471.5,1124.2 L466.7,1120.2 L462.1,1116.2 L457.3,1112.3 L452.7,1108.2 L448.2,1104.1 L443.6,1100.1 L439.1,1096.0 L434.7,1091.8 L430.4,1087.6 L426.0,1083.4 L421.8,1079.0 L417.6,1074.6 L413.5,1070.1 L409.3,1065.6 L405.2,1061.0 L401.1,1056.4 L397.1,1051.7 L393.2,1046.9 L389.3,1042.0 L385.5,1037.0 L381.8,1031.9 L378.1,1026.7 L374.5,1021.4 L370.7,1016.2 L366.8,1010.9 L363.1,1005.4 L359.5,999.9 L355.7,994.2 L351.8,988.5 L348.1,982.7 L344.5,976.6 L353.5,968.2 L352.1,961.9 L350.9,955.6 L350.0,949.2 L349.3,942.8 L348.9,936.4 L348.8,929.9Z" fill="#00ffce"/>
<path d="M355.6,923.5 L356.2,917.3 L356.9,911.0 L357.8,904.9 L358.9,898.7 L360.1,892.6 L361.5,886.6 L358.9,879.8 L361.1,873.9 L363.5,868.0 L366.0,862.3 L368.5,856.6 L370.9,850.8 L373.4,845.2 L376.1,839.7 L378.8,834.2 L381.3,828.6 L383.9,823.1 L386.7,817.6 L389.5,812.2 L392.5,806.9 L395.6,801.6 L398.9,796.5 L402.4,791.5 L406.0,786.5 L409.7,781.7 L413.6,777.0 L417.5,772.4 L421.6,767.8 L425.8,763.4 L430.1,759.1 L434.5,754.9 L439.1,750.9 L443.7,747.0 L448.6,743.3 L453.5,739.7 L458.5,736.3 L463.6,733.0 L468.6,729.7 L473.8,726.6 L479.1,723.6 L484.3,720.5 L489.5,717.5 L494.8,714.5 L500.1,711.5 L505.5,708.7 L511.0,706.0 L516.5,703.3 L522.1,700.5 L527.7,697.9 L533.4,695.4 L539.2,693.1 L546.7,698.6 L552.7,697.7 L558.6,696.9 L564.6,696.4 L570.6,695.9 L576.6,695.5 L582.5,695.3 L588.5,695.1 L594.5,695.1 L600.5,695.3 L606.4,695.7 L612.4,696.3 L618.3,696.9 L624.2,697.7 L630.1,698.5 L636.0,699.4 L642.8,696.4 L648.6,698.3 L654.3,700.3 L660.0,702.4 L665.6,704.7 L671.2,706.9 L676.8,709.1 L682.4,711.4 L687.9,713.8 L693.3,716.3 L698.9,718.6 L704.5,721.0 L709.9,723.5 L715.5,726.1 L720.9,728.8 L726.4,731.6 L731.7,734.7 L736.8,738.0 L741.9,741.5 L746.9,745.1 L751.8,748.8 L756.5,752.7 L761.2,756.8 L765.6,761.1 L769.9,765.5 L774.1,770.1 L778.0,774.9 L781.8,779.8 L785.6,784.7 L789.2,789.7 L792.6,794.8 L795.9,800.1 L799.1,805.4 L802.1,810.8 L805.0,816.2 L808.0,821.7 L811.0,827.1 L813.9,832.6 L816.6,838.3 L819.2,843.9 L822.1,849.6 L824.8,855.3 L827.3,861.1 L829.7,867.0 L829.6,873.5 L830.9,879.7 L832.0,885.9 L832.9,892.1 L833.7,898.4 L834.5,904.6 L835.1,910.9 L835.5,917.2 L835.7,923.5 L835.7,929.8 L835.6,936.1 L835.3,942.5 L834.9,948.8 L834.3,955.1 L833.6,961.4 L832.7,967.6 L831.6,973.9 L830.3,980.1 L828.9,986.3 L827.2,992.4 L825.3,998.5 L831.6,1007.5 L828.3,1013.3 L824.8,1018.9 L821.2,1024.4 L817.5,1029.9 L813.9,1035.3 L810.2,1040.6 L806.3,1045.8 L802.3,1050.8 L798.6,1056.0 L794.6,1061.0 L790.4,1065.8 L786.1,1070.5 L781.7,1075.1 L777.2,1079.5 L772.6,1083.9 L767.9,1088.0 L763.1,1092.1 L758.2,1096.0 L753.3,1099.8 L748.2,1103.5 L743.1,1107.0 L737.9,1110.4 L732.7,1113.6 L727.4,1116.8 L722.0,1119.9 L716.6,1122.7 L711.3,1125.7 L706.0,1128.8 L700.6,1131.7 L695.2,1134.6 L689.7,1137.4 L684.3,1140.3 L678.8,1143.2 L673.2,1145.9 L667.6,1148.4 L659.8,1144.1 L654.1,1145.8 L648.2,1147.3 L642.4,1148.7 L636.5,1150.0 L630.5,1151.1 L624.6,1152.0 L618.6,1152.8 L612.6,1153.5 L606.6,1154.0 L600.5,1154.2 L594.5,1154.0 L588.5,1153.5 L582.5,1152.8 L576.5,1152.0 L570.6,1151.1 L564.7,1150.0 L558.8,1148.9 L553.0,1147.6 L547.2,1146.2 L541.4,1144.7 L535.7,1143.1 L530.0,1141.3 L520.7,1150.5 L515.3,1147.1 L510.0,1143.6 L504.8,1140.0 L499.7,1136.5 L494.6,1133.0 L489.5,1129.5 L484.6,1125.8 L479.8,1122.2 L475.0,1118.6 L470.3,1114.8 L465.6,1111.0 L461.0,1107.2 L456.5,1103.3 L452.1,1099.3 L447.7,1095.4 L443.4,1091.4 L439.1,1087.3 L434.9,1083.1 L430.6,1079.0 L426.5,1074.7 L422.5,1070.4 L418.6,1066.0 L414.5,1061.6 L410.5,1057.2 L406.6,1052.7 L402.7,1048.1 L398.9,1043.4 L395.1,1038.6 L391.5,1033.7 L387.8,1028.8 L384.3,1023.8 L380.9,1018.6 L377.3,1013.5 L373.7,1008.3 L370.2,1002.9 L366.9,997.5 L363.5,991.9 L360.0,986.3 L356.7,980.6 L353.6,974.7 L360.0,967.0 L358.5,960.9 L357.4,954.7 L356.5,948.5 L355.8,942.3 L355.4,936.0 L355.3,929.8Z" fill="#00ffb8"/>
<path d="M362.1,923.5 L362.7,917.4 L363.4,911.4 L364.2,905.4 L365.2,899.4 L366.4,893.5 L367.8,887.6 L366.5,881.2 L368.5,875.5 L370.6,869.7 L372.8,864.1 L375.1,858.5 L377.4,853.0 L379.8,847.5 L382.2,842.0 L384.9,836.7 L387.3,831.3 L389.9,825.9 L392.6,820.6 L395.4,815.4 L398.3,810.2 L401.4,805.1 L404.6,800.2 L407.9,795.3 L411.4,790.5 L415.1,785.8 L418.8,781.2 L422.7,776.7 L426.6,772.3 L430.7,768.0 L434.8,763.8 L439.1,759.7 L443.5,755.8 L448.0,751.9 L452.6,748.3 L457.3,744.7 L462.2,741.4 L467.1,738.1 L472.0,734.9 L477.0,731.8 L482.1,728.9 L487.2,725.9 L492.4,723.1 L497.6,720.3 L502.8,717.6 L508.1,715.0 L513.5,712.5 L518.9,710.1 L524.4,707.7 L529.9,705.4 L535.5,703.3 L541.2,701.4 L548.0,704.7 L553.8,703.8 L559.6,703.1 L565.4,702.5 L571.2,702.0 L577.0,701.7 L582.9,701.4 L588.7,701.3 L594.5,701.3 L600.3,701.5 L606.1,701.9 L611.9,702.4 L617.7,703.0 L623.4,703.7 L629.2,704.6 L634.9,705.5 L641.2,703.8 L646.9,705.4 L652.5,707.2 L658.0,709.0 L663.5,711.1 L669.0,713.1 L674.5,715.1 L679.9,717.2 L685.4,719.4 L690.7,721.8 L696.2,724.0 L701.5,726.3 L706.9,728.8 L712.3,731.3 L717.6,733.9 L722.9,736.6 L728.1,739.6 L733.2,742.8 L738.1,746.1 L743.0,749.6 L747.8,753.3 L752.4,757.1 L756.9,761.1 L761.2,765.3 L765.3,769.7 L769.3,774.2 L773.1,778.9 L776.8,783.6 L780.4,788.4 L784.0,793.3 L787.4,798.2 L790.7,803.3 L793.8,808.4 L796.9,813.6 L799.7,818.9 L802.6,824.2 L805.5,829.6 L808.2,835.0 L810.8,840.5 L813.3,846.0 L815.9,851.6 L818.3,857.2 L820.6,862.9 L822.8,868.7 L823.2,874.9 L824.5,880.9 L825.6,886.9 L826.5,893.0 L827.3,899.0 L828.0,905.1 L828.6,911.2 L829.0,917.4 L829.3,923.5 L829.3,929.6 L829.1,935.8 L828.9,941.9 L828.5,948.1 L828.0,954.2 L827.3,960.4 L826.4,966.5 L825.4,972.6 L824.2,978.6 L822.8,984.7 L821.2,990.7 L819.4,996.6 L822.9,1004.4 L820.0,1010.1 L816.9,1015.6 L813.7,1021.1 L810.3,1026.4 L806.9,1031.7 L803.4,1036.9 L799.7,1042.0 L796.0,1047.0 L792.3,1052.0 L788.4,1056.8 L784.3,1061.4 L780.1,1065.9 L775.9,1070.4 L771.5,1074.7 L767.0,1078.8 L762.4,1082.9 L757.8,1086.8 L753.1,1090.6 L748.3,1094.3 L743.5,1097.9 L738.5,1101.4 L733.5,1104.7 L728.5,1107.9 L723.4,1111.0 L718.2,1114.0 L713.0,1116.8 L707.8,1119.7 L702.6,1122.6 L697.3,1125.4 L692.1,1128.1 L686.8,1130.7 L681.5,1133.4 L676.1,1136.0 L670.6,1138.5 L665.1,1140.7 L658.2,1138.4 L652.5,1140.1 L646.8,1141.5 L641.1,1142.8 L635.4,1144.0 L629.6,1145.1 L623.8,1146.0 L618.0,1146.7 L612.1,1147.4 L606.3,1147.8 L600.4,1148.0 L594.5,1147.8 L588.6,1147.4 L582.8,1146.7 L577.0,1145.9 L571.2,1145.0 L565.5,1144.0 L559.7,1142.9 L554.1,1141.7 L548.4,1140.3 L542.8,1138.9 L537.2,1137.3 L531.7,1135.6 L523.8,1141.2 L518.4,1138.3 L513.2,1135.3 L508.1,1132.1 L503.0,1129.1 L497.9,1126.0 L493.0,1122.8 L488.1,1119.5 L483.2,1116.2 L478.4,1112.9 L473.8,1109.4 L469.2,1105.8 L464.7,1102.2 L460.3,1098.4 L456.0,1094.5 L451.7,1090.6 L447.6,1086.7 L443.4,1082.7 L439.3,1078.7 L435.3,1074.6 L431.3,1070.4 L427.5,1066.2 L423.6,1061.9 L419.7,1057.6 L415.9,1053.3 L412.0,1048.9 L408.3,1044.4 L404.5,1039.9 L400.9,1035.3 L397.4,1030.5 L393.9,1025.7 L390.5,1020.8 L387.2,1015.8 L383.9,1010.7 L380.5,1005.6 L377.4,1000.4 L374.3,995.0 L371.3,989.6 L368.2,984.1 L365.4,978.5 L362.7,972.8 L366.4,965.8 L365.0,959.8 L363.9,953.9 L363.0,947.8 L362.3,941.8 L361.9,935.7 L361.9,929.6Z" fill="#00ffa3"/>
<path d="M368.6,923.5 L369.1,917.6 L369.8,911.7 L370.6,905.9 L371.6,900.1 L372.8,894.3 L374.0,888.6 L374.1,882.6 L375.8,877.0 L377.7,871.4 L379.7,865.9 L381.7,860.5 L383.9,855.1 L386.1,849.7 L388.4,844.4 L390.9,839.1 L393.3,833.9 L395.8,828.7 L398.5,823.6 L401.3,818.6 L404.1,813.6 L407.1,808.7 L410.2,803.8 L413.5,799.1 L416.9,794.5 L420.4,789.9 L424.1,785.5 L427.8,781.1 L431.6,776.9 L435.5,772.7 L439.5,768.5 L443.7,764.5 L447.9,760.7 L452.2,756.9 L456.6,753.3 L461.2,749.8 L465.8,746.4 L470.5,743.1 L475.3,740.0 L480.2,737.0 L485.2,734.2 L490.2,731.4 L495.3,728.7 L500.4,726.1 L505.5,723.6 L510.7,721.2 L516.0,719.0 L521.3,716.9 L526.7,714.8 L532.1,712.9 L537.6,711.2 L543.2,709.6 L549.3,710.8 L554.9,709.9 L560.6,709.2 L566.2,708.6 L571.9,708.2 L577.5,707.8 L583.2,707.6 L588.8,707.4 L594.5,707.5 L600.2,707.6 L605.8,708.0 L611.4,708.5 L617.0,709.1 L622.6,709.8 L628.2,710.6 L633.8,711.5 L639.6,711.2 L645.1,712.5 L650.6,714.0 L656.1,715.7 L661.5,717.4 L666.8,719.2 L672.2,721.1 L677.5,723.1 L682.8,725.1 L688.1,727.3 L693.4,729.4 L698.6,731.7 L703.9,734.1 L709.1,736.5 L714.3,739.0 L719.5,741.7 L724.5,744.5 L729.5,747.6 L734.4,750.8 L739.1,754.2 L743.8,757.7 L748.3,761.5 L752.6,765.4 L756.8,769.5 L760.7,773.8 L764.6,778.2 L768.2,782.8 L771.8,787.5 L775.3,792.2 L778.8,796.9 L782.1,801.6 L785.4,806.5 L788.6,811.5 L791.6,816.5 L794.4,821.6 L797.2,826.8 L799.9,832.0 L802.5,837.3 L805.0,842.7 L807.3,848.1 L809.7,853.6 L811.9,859.1 L813.9,864.7 L815.8,870.4 L816.8,876.3 L818.0,882.1 L819.1,887.9 L820.0,893.8 L820.8,899.7 L821.6,905.6 L822.2,911.6 L822.6,917.5 L822.8,923.5 L822.8,929.5 L822.7,935.5 L822.5,941.4 L822.2,947.4 L821.6,953.4 L821.0,959.4 L820.1,965.3 L819.2,971.3 L818.0,977.2 L816.7,983.0 L815.1,988.9 L813.4,994.6 L814.2,1001.3 L811.7,1006.9 L809.0,1012.4 L806.1,1017.7 L803.1,1023.0 L800.0,1028.2 L796.7,1033.3 L793.2,1038.2 L789.6,1043.1 L786.0,1047.9 L782.2,1052.5 L778.3,1057.0 L774.2,1061.4 L770.0,1065.6 L765.8,1069.8 L761.4,1073.8 L757.0,1077.7 L752.5,1081.5 L747.9,1085.2 L743.4,1088.8 L738.7,1092.4 L734.0,1095.7 L729.2,1099.0 L724.3,1102.2 L719.4,1105.2 L714.4,1108.1 L709.3,1110.9 L704.3,1113.6 L699.2,1116.3 L694.1,1119.0 L689.0,1121.5 L683.8,1124.1 L678.6,1126.5 L673.3,1128.9 L668.0,1131.1 L662.6,1133.1 L656.5,1132.8 L651.0,1134.3 L645.4,1135.7 L639.9,1137.0 L634.3,1138.1 L628.6,1139.1 L623.0,1139.9 L617.3,1140.7 L611.6,1141.3 L605.9,1141.7 L600.2,1141.8 L594.5,1141.7 L588.8,1141.2 L583.1,1140.6 L577.5,1139.8 L571.9,1139.0 L566.3,1138.0 L560.7,1137.0 L555.2,1135.8 L549.7,1134.5 L544.2,1133.1 L538.8,1131.6 L533.4,1129.9 L526.8,1131.8 L521.6,1129.4 L516.4,1126.9 L511.3,1124.3 L506.3,1121.6 L501.3,1118.9 L496.4,1116.1 L491.5,1113.2 L486.7,1110.2 L481.9,1107.2 L477.3,1104.0 L472.8,1100.6 L468.3,1097.2 L464.1,1093.5 L459.9,1089.7 L455.8,1085.9 L451.8,1082.0 L447.8,1078.1 L443.8,1074.2 L439.9,1070.2 L436.1,1066.1 L432.4,1062.0 L428.7,1057.8 L424.9,1053.6 L421.2,1049.4 L417.5,1045.2 L413.8,1040.8 L410.2,1036.4 L406.8,1031.9 L403.3,1027.3 L400.0,1022.6 L396.7,1017.8 L393.6,1013.0 L390.4,1008.0 L387.4,1003.0 L384.5,997.9 L381.7,992.6 L379.0,987.3 L376.4,981.9 L374.0,976.4 L371.8,970.8 L372.8,964.6 L371.5,958.8 L370.4,953.0 L369.5,947.1 L368.9,941.3 L368.5,935.3 L368.4,929.4Z" fill="#00ff8d"/>
<path d="M375.2,923.5 L375.6,917.8 L376.3,912.1 L377.1,906.4 L378.0,900.7 L379.1,895.1 L380.3,889.6 L381.7,884.1 L383.1,878.6 L384.7,873.1 L386.5,867.8 L388.4,862.4 L390.3,857.2 L392.4,851.9 L394.6,846.8 L396.9,841.6 L399.3,836.6 L401.8,831.6 L404.4,826.6 L407.1,821.8 L409.9,816.9 L412.8,812.2 L415.9,807.5 L419.1,802.9 L422.4,798.4 L425.8,794.0 L429.3,789.7 L432.9,785.5 L436.6,781.4 L440.4,777.3 L444.3,773.3 L448.2,769.3 L452.3,765.5 L456.4,761.8 L460.7,758.2 L465.0,754.8 L469.5,751.4 L474.0,748.2 L478.7,745.2 L483.4,742.2 L488.3,739.5 L493.2,736.8 L498.1,734.3 L503.1,732.0 L508.2,729.7 L513.3,727.5 L518.5,725.5 L523.7,723.6 L529.0,721.9 L534.3,720.4 L539.7,719.1 L545.1,717.9 L550.6,716.9 L556.0,716.0 L561.5,715.3 L567.0,714.7 L572.5,714.3 L578.0,714.0 L583.5,713.7 L589.0,713.6 L594.5,713.6 L600.0,713.8 L605.5,714.2 L610.9,714.7 L616.4,715.2 L621.8,715.9 L627.3,716.7 L632.7,717.5 L638.1,718.5 L643.4,719.7 L648.8,720.9 L654.1,722.3 L659.4,723.8 L664.6,725.4 L669.9,727.1 L675.1,728.9 L680.3,730.8 L685.5,732.8 L690.6,734.9 L695.7,737.1 L700.8,739.3 L705.9,741.7 L711.0,744.1 L716.0,746.7 L721.0,749.4 L725.8,752.3 L730.6,755.4 L735.3,758.7 L739.8,762.1 L744.1,765.8 L748.3,769.7 L752.3,773.7 L756.2,777.9 L759.8,782.3 L763.3,786.8 L766.7,791.3 L770.1,795.9 L773.5,800.4 L776.9,805.0 L780.2,809.7 L783.3,814.5 L786.3,819.4 L789.1,824.3 L791.8,829.4 L794.4,834.5 L796.8,839.7 L799.2,844.9 L801.4,850.2 L803.4,855.6 L805.4,861.0 L807.2,866.5 L808.9,872.0 L810.3,877.6 L811.6,883.3 L812.7,888.9 L813.6,894.7 L814.4,900.4 L815.1,906.1 L815.7,911.9 L816.1,917.7 L816.4,923.5 L816.4,929.3 L816.3,935.1 L816.1,940.9 L815.8,946.8 L815.3,952.6 L814.7,958.4 L813.9,964.2 L812.9,969.9 L811.8,975.7 L810.6,981.4 L809.1,987.1 L807.4,992.7 L805.5,998.2 L803.4,1003.7 L801.1,1009.1 L798.6,1014.4 L795.9,1019.6 L793.0,1024.6 L789.9,1029.6 L786.7,1034.5 L783.3,1039.2 L779.7,1043.8 L776.0,1048.2 L772.2,1052.6 L768.2,1056.8 L764.2,1060.9 L760.0,1064.9 L755.8,1068.7 L751.5,1072.5 L747.2,1076.2 L742.8,1079.8 L738.4,1083.3 L734.0,1086.8 L729.4,1090.1 L724.8,1093.3 L720.1,1096.4 L715.4,1099.4 L710.6,1102.3 L705.7,1105.0 L700.8,1107.6 L695.8,1110.1 L690.8,1112.6 L685.9,1115.0 L680.8,1117.4 L675.7,1119.6 L670.6,1121.7 L665.4,1123.7 L660.1,1125.5 L654.8,1127.1 L649.5,1128.6 L644.1,1129.9 L638.6,1131.1 L633.2,1132.1 L627.7,1133.1 L622.2,1133.9 L616.7,1134.6 L611.2,1135.1 L605.6,1135.5 L600.1,1135.7 L594.5,1135.5 L589.0,1135.1 L583.4,1134.5 L578.0,1133.7 L572.5,1132.9 L567.0,1132.0 L561.6,1131.0 L556.3,1129.8 L550.9,1128.6 L545.6,1127.2 L540.3,1125.8 L535.1,1124.2 L529.9,1122.4 L524.7,1120.6 L519.6,1118.6 L514.6,1116.5 L509.6,1114.2 L504.7,1111.8 L499.8,1109.4 L494.9,1106.9 L490.1,1104.3 L485.4,1101.5 L480.8,1098.6 L476.3,1095.5 L472.0,1092.1 L467.8,1088.6 L463.8,1084.9 L459.8,1081.2 L456.0,1077.4 L452.1,1073.6 L448.3,1069.7 L444.5,1065.8 L440.9,1061.8 L437.3,1057.8 L433.7,1053.7 L430.2,1049.6 L426.5,1045.5 L422.9,1041.4 L419.4,1037.2 L415.9,1032.9 L412.6,1028.5 L409.3,1024.1 L406.1,1019.5 L402.9,1014.9 L399.9,1010.1 L397.0,1005.3 L394.3,1000.4 L391.6,995.3 L389.1,990.2 L386.8,985.0 L384.6,979.7 L382.6,974.4 L380.9,968.9 L379.3,963.4 L378.0,957.8 L376.9,952.1 L376.1,946.5 L375.4,940.7 L375.0,935.0 L374.9,929.2Z" fill="#00ff77"/>
<path d="M381.4,923.5 L381.9,917.9 L382.4,912.4 L383.2,906.9 L384.1,901.4 L385.1,895.9 L386.3,890.5 L387.6,885.1 L389.0,879.8 L390.5,874.5 L392.2,869.3 L394.0,864.1 L395.8,859.0 L397.8,853.9 L399.9,848.8 L402.1,843.8 L404.5,838.9 L406.9,834.0 L409.5,829.2 L412.1,824.5 L414.8,819.8 L417.7,815.1 L420.6,810.6 L423.7,806.1 L426.9,801.8 L430.3,797.5 L433.7,793.3 L437.2,789.2 L440.8,785.1 L444.5,781.2 L448.3,777.3 L452.1,773.5 L456.1,769.8 L460.1,766.2 L464.3,762.7 L468.5,759.3 L472.9,756.1 L477.3,753.0 L481.8,750.0 L486.5,747.2 L491.2,744.5 L495.9,742.0 L500.8,739.6 L505.7,737.3 L510.6,735.1 L515.6,733.1 L520.7,731.1 L525.7,729.3 L530.9,727.7 L536.1,726.2 L541.3,725.0 L546.6,723.8 L551.9,722.9 L557.2,722.1 L562.5,721.4 L567.8,720.9 L573.2,720.5 L578.5,720.2 L583.8,720.0 L589.2,719.9 L594.5,719.9 L599.8,720.1 L605.1,720.5 L610.4,720.9 L615.7,721.5 L621.0,722.2 L626.3,722.9 L631.5,723.8 L636.7,724.8 L641.9,725.9 L647.1,727.1 L652.3,728.5 L657.4,729.9 L662.5,731.5 L667.5,733.2 L672.6,735.0 L677.6,736.8 L682.6,738.8 L687.6,740.8 L692.5,742.9 L697.5,745.1 L702.4,747.4 L707.3,749.7 L712.2,752.2 L717.0,754.9 L721.7,757.7 L726.3,760.7 L730.8,763.9 L735.1,767.3 L739.3,770.9 L743.3,774.7 L747.2,778.6 L750.9,782.7 L754.4,786.9 L757.9,791.2 L761.2,795.6 L764.6,799.9 L767.9,804.3 L771.2,808.8 L774.3,813.3 L777.3,817.9 L780.2,822.7 L783.0,827.5 L785.6,832.4 L788.1,837.3 L790.5,842.3 L792.7,847.4 L794.9,852.5 L797.0,857.7 L798.9,863.0 L800.7,868.3 L802.3,873.6 L803.8,879.0 L805.1,884.5 L806.2,890.0 L807.2,895.5 L808.0,901.1 L808.7,906.6 L809.2,912.2 L809.6,917.9 L809.9,923.5 L809.9,929.1 L809.8,934.8 L809.6,940.4 L809.3,946.1 L808.9,951.7 L808.3,957.4 L807.6,963.0 L806.7,968.6 L805.6,974.2 L804.4,979.8 L803.1,985.3 L801.5,990.7 L799.7,996.1 L797.7,1001.5 L795.5,1006.7 L793.1,1011.9 L790.5,1017.0 L787.7,1021.9 L784.8,1026.8 L781.6,1031.5 L778.4,1036.2 L774.9,1040.7 L771.3,1045.0 L767.6,1049.3 L763.8,1053.4 L759.9,1057.5 L755.9,1061.4 L751.8,1065.1 L747.6,1068.8 L743.4,1072.4 L739.2,1076.0 L734.9,1079.4 L730.6,1082.8 L726.2,1086.1 L721.7,1089.2 L717.1,1092.3 L712.5,1095.2 L707.8,1098.0 L703.1,1100.7 L698.3,1103.2 L693.4,1105.6 L688.5,1108.0 L683.6,1110.3 L678.7,1112.5 L673.7,1114.6 L668.6,1116.6 L663.5,1118.4 L658.4,1120.1 L653.2,1121.6 L648.0,1123.0 L642.7,1124.2 L637.4,1125.3 L632.1,1126.3 L626.8,1127.1 L621.4,1127.9 L616.1,1128.5 L610.7,1129.1 L605.3,1129.4 L599.9,1129.5 L594.5,1129.4 L589.1,1129.0 L583.8,1128.5 L578.4,1127.8 L573.1,1127.0 L567.8,1126.2 L562.6,1125.2 L557.3,1124.1 L552.1,1123.0 L546.9,1121.7 L541.8,1120.3 L536.7,1118.8 L531.6,1117.1 L526.6,1115.3 L521.6,1113.4 L516.7,1111.3 L511.8,1109.1 L507.0,1106.9 L502.3,1104.5 L497.6,1102.0 L492.9,1099.5 L488.3,1096.8 L483.8,1094.0 L479.4,1091.0 L475.2,1087.7 L471.1,1084.3 L467.2,1080.7 L463.4,1077.0 L459.7,1073.2 L456.0,1069.5 L452.3,1065.7 L448.7,1061.9 L445.2,1057.9 L441.8,1054.0 L438.3,1049.9 L434.9,1045.9 L431.5,1042.0 L428.0,1037.9 L424.6,1033.8 L421.3,1029.7 L418.0,1025.4 L414.8,1021.1 L411.7,1016.6 L408.7,1012.1 L405.8,1007.5 L403.0,1002.8 L400.3,998.1 L397.7,993.2 L395.3,988.2 L393.0,983.2 L390.9,978.1 L388.9,972.9 L387.2,967.6 L385.6,962.2 L384.3,956.8 L383.3,951.3 L382.4,945.8 L381.7,940.2 L381.3,934.7 L381.2,929.1Z" fill="#00ff62"/>
<path d="M387.7,923.5 L388.1,918.1 L388.6,912.7 L389.3,907.4 L390.1,902.0 L391.1,896.7 L392.2,891.5 L393.5,886.2 L394.8,881.1 L396.3,875.9 L397.9,870.8 L399.6,865.8 L401.4,860.7 L403.3,855.8 L405.3,850.9 L407.4,846.0 L409.7,841.2 L412.0,836.5 L414.5,831.8 L417.1,827.2 L419.7,822.6 L422.5,818.1 L425.4,813.7 L428.4,809.3 L431.5,805.1 L434.8,800.9 L438.1,796.9 L441.5,792.9 L445.0,788.9 L448.6,785.1 L452.3,781.3 L456.0,777.6 L459.9,774.0 L463.8,770.5 L467.9,767.1 L472.0,763.9 L476.3,760.7 L480.6,757.7 L485.0,754.9 L489.5,752.1 L494.1,749.5 L498.7,747.1 L503.4,744.8 L508.2,742.6 L513.0,740.5 L517.9,738.6 L522.8,736.7 L527.8,735.0 L532.8,733.5 L537.8,732.1 L542.9,730.8 L548.0,729.8 L553.1,728.9 L558.3,728.1 L563.5,727.5 L568.6,727.0 L573.8,726.7 L579.0,726.4 L584.2,726.2 L589.3,726.2 L594.5,726.2 L599.7,726.4 L604.8,726.8 L609.9,727.2 L615.1,727.8 L620.2,728.4 L625.3,729.2 L630.4,730.0 L635.4,731.0 L640.5,732.1 L645.5,733.3 L650.4,734.6 L655.4,736.1 L660.3,737.6 L665.2,739.3 L670.1,741.0 L674.9,742.8 L679.8,744.7 L684.6,746.7 L689.4,748.8 L694.1,750.9 L698.9,753.1 L703.7,755.3 L708.4,757.7 L713.1,760.3 L717.6,763.0 L722.0,766.0 L726.3,769.1 L730.5,772.5 L734.5,776.0 L738.4,779.6 L742.1,783.5 L745.6,787.4 L749.1,791.5 L752.4,795.6 L755.7,799.8 L759.0,804.0 L762.2,808.2 L765.4,812.5 L768.5,816.9 L771.4,821.4 L774.1,826.0 L776.8,830.6 L779.3,835.3 L781.8,840.1 L784.1,845.0 L786.3,849.9 L788.4,854.8 L790.5,859.8 L792.4,864.9 L794.1,870.0 L795.8,875.2 L797.3,880.4 L798.6,885.7 L799.8,891.0 L800.7,896.3 L801.6,901.7 L802.2,907.2 L802.8,912.6 L803.2,918.0 L803.4,923.5 L803.4,929.0 L803.3,934.4 L803.2,939.9 L802.9,945.4 L802.5,950.9 L801.9,956.4 L801.2,961.8 L800.4,967.3 L799.4,972.7 L798.3,978.1 L797.0,983.5 L795.5,988.8 L793.8,994.1 L791.9,999.3 L789.8,1004.4 L787.5,1009.4 L785.0,1014.4 L782.4,1019.2 L779.6,1024.0 L776.6,1028.6 L773.4,1033.1 L770.1,1037.5 L766.7,1041.8 L763.1,1046.0 L759.4,1050.1 L755.7,1054.0 L751.8,1057.8 L747.8,1061.5 L743.8,1065.1 L739.7,1068.7 L735.5,1072.1 L731.4,1075.5 L727.2,1078.8 L722.9,1082.1 L718.5,1085.2 L714.1,1088.2 L709.6,1091.0 L705.1,1093.8 L700.4,1096.4 L695.7,1098.8 L691.0,1101.2 L686.2,1103.4 L681.4,1105.6 L676.5,1107.7 L671.6,1109.6 L666.7,1111.5 L661.7,1113.2 L656.6,1114.8 L651.6,1116.2 L646.5,1117.4 L641.3,1118.6 L636.2,1119.6 L631.0,1120.4 L625.8,1121.2 L620.6,1121.9 L615.4,1122.5 L610.2,1123.0 L605.0,1123.3 L599.7,1123.4 L594.5,1123.3 L589.3,1123.0 L584.1,1122.4 L578.9,1121.8 L573.7,1121.1 L568.6,1120.3 L563.5,1119.4 L558.4,1118.4 L553.3,1117.3 L548.3,1116.1 L543.2,1114.8 L538.3,1113.4 L533.3,1111.8 L528.4,1110.1 L523.6,1108.2 L518.8,1106.2 L514.1,1104.1 L509.4,1101.9 L504.8,1099.6 L500.2,1097.2 L495.6,1094.7 L491.2,1092.1 L486.8,1089.4 L482.5,1086.5 L478.4,1083.3 L474.5,1079.9 L470.7,1076.4 L467.0,1072.8 L463.4,1069.1 L459.9,1065.4 L456.4,1061.6 L452.9,1057.9 L449.5,1054.1 L446.2,1050.1 L443.0,1046.2 L439.7,1042.3 L436.4,1038.4 L433.1,1034.4 L429.8,1030.5 L426.6,1026.4 L423.4,1022.3 L420.4,1018.0 L417.4,1013.7 L414.5,1009.4 L411.6,1004.9 L408.9,1000.4 L406.3,995.7 L403.8,991.0 L401.4,986.2 L399.2,981.3 L397.1,976.4 L395.2,971.3 L393.5,966.2 L392.0,961.0 L390.7,955.8 L389.6,950.5 L388.8,945.1 L388.1,939.7 L387.7,934.3 L387.5,928.9Z" fill="#00ff4c"/>
<path d="M393.9,923.5 L394.3,918.3 L394.8,913.0 L395.4,907.8 L396.2,902.7 L397.1,897.5 L398.2,892.4 L399.4,887.3 L400.7,882.3 L402.1,877.3 L403.6,872.3 L405.2,867.4 L406.9,862.5 L408.7,857.7 L410.6,852.9 L412.7,848.2 L414.8,843.5 L417.1,838.9 L419.5,834.4 L422.0,829.9 L424.6,825.4 L427.3,821.1 L430.2,816.8 L433.1,812.6 L436.1,808.4 L439.3,804.4 L442.5,800.4 L445.8,796.5 L449.2,792.7 L452.7,789.0 L456.3,785.3 L459.9,781.7 L463.7,778.2 L467.5,774.8 L471.5,771.6 L475.5,768.4 L479.6,765.4 L483.8,762.5 L488.1,759.7 L492.5,757.1 L497.0,754.6 L501.5,752.2 L506.1,750.0 L510.8,747.9 L515.4,745.9 L520.2,744.1 L525.0,742.3 L529.8,740.7 L534.6,739.2 L539.5,737.9 L544.5,736.7 L549.4,735.7 L554.4,734.9 L559.4,734.2 L564.4,733.6 L569.4,733.2 L574.5,732.8 L579.5,732.6 L584.5,732.5 L589.5,732.4 L594.5,732.5 L599.5,732.7 L604.5,733.1 L609.5,733.5 L614.4,734.0 L619.4,734.7 L624.3,735.4 L629.2,736.2 L634.1,737.2 L639.0,738.3 L643.8,739.5 L648.6,740.8 L653.4,742.2 L658.2,743.7 L662.9,745.3 L667.6,747.0 L672.3,748.8 L676.9,750.7 L681.5,752.7 L686.2,754.7 L690.8,756.7 L695.4,758.8 L700.1,761.0 L704.6,763.3 L709.1,765.7 L713.5,768.4 L717.8,771.3 L721.9,774.4 L725.8,777.6 L729.7,781.1 L733.4,784.6 L736.9,788.3 L740.4,792.2 L743.7,796.1 L746.9,800.1 L750.2,804.0 L753.4,808.0 L756.6,812.1 L759.7,816.2 L762.6,820.5 L765.4,824.8 L768.1,829.3 L770.6,833.8 L773.1,838.3 L775.5,842.9 L777.7,847.6 L779.9,852.3 L782.0,857.1 L784.0,861.9 L785.8,866.8 L787.6,871.8 L789.2,876.7 L790.7,881.8 L792.1,886.9 L793.3,892.0 L794.3,897.2 L795.2,902.4 L795.8,907.7 L796.3,912.9 L796.7,918.2 L796.9,923.5 L796.9,928.8 L796.9,934.1 L796.7,939.4 L796.5,944.7 L796.1,950.0 L795.6,955.3 L794.9,960.6 L794.2,965.9 L793.2,971.2 L792.2,976.5 L791.0,981.7 L789.6,986.9 L788.0,992.0 L786.2,997.1 L784.2,1002.1 L782.0,1007.0 L779.6,1011.8 L777.1,1016.5 L774.4,1021.2 L771.5,1025.7 L768.5,1030.1 L765.3,1034.4 L762.0,1038.6 L758.6,1042.7 L755.0,1046.7 L751.4,1050.5 L747.6,1054.3 L743.8,1057.9 L739.9,1061.5 L735.9,1064.9 L731.9,1068.3 L727.9,1071.6 L723.8,1074.9 L719.6,1078.0 L715.4,1081.1 L711.1,1084.0 L706.8,1086.8 L702.3,1089.6 L697.8,1092.1 L693.2,1094.5 L688.5,1096.7 L683.8,1098.8 L679.1,1100.9 L674.3,1102.8 L669.5,1104.7 L664.7,1106.4 L659.8,1107.9 L654.9,1109.4 L650.0,1110.7 L645.0,1111.9 L640.0,1112.9 L634.9,1113.8 L629.9,1114.6 L624.9,1115.3 L619.8,1116.0 L614.8,1116.5 L609.7,1116.9 L604.7,1117.2 L599.6,1117.3 L594.5,1117.2 L589.4,1116.9 L584.4,1116.4 L579.4,1115.9 L574.3,1115.3 L569.4,1114.5 L564.4,1113.7 L559.4,1112.7 L554.5,1111.7 L549.6,1110.6 L544.7,1109.4 L539.8,1108.0 L535.0,1106.5 L530.3,1104.8 L525.6,1103.0 L520.9,1101.1 L516.3,1099.0 L511.8,1096.9 L507.3,1094.7 L502.8,1092.3 L498.4,1090.0 L494.0,1087.5 L489.7,1084.8 L485.6,1082.0 L481.6,1078.9 L477.8,1075.6 L474.1,1072.1 L470.6,1068.6 L467.1,1064.9 L463.7,1061.3 L460.4,1057.6 L457.1,1053.9 L453.8,1050.2 L450.7,1046.3 L447.6,1042.5 L444.5,1038.6 L441.3,1034.8 L438.2,1030.9 L435.0,1027.1 L431.9,1023.1 L428.9,1019.1 L425.9,1015.0 L423.0,1010.9 L420.2,1006.6 L417.5,1002.3 L414.9,997.9 L412.3,993.4 L409.9,988.9 L407.6,984.2 L405.4,979.5 L403.4,974.7 L401.5,969.8 L399.8,964.9 L398.3,959.9 L397.0,954.8 L396.0,949.6 L395.1,944.5 L394.4,939.2 L394.0,934.0 L393.8,928.8Z" fill="#00ff36"/>
<path d="M400.2,923.5 L400.5,918.4 L400.9,913.4 L401.5,908.3 L402.3,903.3 L403.1,898.3 L404.1,893.4 L405.3,888.4 L406.5,883.5 L407.8,878.7 L409.3,873.9 L410.8,869.1 L412.4,864.3 L414.1,859.6 L416.0,855.0 L417.9,850.4 L420.0,845.8 L422.3,841.3 L424.6,836.9 L427.0,832.6 L429.5,828.3 L432.2,824.0 L434.9,819.9 L437.7,815.8 L440.7,811.8 L443.7,807.8 L446.9,804.0 L450.1,800.2 L453.4,796.5 L456.8,792.8 L460.3,789.3 L463.8,785.8 L467.5,782.4 L471.2,779.2 L475.1,776.0 L479.0,773.0 L483.0,770.1 L487.1,767.2 L491.3,764.6 L495.5,762.0 L499.9,759.6 L504.3,757.4 L508.8,755.3 L513.3,753.3 L517.9,751.4 L522.5,749.6 L527.1,747.9 L531.8,746.4 L536.5,745.0 L541.2,743.7 L546.0,742.6 L550.8,741.6 L555.7,740.8 L560.5,740.2 L565.4,739.7 L570.3,739.3 L575.1,739.0 L580.0,738.8 L584.8,738.7 L589.7,738.7 L594.5,738.8 L599.3,739.1 L604.1,739.4 L609.0,739.8 L613.8,740.3 L618.5,740.9 L623.3,741.7 L628.0,742.5 L632.8,743.4 L637.5,744.5 L642.1,745.7 L646.8,747.0 L651.4,748.3 L656.0,749.8 L660.6,751.4 L665.1,753.1 L669.6,754.9 L674.1,756.7 L678.5,758.6 L683.0,760.5 L687.5,762.5 L692.0,764.5 L696.4,766.6 L700.8,768.8 L705.2,771.1 L709.4,773.8 L713.5,776.6 L717.4,779.6 L721.2,782.8 L724.9,786.1 L728.4,789.6 L731.8,793.2 L735.1,796.9 L738.3,800.7 L741.5,804.5 L744.7,808.3 L747.8,812.1 L750.9,816.0 L753.9,820.0 L756.7,824.1 L759.4,828.3 L762.0,832.6 L764.4,836.9 L766.8,841.3 L769.1,845.7 L771.4,850.2 L773.5,854.8 L775.5,859.4 L777.5,864.1 L779.3,868.8 L781.1,873.5 L782.7,878.3 L784.2,883.2 L785.6,888.1 L786.8,893.0 L787.9,898.0 L788.7,903.1 L789.4,908.2 L789.9,913.3 L790.2,918.4 L790.4,923.5 L790.4,928.6 L790.4,933.8 L790.2,938.9 L790.0,944.1 L789.7,949.2 L789.2,954.3 L788.6,959.5 L787.9,964.6 L787.0,969.7 L786.1,974.8 L785.0,979.9 L783.7,985.0 L782.2,990.0 L780.5,994.9 L778.6,999.7 L776.5,1004.5 L774.2,1009.2 L771.8,1013.8 L769.2,1018.4 L766.5,1022.8 L763.6,1027.1 L760.5,1031.3 L757.3,1035.4 L754.0,1039.4 L750.6,1043.3 L747.1,1047.1 L743.5,1050.8 L739.8,1054.3 L736.0,1057.8 L732.2,1061.2 L728.3,1064.5 L724.4,1067.7 L720.4,1070.9 L716.4,1074.0 L712.3,1077.0 L708.1,1079.9 L703.9,1082.7 L699.6,1085.3 L695.2,1087.8 L690.7,1090.1 L686.1,1092.2 L681.5,1094.2 L676.9,1096.2 L672.2,1098.0 L667.5,1099.7 L662.7,1101.2 L658.0,1102.7 L653.2,1104.0 L648.3,1105.2 L643.5,1106.3 L638.6,1107.2 L633.7,1108.0 L628.8,1108.8 L623.9,1109.4 L619.1,1110.0 L614.2,1110.5 L609.2,1110.8 L604.3,1111.1 L599.4,1111.1 L594.5,1111.0 L589.6,1110.8 L584.7,1110.4 L579.8,1110.0 L575.0,1109.4 L570.1,1108.7 L565.3,1107.9 L560.5,1107.0 L555.7,1106.1 L550.9,1105.0 L546.2,1103.9 L541.4,1102.6 L536.8,1101.2 L532.1,1099.6 L527.6,1097.8 L523.1,1096.0 L518.6,1094.0 L514.2,1091.9 L509.8,1089.7 L505.5,1087.5 L501.2,1085.2 L496.9,1082.8 L492.7,1080.2 L488.7,1077.5 L484.8,1074.5 L481.1,1071.3 L477.6,1067.9 L474.2,1064.4 L470.9,1060.8 L467.6,1057.2 L464.4,1053.6 L461.3,1049.9 L458.1,1046.3 L455.1,1042.5 L452.2,1038.8 L449.2,1035.0 L446.3,1031.2 L443.2,1027.5 L440.2,1023.7 L437.2,1019.9 L434.3,1016.0 L431.5,1012.0 L428.7,1008.0 L426.0,1003.9 L423.3,999.7 L420.8,995.5 L418.3,991.1 L416.0,986.7 L413.8,982.2 L411.7,977.7 L409.7,973.0 L407.8,968.3 L406.1,963.5 L404.6,958.7 L403.4,953.8 L402.3,948.8 L401.4,943.8 L400.7,938.7 L400.3,933.7 L400.1,928.6Z" fill="#00ff21"/>
<path d="M406.5,923.5 L406.7,918.6 L407.1,913.7 L407.6,908.8 L408.3,903.9 L409.2,899.1 L410.1,894.3 L411.2,889.5 L412.4,884.8 L413.6,880.1 L415.0,875.4 L416.4,870.7 L417.9,866.1 L419.6,861.5 L421.3,857.0 L423.2,852.5 L425.2,848.1 L427.4,843.8 L429.6,839.5 L432.0,835.3 L434.4,831.1 L437.0,827.0 L439.7,822.9 L442.4,819.0 L445.3,815.1 L448.2,811.3 L451.3,807.5 L454.4,803.9 L457.6,800.3 L460.9,796.7 L464.3,793.3 L467.7,789.9 L471.3,786.7 L474.9,783.5 L478.7,780.5 L482.5,777.5 L486.4,774.7 L490.4,772.0 L494.4,769.4 L498.6,767.0 L502.8,764.7 L507.1,762.5 L511.4,760.5 L515.8,758.6 L520.3,756.8 L524.7,755.1 L529.3,753.5 L533.8,752.1 L538.4,750.7 L543.0,749.5 L547.6,748.5 L552.3,747.6 L556.9,746.8 L561.7,746.3 L566.4,745.8 L571.1,745.5 L575.8,745.2 L580.5,745.0 L585.1,744.9 L589.8,745.0 L594.5,745.1 L599.2,745.4 L603.8,745.7 L608.5,746.1 L613.1,746.6 L617.7,747.2 L622.3,747.9 L626.9,748.7 L631.5,749.7 L636.0,750.7 L640.5,751.9 L645.0,753.1 L649.4,754.5 L653.8,755.9 L658.2,757.5 L662.6,759.1 L666.9,760.9 L671.2,762.7 L675.5,764.5 L679.8,766.4 L684.1,768.3 L688.5,770.2 L692.8,772.2 L697.1,774.3 L701.2,776.6 L705.3,779.1 L709.2,781.9 L712.9,784.8 L716.5,788.0 L720.0,791.2 L723.4,794.6 L726.7,798.1 L729.8,801.7 L732.9,805.3 L736.0,808.9 L739.1,812.5 L742.3,816.2 L745.3,819.9 L748.2,823.7 L750.9,827.7 L753.5,831.7 L755.9,835.9 L758.3,840.1 L760.6,844.3 L762.8,848.6 L765.0,852.9 L767.1,857.3 L769.1,861.7 L771.0,866.2 L772.8,870.7 L774.5,875.3 L776.1,879.9 L777.7,884.6 L779.1,889.3 L780.4,894.1 L781.5,898.9 L782.3,903.8 L783.0,908.7 L783.4,913.6 L783.7,918.5 L783.9,923.5 L783.9,928.5 L783.9,933.4 L783.8,938.4 L783.6,943.4 L783.3,948.4 L782.8,953.3 L782.3,958.3 L781.6,963.3 L780.8,968.2 L780.0,973.2 L778.9,978.1 L777.7,983.0 L776.4,987.9 L774.8,992.7 L772.9,997.4 L770.9,1002.0 L768.8,1006.6 L766.5,1011.1 L764.0,1015.5 L761.4,1019.9 L758.6,1024.1 L755.7,1028.2 L752.6,1032.2 L749.5,1036.1 L746.2,1039.9 L742.8,1043.6 L739.4,1047.2 L735.8,1050.7 L732.2,1054.1 L728.5,1057.5 L724.7,1060.7 L720.9,1063.8 L717.0,1066.9 L713.1,1069.9 L709.1,1072.9 L705.1,1075.7 L701.0,1078.5 L696.8,1081.1 L692.5,1083.5 L688.2,1085.7 L683.7,1087.8 L679.2,1089.7 L674.6,1091.4 L670.0,1093.1 L665.4,1094.7 L660.8,1096.1 L656.1,1097.5 L651.4,1098.7 L646.7,1099.8 L642.0,1100.7 L637.2,1101.5 L632.5,1102.3 L627.8,1102.9 L623.0,1103.5 L618.3,1104.0 L613.5,1104.5 L608.8,1104.8 L604.0,1104.9 L599.3,1105.0 L594.5,1104.9 L589.8,1104.7 L585.0,1104.4 L580.3,1104.0 L575.6,1103.5 L570.9,1102.8 L566.2,1102.1 L561.5,1101.3 L556.9,1100.4 L552.2,1099.5 L547.6,1098.4 L543.0,1097.2 L538.5,1095.9 L534.0,1094.3 L529.6,1092.7 L525.2,1090.9 L520.8,1088.9 L516.6,1086.9 L512.3,1084.8 L508.1,1082.6 L503.9,1080.4 L499.8,1078.1 L495.7,1075.6 L491.8,1073.0 L488.0,1070.1 L484.4,1067.0 L481.0,1063.6 L477.8,1060.2 L474.6,1056.7 L471.5,1053.1 L468.5,1049.5 L465.4,1046.0 L462.5,1042.4 L459.6,1038.7 L456.8,1035.0 L454.0,1031.3 L451.2,1027.6 L448.3,1024.0 L445.4,1020.3 L442.5,1016.6 L439.7,1012.9 L437.0,1009.0 L434.4,1005.1 L431.8,1001.1 L429.2,997.1 L426.7,993.0 L424.4,988.8 L422.1,984.5 L419.9,980.2 L417.9,975.8 L415.9,971.3 L414.1,966.8 L412.4,962.2 L411.0,957.5 L409.7,952.8 L408.7,948.0 L407.8,943.1 L407.1,938.3 L406.6,933.3 L406.4,928.4Z" fill="#00ff0b"/>
<path d="M412.7,923.5 L412.9,918.7 L413.3,914.0 L413.8,909.3 L414.4,904.6 L415.2,899.9 L416.1,895.2 L417.1,890.6 L418.2,886.0 L419.4,881.5 L420.7,876.9 L422.0,872.4 L423.4,867.9 L425.0,863.5 L426.7,859.1 L428.5,854.7 L430.4,850.4 L432.5,846.2 L434.7,842.1 L437.0,838.0 L439.3,833.9 L441.8,829.9 L444.4,826.0 L447.1,822.2 L449.9,818.4 L452.7,814.7 L455.7,811.1 L458.7,807.5 L461.8,804.0 L465.0,800.6 L468.3,797.3 L471.6,794.0 L475.1,790.9 L478.6,787.8 L482.3,784.9 L486.0,782.1 L489.8,779.4 L493.7,776.8 L497.6,774.3 L501.6,771.9 L505.7,769.7 L509.9,767.6 L514.1,765.7 L518.4,763.9 L522.7,762.2 L527.0,760.6 L531.4,759.1 L535.8,757.8 L540.2,756.5 L544.7,755.4 L549.2,754.3 L553.7,753.5 L558.2,752.8 L562.8,752.3 L567.3,751.9 L571.9,751.6 L576.4,751.4 L580.9,751.2 L585.5,751.2 L590.0,751.3 L594.5,751.4 L599.0,751.7 L603.5,752.0 L608.0,752.4 L612.4,752.9 L616.9,753.4 L621.3,754.2 L625.7,755.0 L630.1,755.9 L634.5,756.9 L638.8,758.1 L643.1,759.3 L647.4,760.6 L651.7,762.0 L655.9,763.5 L660.1,765.2 L664.2,766.9 L668.3,768.7 L672.5,770.5 L676.6,772.3 L680.8,774.0 L685.0,775.8 L689.1,777.8 L693.3,779.8 L697.3,782.0 L701.2,784.5 L704.9,787.2 L708.5,790.1 L711.9,793.1 L715.2,796.3 L718.4,799.6 L721.5,802.9 L724.6,806.4 L727.6,809.9 L730.6,813.3 L733.6,816.8 L736.7,820.2 L739.6,823.8 L742.4,827.5 L745.0,831.3 L747.5,835.2 L749.8,839.2 L752.1,843.2 L754.3,847.3 L756.5,851.4 L758.6,855.5 L760.6,859.7 L762.6,864.0 L764.5,868.3 L766.3,872.6 L768.0,877.0 L769.6,881.5 L771.1,886.0 L772.6,890.5 L773.9,895.1 L775.0,899.7 L775.9,904.4 L776.5,909.2 L777.0,913.9 L777.2,918.7 L777.4,923.5 L777.4,928.3 L777.4,933.1 L777.3,937.9 L777.1,942.7 L776.9,947.5 L776.5,952.3 L776.0,957.1 L775.4,961.9 L774.7,966.8 L773.8,971.6 L772.9,976.3 L771.8,981.1 L770.5,985.8 L769.0,990.5 L767.3,995.1 L765.4,999.6 L763.3,1004.0 L761.2,1008.4 L758.8,1012.7 L756.4,1017.0 L753.7,1021.1 L750.9,1025.1 L748.0,1029.0 L744.9,1032.8 L741.8,1036.5 L738.6,1040.2 L735.2,1043.7 L731.8,1047.1 L728.3,1050.5 L724.7,1053.7 L721.0,1056.8 L717.3,1059.9 L713.6,1062.9 L709.8,1065.9 L706.0,1068.8 L702.1,1071.6 L698.1,1074.3 L694.1,1076.8 L689.9,1079.2 L685.6,1081.3 L681.3,1083.3 L676.8,1085.1 L672.4,1086.7 L667.9,1088.3 L663.3,1089.7 L658.8,1091.0 L654.2,1092.2 L649.7,1093.3 L645.1,1094.3 L640.5,1095.1 L635.9,1095.9 L631.3,1096.5 L626.7,1097.1 L622.1,1097.6 L617.5,1098.1 L612.9,1098.4 L608.3,1098.7 L603.7,1098.8 L599.1,1098.9 L594.5,1098.8 L589.9,1098.7 L585.3,1098.4 L580.8,1098.1 L576.2,1097.6 L571.7,1097.0 L567.1,1096.3 L562.6,1095.6 L558.1,1094.8 L553.6,1093.9 L549.1,1092.9 L544.6,1091.8 L540.2,1090.5 L535.9,1089.1 L531.6,1087.5 L527.3,1085.7 L523.1,1083.9 L518.9,1081.9 L514.8,1079.9 L510.7,1077.8 L506.7,1075.6 L502.6,1073.4 L498.7,1071.0 L494.8,1068.5 L491.2,1065.7 L487.7,1062.7 L484.5,1059.4 L481.4,1056.0 L478.3,1052.5 L475.4,1049.0 L472.5,1045.5 L469.6,1042.0 L466.8,1038.5 L464.0,1034.9 L461.4,1031.3 L458.8,1027.6 L456.1,1024.0 L453.4,1020.5 L450.6,1016.9 L447.9,1013.4 L445.2,1009.7 L442.6,1006.0 L440.0,1002.2 L437.5,998.4 L435.1,994.5 L432.7,990.5 L430.4,986.5 L428.2,982.4 L426.1,978.2 L424.1,974.0 L422.2,969.7 L420.4,965.3 L418.7,960.9 L417.3,956.3 L416.1,951.8 L415.0,947.1 L414.1,942.5 L413.4,937.8 L412.9,933.0 L412.7,928.3Z" fill="#0bff00"/>
<path d="M419.5,923.5 L419.7,918.9 L420.0,914.4 L420.5,909.8 L421.1,905.3 L421.8,900.8 L422.6,896.3 L423.6,891.8 L424.7,887.4 L425.8,883.0 L427.0,878.6 L428.3,874.3 L429.7,869.9 L431.2,865.7 L432.8,861.4 L434.5,857.2 L436.4,853.1 L438.4,849.0 L440.5,845.0 L442.7,841.1 L445.0,837.2 L447.4,833.3 L449.8,829.6 L452.4,825.9 L455.1,822.2 L457.9,818.7 L460.7,815.2 L463.7,811.8 L466.7,808.4 L469.8,805.2 L473.0,802.0 L476.2,798.9 L479.6,795.8 L483.0,792.9 L486.5,790.1 L490.1,787.4 L493.7,784.8 L497.5,782.3 L501.3,779.9 L505.1,777.6 L509.1,775.5 L513.1,773.5 L517.1,771.6 L521.2,769.9 L525.4,768.2 L529.5,766.7 L533.7,765.2 L538.0,763.9 L542.2,762.6 L546.5,761.5 L550.8,760.5 L555.2,759.7 L559.5,759.0 L563.9,758.5 L568.3,758.1 L572.7,757.7 L577.0,757.5 L581.4,757.3 L585.8,757.3 L590.1,757.3 L594.5,757.5 L598.8,757.7 L603.2,758.0 L607.5,758.3 L611.8,758.8 L616.1,759.4 L620.4,760.0 L624.7,760.8 L628.9,761.7 L633.1,762.6 L637.3,763.7 L641.5,764.9 L645.6,766.2 L649.7,767.5 L653.8,769.0 L657.8,770.6 L661.8,772.3 L665.8,774.0 L669.7,775.8 L673.7,777.6 L677.7,779.4 L681.7,781.2 L685.6,783.2 L689.5,785.2 L693.3,787.4 L697.0,789.9 L700.6,792.5 L704.0,795.3 L707.2,798.3 L710.4,801.4 L713.5,804.5 L716.5,807.7 L719.4,811.0 L722.3,814.4 L725.2,817.7 L728.1,821.0 L731.0,824.3 L733.9,827.7 L736.6,831.2 L739.2,834.8 L741.6,838.6 L743.9,842.4 L746.2,846.2 L748.4,850.1 L750.5,854.0 L752.6,858.0 L754.6,862.0 L756.5,866.1 L758.4,870.3 L760.1,874.4 L761.8,878.7 L763.4,883.0 L764.9,887.3 L766.2,891.7 L767.5,896.1 L768.6,900.6 L769.4,905.1 L770.1,909.7 L770.5,914.3 L770.8,918.9 L771.0,923.5 L771.1,928.1 L771.1,932.8 L771.0,937.4 L770.8,942.0 L770.6,946.7 L770.2,951.3 L769.8,956.0 L769.2,960.6 L768.5,965.3 L767.7,969.9 L766.8,974.5 L765.8,979.2 L764.6,983.7 L763.1,988.2 L761.5,992.7 L759.7,997.0 L757.7,1001.3 L755.6,1005.6 L753.4,1009.8 L751.0,1013.9 L748.5,1017.9 L745.8,1021.8 L743.0,1025.6 L740.1,1029.3 L737.1,1032.9 L734.0,1036.4 L730.7,1039.9 L727.4,1043.2 L724.0,1046.4 L720.6,1049.6 L717.0,1052.6 L713.4,1055.6 L709.8,1058.5 L706.1,1061.3 L702.4,1064.1 L698.6,1066.8 L694.7,1069.3 L690.8,1071.8 L686.7,1074.0 L682.6,1076.1 L678.3,1077.9 L674.1,1079.6 L669.7,1081.2 L665.4,1082.7 L661.0,1084.1 L656.6,1085.3 L652.2,1086.5 L647.8,1087.5 L643.4,1088.4 L638.9,1089.2 L634.5,1089.9 L630.0,1090.5 L625.5,1091.0 L621.1,1091.5 L616.7,1091.9 L612.2,1092.3 L607.8,1092.5 L603.4,1092.6 L598.9,1092.7 L594.5,1092.6 L590.1,1092.5 L585.7,1092.2 L581.3,1091.9 L576.9,1091.4 L572.5,1090.8 L568.1,1090.2 L563.7,1089.5 L559.4,1088.7 L555.0,1087.8 L550.7,1086.9 L546.4,1085.8 L542.2,1084.5 L538.0,1083.2 L533.8,1081.7 L529.7,1080.0 L525.6,1078.3 L521.6,1076.4 L517.6,1074.4 L513.7,1072.4 L509.8,1070.3 L505.9,1068.0 L502.1,1065.7 L498.5,1063.2 L495.0,1060.5 L491.6,1057.5 L488.5,1054.4 L485.5,1051.1 L482.7,1047.7 L479.8,1044.3 L477.1,1040.9 L474.3,1037.5 L471.6,1034.2 L469.0,1030.7 L466.4,1027.2 L463.9,1023.7 L461.4,1020.2 L458.8,1016.8 L456.1,1013.4 L453.4,1009.9 L450.8,1006.4 L448.3,1002.9 L445.9,999.2 L443.4,995.6 L441.1,991.8 L438.8,988.0 L436.5,984.1 L434.4,980.2 L432.3,976.2 L430.4,972.1 L428.5,968.0 L426.8,963.8 L425.2,959.5 L423.8,955.1 L422.7,950.7 L421.7,946.3 L420.8,941.8 L420.1,937.2 L419.7,932.7 L419.5,928.1Z" fill="#21ff00"/>
<path d="M426.3,923.5 L426.5,919.1 L426.8,914.7 L427.2,910.3 L427.8,906.0 L428.4,901.6 L429.2,897.3 L430.1,893.0 L431.1,888.8 L432.2,884.5 L433.3,880.3 L434.6,876.1 L435.9,872.0 L437.3,867.8 L438.9,863.8 L440.6,859.7 L442.4,855.8 L444.3,851.8 L446.3,848.0 L448.4,844.2 L450.6,840.4 L452.9,836.7 L455.3,833.1 L457.8,829.5 L460.3,826.0 L463.0,822.6 L465.8,819.3 L468.6,816.0 L471.6,812.8 L474.6,809.7 L477.6,806.6 L480.8,803.7 L484.0,800.8 L487.3,798.0 L490.7,795.3 L494.2,792.7 L497.7,790.3 L501.3,787.9 L504.9,785.6 L508.6,783.4 L512.4,781.3 L516.2,779.4 L520.1,777.5 L524.1,775.8 L528.0,774.2 L532.0,772.7 L536.1,771.3 L540.1,770.0 L544.2,768.8 L548.3,767.7 L552.5,766.7 L556.7,765.9 L560.8,765.2 L565.1,764.6 L569.3,764.2 L573.5,763.8 L577.7,763.6 L581.9,763.4 L586.1,763.3 L590.3,763.4 L594.5,763.5 L598.7,763.7 L602.9,764.0 L607.0,764.3 L611.2,764.7 L615.3,765.3 L619.5,765.9 L623.6,766.6 L627.7,767.4 L631.7,768.4 L635.8,769.4 L639.8,770.5 L643.8,771.8 L647.8,773.1 L651.7,774.5 L655.6,776.0 L659.4,777.6 L663.2,779.4 L667.0,781.2 L670.8,783.0 L674.6,784.8 L678.4,786.6 L682.1,788.6 L685.8,790.7 L689.4,792.9 L692.9,795.3 L696.2,797.9 L699.5,800.6 L702.6,803.5 L705.6,806.4 L708.6,809.4 L711.5,812.5 L714.3,815.7 L717.0,818.9 L719.8,822.0 L722.6,825.2 L725.4,828.4 L728.1,831.7 L730.8,835.0 L733.3,838.4 L735.7,842.0 L738.0,845.6 L740.3,849.2 L742.4,852.9 L744.6,856.7 L746.6,860.5 L748.6,864.3 L750.5,868.3 L752.3,872.2 L754.0,876.3 L755.6,880.3 L757.2,884.5 L758.6,888.6 L759.9,892.8 L761.1,897.1 L762.1,901.4 L763.0,905.8 L763.6,910.2 L764.0,914.6 L764.4,919.1 L764.6,923.5 L764.7,928.0 L764.7,932.4 L764.7,936.9 L764.5,941.4 L764.3,945.9 L764.0,950.3 L763.6,954.8 L763.0,959.3 L762.4,963.8 L761.6,968.3 L760.7,972.7 L759.7,977.2 L758.6,981.6 L757.2,986.0 L755.7,990.3 L753.9,994.5 L752.1,998.7 L750.1,1002.8 L748.0,1006.8 L745.7,1010.8 L743.3,1014.7 L740.7,1018.4 L738.0,1022.1 L735.2,1025.7 L732.3,1029.3 L729.3,1032.7 L726.2,1036.0 L723.0,1039.2 L719.8,1042.4 L716.4,1045.4 L713.0,1048.4 L709.5,1051.2 L706.0,1054.0 L702.4,1056.7 L698.8,1059.4 L695.1,1061.9 L691.3,1064.4 L687.5,1066.7 L683.6,1068.8 L679.5,1070.8 L675.4,1072.6 L671.3,1074.2 L667.1,1075.8 L662.9,1077.2 L658.7,1078.5 L654.5,1079.7 L650.2,1080.8 L645.9,1081.7 L641.6,1082.6 L637.3,1083.3 L633.0,1084.0 L628.7,1084.5 L624.4,1085.0 L620.1,1085.4 L615.9,1085.8 L611.6,1086.1 L607.3,1086.4 L603.0,1086.5 L598.8,1086.5 L594.5,1086.4 L590.2,1086.3 L586.0,1086.0 L581.7,1085.7 L577.5,1085.2 L573.3,1084.6 L569.1,1084.0 L564.9,1083.3 L560.7,1082.6 L556.5,1081.7 L552.4,1080.8 L548.2,1079.7 L544.1,1078.5 L540.1,1077.3 L536.0,1075.8 L532.0,1074.3 L528.1,1072.6 L524.2,1070.9 L520.4,1069.0 L516.6,1067.0 L512.9,1064.9 L509.2,1062.7 L505.6,1060.4 L502.1,1058.0 L498.7,1055.3 L495.6,1052.4 L492.6,1049.3 L489.7,1046.2 L487.0,1042.9 L484.3,1039.6 L481.7,1036.3 L479.0,1033.1 L476.4,1029.8 L473.9,1026.5 L471.4,1023.2 L469.0,1019.8 L466.6,1016.4 L464.1,1013.1 L461.6,1009.8 L459.0,1006.5 L456.5,1003.2 L454.1,999.7 L451.7,996.3 L449.4,992.7 L447.1,989.1 L444.8,985.5 L442.7,981.8 L440.6,978.0 L438.6,974.2 L436.7,970.3 L434.8,966.3 L433.2,962.2 L431.7,958.1 L430.4,953.9 L429.3,949.7 L428.3,945.4 L427.5,941.1 L426.9,936.7 L426.5,932.3 L426.3,927.9Z" fill="#36ff00"/>
<path d="M433.1,923.5 L433.3,919.3 L433.5,915.1 L433.9,910.9 L434.5,906.7 L435.1,902.5 L435.8,898.4 L436.6,894.2 L437.6,890.1 L438.6,886.1 L439.7,882.0 L440.8,878.0 L442.1,874.0 L443.5,870.0 L445.0,866.1 L446.6,862.2 L448.3,858.4 L450.2,854.7 L452.1,850.9 L454.1,847.3 L456.2,843.7 L458.4,840.1 L460.7,836.6 L463.1,833.2 L465.6,829.8 L468.2,826.5 L470.8,823.4 L473.6,820.2 L476.4,817.2 L479.3,814.2 L482.3,811.3 L485.4,808.5 L488.5,805.8 L491.7,803.1 L494.9,800.5 L498.3,798.1 L501.6,795.7 L505.1,793.4 L508.6,791.2 L512.1,789.1 L515.8,787.1 L519.4,785.2 L523.2,783.5 L526.9,781.8 L530.7,780.2 L534.5,778.8 L538.4,777.4 L542.3,776.1 L546.2,774.9 L550.2,773.8 L554.1,772.9 L558.1,772.0 L562.2,771.3 L566.2,770.8 L570.2,770.3 L574.3,769.9 L578.3,769.7 L582.4,769.5 L586.4,769.4 L590.5,769.4 L594.5,769.6 L598.5,769.8 L602.5,770.0 L606.6,770.3 L610.6,770.7 L614.6,771.2 L618.5,771.8 L622.5,772.4 L626.4,773.2 L630.4,774.1 L634.3,775.1 L638.1,776.2 L642.0,777.3 L645.8,778.6 L649.6,779.9 L653.4,781.4 L657.0,783.0 L660.7,784.7 L664.3,786.5 L667.9,788.3 L671.5,790.1 L675.1,792.0 L678.6,794.0 L682.1,796.1 L685.5,798.3 L688.7,800.7 L691.9,803.2 L695.0,805.9 L697.9,808.6 L700.8,811.5 L703.6,814.4 L706.4,817.3 L709.1,820.3 L711.8,823.4 L714.4,826.4 L717.0,829.5 L719.7,832.5 L722.4,835.6 L725.0,838.8 L727.5,842.0 L729.8,845.4 L732.1,848.8 L734.3,852.3 L736.5,855.8 L738.6,859.3 L740.7,863.0 L742.6,866.6 L744.5,870.4 L746.2,874.2 L747.9,878.1 L749.5,882.0 L750.9,885.9 L752.3,890.0 L753.6,894.0 L754.7,898.1 L755.7,902.3 L756.5,906.5 L757.1,910.7 L757.6,915.0 L757.9,919.2 L758.2,923.5 L758.3,927.8 L758.4,932.1 L758.3,936.4 L758.2,940.7 L758.1,945.0 L757.8,949.4 L757.4,953.7 L756.8,958.0 L756.2,962.3 L755.5,966.6 L754.7,970.9 L753.7,975.2 L752.6,979.5 L751.3,983.7 L749.8,987.8 L748.2,991.9 L746.4,996.0 L744.5,1000.0 L742.5,1003.9 L740.3,1007.7 L738.0,1011.5 L735.6,1015.1 L733.1,1018.7 L730.4,1022.2 L727.6,1025.6 L724.7,1028.9 L721.7,1032.2 L718.7,1035.3 L715.5,1038.3 L712.3,1041.3 L709.0,1044.1 L705.6,1046.9 L702.2,1049.5 L698.7,1052.2 L695.2,1054.7 L691.6,1057.1 L687.9,1059.4 L684.2,1061.6 L680.4,1063.7 L676.5,1065.5 L672.5,1067.2 L668.5,1068.8 L664.5,1070.3 L660.5,1071.6 L656.4,1072.9 L652.3,1074.0 L648.2,1075.0 L644.0,1076.0 L639.9,1076.8 L635.7,1077.4 L631.6,1078.0 L627.4,1078.5 L623.3,1078.9 L619.2,1079.3 L615.1,1079.7 L610.9,1080.0 L606.8,1080.2 L602.7,1080.3 L598.6,1080.3 L594.5,1080.2 L590.4,1080.1 L586.3,1079.8 L582.2,1079.5 L578.2,1079.0 L574.1,1078.5 L570.1,1077.8 L566.0,1077.2 L562.0,1076.4 L558.0,1075.6 L554.0,1074.7 L550.0,1073.7 L546.1,1072.6 L542.1,1071.3 L538.3,1070.0 L534.4,1068.6 L530.6,1067.0 L526.8,1065.3 L523.2,1063.5 L519.5,1061.6 L516.0,1059.5 L512.5,1057.4 L509.0,1055.1 L505.7,1052.7 L502.5,1050.1 L499.5,1047.3 L496.6,1044.3 L493.9,1041.3 L491.3,1038.1 L488.8,1034.9 L486.2,1031.8 L483.7,1028.6 L481.2,1025.5 L478.8,1022.3 L476.4,1019.1 L474.1,1015.9 L471.8,1012.6 L469.5,1009.4 L467.1,1006.3 L464.6,1003.1 L462.2,999.9 L459.8,996.6 L457.5,993.3 L455.3,989.9 L453.1,986.5 L450.9,983.0 L448.8,979.4 L446.8,975.8 L444.8,972.1 L442.9,968.4 L441.2,964.6 L439.6,960.7 L438.1,956.7 L436.9,952.7 L435.9,948.6 L435.0,944.5 L434.2,940.3 L433.6,936.2 L433.2,932.0 L433.0,927.7Z" fill="#4cff00"/>
<path d="M439.9,923.5 L440.0,919.5 L440.3,915.4 L440.7,911.4 L441.2,907.4 L441.7,903.4 L442.4,899.4 L443.2,895.4 L444.0,891.5 L445.0,887.6 L446.0,883.7 L447.1,879.8 L448.3,876.0 L449.7,872.2 L451.1,868.5 L452.7,864.7 L454.3,861.1 L456.1,857.5 L457.9,853.9 L459.8,850.4 L461.8,846.9 L464.0,843.5 L466.1,840.1 L468.4,836.8 L470.8,833.6 L473.3,830.5 L475.9,827.4 L478.6,824.5 L481.3,821.6 L484.1,818.8 L487.0,816.0 L489.9,813.3 L493.0,810.7 L496.0,808.2 L499.1,805.7 L502.3,803.4 L505.6,801.1 L508.9,799.0 L512.3,796.9 L515.7,794.8 L519.1,792.9 L522.6,791.1 L526.2,789.4 L529.8,787.8 L533.4,786.2 L537.1,784.8 L540.7,783.5 L544.5,782.2 L548.2,781.1 L552.0,780.0 L555.8,779.1 L559.6,778.2 L563.5,777.5 L567.3,776.9 L571.2,776.4 L575.1,776.1 L579.0,775.8 L582.9,775.6 L586.7,775.5 L590.6,775.5 L594.5,775.6 L598.4,775.8 L602.2,776.0 L606.1,776.3 L609.9,776.6 L613.8,777.1 L617.6,777.6 L621.4,778.3 L625.2,779.0 L629.0,779.8 L632.7,780.8 L636.5,781.8 L640.2,782.9 L643.9,784.1 L647.5,785.4 L651.1,786.8 L654.6,788.4 L658.1,790.1 L661.6,791.9 L665.0,793.6 L668.4,795.5 L671.8,797.4 L675.1,799.4 L678.3,801.5 L681.5,803.7 L684.6,806.1 L687.6,808.6 L690.5,811.2 L693.3,813.8 L696.0,816.5 L698.7,819.3 L701.4,822.1 L704.0,824.9 L706.5,827.9 L709.0,830.8 L711.5,833.7 L714.1,836.6 L716.6,839.6 L719.2,842.5 L721.6,845.6 L723.9,848.8 L726.2,852.0 L728.4,855.3 L730.6,858.6 L732.6,862.0 L734.7,865.4 L736.6,869.0 L738.4,872.5 L740.1,876.2 L741.8,879.9 L743.3,883.6 L744.7,887.4 L746.0,891.3 L747.2,895.2 L748.3,899.1 L749.2,903.1 L750.0,907.2 L750.6,911.2 L751.1,915.3 L751.5,919.4 L751.8,923.5 L751.9,927.6 L752.0,931.8 L752.0,935.9 L751.9,940.0 L751.8,944.2 L751.5,948.4 L751.1,952.5 L750.7,956.7 L750.1,960.9 L749.4,965.0 L748.6,969.1 L747.7,973.3 L746.6,977.4 L745.4,981.4 L744.0,985.4 L742.5,989.4 L740.8,993.3 L739.0,997.1 L737.1,1000.9 L735.0,1004.6 L732.8,1008.3 L730.5,1011.8 L728.1,1015.3 L725.5,1018.7 L722.9,1022.0 L720.1,1025.2 L717.2,1028.3 L714.3,1031.3 L711.2,1034.3 L708.1,1037.1 L704.9,1039.9 L701.7,1042.5 L698.3,1045.1 L695.0,1047.6 L691.6,1050.0 L688.1,1052.3 L684.5,1054.5 L680.9,1056.6 L677.2,1058.5 L673.5,1060.3 L669.6,1061.9 L665.8,1063.4 L661.9,1064.8 L658.0,1066.1 L654.1,1067.3 L650.1,1068.4 L646.1,1069.3 L642.2,1070.2 L638.2,1070.9 L634.2,1071.5 L630.2,1072.1 L626.2,1072.5 L622.2,1072.9 L618.2,1073.2 L614.3,1073.6 L610.3,1073.8 L606.3,1074.0 L602.4,1074.1 L598.4,1074.1 L594.5,1074.0 L590.6,1073.9 L586.6,1073.6 L582.7,1073.3 L578.8,1072.8 L574.9,1072.3 L571.0,1071.7 L567.2,1071.0 L563.3,1070.3 L559.4,1069.5 L555.6,1068.6 L551.8,1067.6 L548.0,1066.6 L544.2,1065.4 L540.5,1064.2 L536.8,1062.8 L533.1,1061.4 L529.5,1059.8 L525.9,1058.1 L522.5,1056.2 L519.1,1054.1 L515.7,1052.0 L512.5,1049.8 L509.3,1047.5 L506.3,1044.9 L503.4,1042.2 L500.7,1039.3 L498.1,1036.3 L495.6,1033.3 L493.2,1030.2 L490.8,1027.2 L488.4,1024.1 L486.1,1021.1 L483.7,1018.1 L481.4,1015.1 L479.2,1012.0 L477.0,1008.9 L474.8,1005.8 L472.5,1002.7 L470.2,999.7 L467.9,996.6 L465.6,993.5 L463.4,990.3 L461.2,987.1 L459.1,983.8 L457.0,980.5 L455.0,977.1 L453.0,973.6 L451.1,970.1 L449.2,966.5 L447.5,962.9 L445.9,959.2 L444.6,955.4 L443.4,951.5 L442.5,947.6 L441.6,943.6 L440.9,939.6 L440.3,935.6 L440.0,931.6 L439.8,927.6Z" fill="#62ff00"/>
<path d="M446.7,923.5 L446.8,919.6 L447.1,915.8 L447.4,911.9 L447.8,908.1 L448.4,904.3 L449.0,900.4 L449.7,896.7 L450.5,892.9 L451.4,889.1 L452.3,885.4 L453.4,881.7 L454.6,878.0 L455.9,874.4 L457.2,870.8 L458.7,867.3 L460.3,863.7 L461.9,860.3 L463.7,856.9 L465.5,853.5 L467.5,850.2 L469.5,846.9 L471.6,843.7 L473.8,840.5 L476.0,837.4 L478.4,834.4 L480.9,831.5 L483.5,828.7 L486.2,826.0 L488.9,823.3 L491.7,820.7 L494.5,818.1 L497.4,815.7 L500.4,813.3 L503.4,811.0 L506.4,808.7 L509.5,806.6 L512.7,804.5 L515.9,802.5 L519.2,800.6 L522.5,798.7 L525.8,797.0 L529.2,795.3 L532.6,793.7 L536.1,792.3 L539.6,790.9 L543.1,789.5 L546.6,788.3 L550.2,787.2 L553.8,786.2 L557.4,785.2 L561.1,784.4 L564.8,783.7 L568.5,783.1 L572.2,782.6 L575.9,782.2 L579.6,781.9 L583.3,781.7 L587.1,781.6 L590.8,781.6 L594.5,781.7 L598.2,781.8 L601.9,782.0 L605.6,782.2 L609.3,782.6 L613.0,783.0 L616.7,783.5 L620.3,784.1 L624.0,784.8 L627.6,785.6 L631.2,786.4 L634.8,787.4 L638.4,788.4 L641.9,789.6 L645.4,790.8 L648.9,792.2 L652.3,793.8 L655.6,795.5 L658.9,797.2 L662.1,799.0 L665.3,800.9 L668.5,802.8 L671.6,804.8 L674.6,807.0 L677.6,809.2 L680.4,811.5 L683.2,813.9 L686.0,816.4 L688.6,819.0 L691.2,821.6 L693.8,824.2 L696.3,826.9 L698.8,829.6 L701.2,832.3 L703.6,835.2 L706.0,837.9 L708.4,840.7 L710.9,843.5 L713.4,846.3 L715.8,849.2 L718.1,852.2 L720.3,855.2 L722.5,858.3 L724.6,861.4 L726.7,864.6 L728.7,867.9 L730.6,871.3 L732.4,874.7 L734.0,878.2 L735.6,881.7 L737.1,885.3 L738.5,888.9 L739.7,892.6 L740.9,896.4 L741.9,900.2 L742.8,904.0 L743.5,907.8 L744.2,911.7 L744.7,915.6 L745.1,919.6 L745.4,923.5 L745.5,927.5 L745.7,931.4 L745.7,935.4 L745.6,939.4 L745.5,943.4 L745.3,947.4 L744.9,951.4 L744.5,955.4 L744.0,959.4 L743.3,963.4 L742.5,967.3 L741.6,971.3 L740.6,975.2 L739.5,979.1 L738.2,983.0 L736.8,986.8 L735.2,990.6 L733.5,994.3 L731.6,997.9 L729.7,1001.5 L727.6,1005.1 L725.4,1008.5 L723.1,1011.9 L720.7,1015.2 L718.1,1018.4 L715.4,1021.4 L712.7,1024.5 L709.9,1027.4 L707.0,1030.2 L704.0,1033.0 L700.9,1035.6 L697.7,1038.2 L694.5,1040.6 L691.3,1043.0 L687.9,1045.3 L684.6,1047.5 L681.1,1049.5 L677.6,1051.5 L674.0,1053.3 L670.4,1055.0 L666.7,1056.5 L663.0,1058.0 L659.3,1059.3 L655.5,1060.5 L651.7,1061.7 L647.9,1062.7 L644.1,1063.6 L640.3,1064.4 L636.4,1065.1 L632.6,1065.6 L628.7,1066.1 L624.9,1066.5 L621.1,1066.8 L617.3,1067.1 L613.5,1067.4 L609.7,1067.7 L605.9,1067.9 L602.1,1067.9 L598.3,1067.9 L594.5,1067.8 L590.7,1067.7 L587.0,1067.4 L583.2,1067.0 L579.5,1066.6 L575.7,1066.1 L572.0,1065.5 L568.3,1064.9 L564.6,1064.2 L560.9,1063.4 L557.3,1062.5 L553.6,1061.6 L550.0,1060.6 L546.3,1059.5 L542.7,1058.3 L539.2,1057.1 L535.6,1055.8 L532.1,1054.3 L528.7,1052.6 L525.4,1050.8 L522.2,1048.8 L519.0,1046.7 L515.9,1044.5 L512.9,1042.2 L510.0,1039.7 L507.3,1037.1 L504.8,1034.3 L502.3,1031.4 L500.0,1028.5 L497.7,1025.5 L495.4,1022.6 L493.2,1019.7 L490.9,1016.8 L488.6,1013.9 L486.4,1011.0 L484.3,1008.1 L482.2,1005.1 L480.2,1002.1 L478.0,999.1 L475.8,996.2 L473.6,993.3 L471.3,990.4 L469.2,987.3 L467.1,984.3 L465.1,981.1 L463.1,977.9 L461.1,974.7 L459.2,971.4 L457.3,968.1 L455.5,964.7 L453.8,961.2 L452.3,957.6 L451.0,954.0 L450.0,950.3 L449.1,946.5 L448.3,942.8 L447.6,938.9 L447.1,935.1 L446.7,931.2 L446.6,927.4Z" fill="#77ff00"/>
<path d="M453.4,923.5 L453.6,919.8 L453.8,916.1 L454.1,912.5 L454.5,908.8 L455.0,905.1 L455.5,901.5 L456.2,897.9 L456.9,894.3 L457.7,890.7 L458.7,887.1 L459.7,883.6 L460.8,880.1 L462.0,876.6 L463.4,873.2 L464.8,869.8 L466.3,866.4 L467.8,863.1 L469.5,859.8 L471.3,856.6 L473.1,853.4 L475.0,850.3 L477.0,847.2 L479.1,844.2 L481.3,841.2 L483.6,838.4 L486.0,835.6 L488.5,832.9 L491.0,830.3 L493.7,827.8 L496.4,825.4 L499.1,823.0 L501.9,820.6 L504.7,818.4 L507.6,816.2 L510.5,814.1 L513.5,812.0 L516.5,810.0 L519.6,808.1 L522.7,806.3 L525.8,804.5 L529.0,802.8 L532.2,801.2 L535.5,799.7 L538.7,798.3 L542.1,796.9 L545.4,795.6 L548.8,794.4 L552.2,793.3 L555.6,792.3 L559.1,791.4 L562.6,790.6 L566.1,789.9 L569.6,789.2 L573.2,788.7 L576.7,788.3 L580.3,788.0 L583.8,787.7 L587.4,787.6 L590.9,787.6 L594.5,787.7 L598.1,787.8 L601.6,788.0 L605.1,788.2 L608.7,788.5 L612.2,788.9 L615.7,789.4 L619.3,789.9 L622.8,790.6 L626.2,791.3 L629.7,792.1 L633.2,793.0 L636.6,794.0 L640.0,795.1 L643.3,796.3 L646.6,797.7 L649.9,799.2 L653.0,800.8 L656.1,802.5 L659.2,804.3 L662.2,806.2 L665.2,808.2 L668.0,810.2 L670.9,812.4 L673.6,814.6 L676.3,816.9 L678.9,819.3 L681.5,821.7 L683.9,824.2 L686.4,826.6 L688.9,829.1 L691.3,831.7 L693.7,834.2 L696.0,836.8 L698.2,839.5 L700.5,842.2 L702.8,844.8 L705.2,847.4 L707.6,850.1 L709.9,852.8 L712.2,855.6 L714.4,858.4 L716.6,861.3 L718.7,864.3 L720.7,867.3 L722.7,870.4 L724.6,873.6 L726.3,876.8 L728.0,880.1 L729.5,883.5 L730.9,886.9 L732.3,890.4 L733.5,894.0 L734.5,897.5 L735.5,901.2 L736.3,904.8 L737.1,908.5 L737.7,912.2 L738.2,916.0 L738.6,919.7 L738.9,923.5 L739.2,927.3 L739.3,931.1 L739.4,934.9 L739.3,938.7 L739.2,942.6 L739.0,946.4 L738.7,950.2 L738.3,954.1 L737.8,957.9 L737.2,961.7 L736.4,965.5 L735.6,969.3 L734.6,973.1 L733.6,976.9 L732.4,980.6 L731.0,984.3 L729.6,987.9 L727.9,991.5 L726.2,995.0 L724.3,998.5 L722.4,1001.9 L720.3,1005.2 L718.2,1008.5 L715.8,1011.7 L713.4,1014.7 L710.8,1017.7 L708.2,1020.6 L705.5,1023.4 L702.7,1026.2 L699.8,1028.8 L696.9,1031.4 L693.8,1033.8 L690.7,1036.2 L687.5,1038.4 L684.3,1040.6 L681.1,1042.6 L677.7,1044.6 L674.3,1046.4 L670.9,1048.1 L667.4,1049.7 L663.8,1051.2 L660.3,1052.6 L656.7,1053.8 L653.1,1055.0 L649.4,1056.1 L645.8,1057.0 L642.1,1057.9 L638.4,1058.6 L634.7,1059.2 L631.0,1059.8 L627.3,1060.2 L623.6,1060.5 L619.9,1060.8 L616.3,1061.1 L612.6,1061.3 L609.0,1061.6 L605.4,1061.7 L601.7,1061.8 L598.1,1061.7 L594.5,1061.6 L590.9,1061.5 L587.3,1061.2 L583.7,1060.8 L580.1,1060.4 L576.5,1059.9 L573.0,1059.4 L569.4,1058.8 L565.9,1058.1 L562.4,1057.3 L558.9,1056.4 L555.4,1055.5 L551.9,1054.6 L548.4,1053.6 L545.0,1052.5 L541.5,1051.4 L538.1,1050.1 L534.8,1048.7 L531.5,1047.2 L528.3,1045.4 L525.3,1043.4 L522.3,1041.3 L519.4,1039.2 L516.5,1037.0 L513.8,1034.6 L511.2,1032.0 L508.8,1029.3 L506.5,1026.5 L504.3,1023.7 L502.1,1020.8 L500.0,1018.0 L497.9,1015.2 L495.7,1012.5 L493.5,1009.7 L491.4,1007.0 L489.4,1004.1 L487.5,1001.3 L485.5,998.4 L483.5,995.6 L481.4,992.8 L479.2,990.1 L477.1,987.2 L475.0,984.4 L473.0,981.4 L471.1,978.5 L469.1,975.4 L467.2,972.4 L465.4,969.2 L463.5,966.1 L461.8,962.8 L460.2,959.5 L458.7,956.1 L457.5,952.6 L456.5,949.1 L455.7,945.5 L454.9,941.9 L454.3,938.2 L453.8,934.6 L453.5,930.9 L453.4,927.2Z" fill="#8dff00"/>
<path d="M460.5,923.5 L460.6,920.0 L460.8,916.5 L461.1,913.0 L461.4,909.5 L461.9,906.0 L462.4,902.6 L462.9,899.1 L463.6,895.7 L464.4,892.3 L465.2,888.9 L466.2,885.5 L467.2,882.2 L468.4,878.8 L469.6,875.6 L471.0,872.3 L472.4,869.1 L473.9,866.0 L475.5,862.9 L477.2,859.8 L478.9,856.8 L480.7,853.8 L482.6,850.9 L484.6,848.0 L486.7,845.2 L488.9,842.5 L491.2,839.8 L493.5,837.3 L496.0,834.8 L498.5,832.4 L501.0,830.0 L503.6,827.7 L506.2,825.5 L508.9,823.3 L511.6,821.2 L514.4,819.2 L517.3,817.2 L520.1,815.3 L523.1,813.5 L526.0,811.7 L529.0,810.0 L532.0,808.4 L535.1,806.8 L538.2,805.4 L541.3,804.0 L544.5,802.7 L547.7,801.5 L550.9,800.3 L554.1,799.2 L557.4,798.3 L560.7,797.4 L564.0,796.6 L567.4,795.9 L570.7,795.3 L574.1,794.8 L577.5,794.4 L580.9,794.1 L584.3,793.9 L587.7,793.8 L591.1,793.8 L594.5,793.9 L597.9,794.0 L601.3,794.2 L604.7,794.4 L608.0,794.7 L611.4,795.0 L614.8,795.5 L618.1,796.1 L621.4,796.7 L624.8,797.5 L628.0,798.3 L631.3,799.2 L634.6,800.2 L637.8,801.3 L641.0,802.5 L644.1,803.8 L647.1,805.2 L650.2,806.8 L653.1,808.5 L656.0,810.2 L658.9,812.0 L661.7,813.9 L664.4,815.8 L667.1,817.9 L669.7,819.9 L672.3,822.1 L674.8,824.3 L677.3,826.6 L679.7,828.9 L682.0,831.3 L684.4,833.6 L686.7,836.0 L689.0,838.4 L691.2,840.9 L693.4,843.4 L695.5,846.0 L697.8,848.5 L700.0,851.0 L702.3,853.5 L704.5,856.1 L706.6,858.8 L708.8,861.5 L710.8,864.2 L712.8,867.1 L714.8,869.9 L716.7,872.9 L718.4,875.9 L720.1,879.0 L721.7,882.2 L723.2,885.4 L724.6,888.6 L725.9,892.0 L727.0,895.3 L728.1,898.7 L729.0,902.2 L729.8,905.7 L730.6,909.2 L731.2,912.7 L731.7,916.3 L732.1,919.9 L732.4,923.5 L732.6,927.1 L732.8,930.7 L732.9,934.4 L732.8,938.0 L732.8,941.7 L732.6,945.4 L732.3,949.0 L731.9,952.7 L731.5,956.4 L730.9,960.0 L730.2,963.7 L729.4,967.3 L728.5,970.9 L727.4,974.5 L726.3,978.1 L725.0,981.6 L723.6,985.1 L722.1,988.5 L720.4,991.9 L718.7,995.2 L716.8,998.5 L714.9,1001.7 L712.8,1004.8 L710.5,1007.8 L708.2,1010.7 L705.7,1013.6 L703.2,1016.3 L700.6,1019.0 L697.9,1021.7 L695.2,1024.2 L692.3,1026.6 L689.4,1028.9 L686.4,1031.1 L683.4,1033.3 L680.3,1035.3 L677.2,1037.3 L674.0,1039.1 L670.7,1040.8 L667.4,1042.5 L664.0,1044.0 L660.7,1045.4 L657.3,1046.7 L653.8,1047.9 L650.4,1049.0 L646.9,1050.0 L643.4,1050.9 L639.9,1051.7 L636.4,1052.4 L632.9,1053.0 L629.3,1053.5 L625.8,1054.0 L622.3,1054.3 L618.8,1054.7 L615.3,1055.0 L611.8,1055.2 L608.4,1055.5 L604.9,1055.6 L601.4,1055.7 L598.0,1055.7 L594.5,1055.6 L591.0,1055.4 L587.6,1055.1 L584.2,1054.8 L580.8,1054.3 L577.3,1053.8 L573.9,1053.3 L570.6,1052.7 L567.2,1052.0 L563.9,1051.2 L560.5,1050.3 L557.2,1049.4 L553.9,1048.4 L550.6,1047.4 L547.4,1046.3 L544.1,1045.1 L540.9,1043.9 L537.7,1042.5 L534.6,1041.0 L531.6,1039.3 L528.7,1037.4 L525.9,1035.4 L523.1,1033.4 L520.4,1031.3 L517.8,1029.0 L515.4,1026.6 L513.1,1024.1 L510.8,1021.5 L508.7,1018.8 L506.6,1016.1 L504.6,1013.4 L502.5,1010.8 L500.4,1008.2 L498.4,1005.6 L496.4,1003.0 L494.4,1000.3 L492.5,997.6 L490.7,994.9 L488.7,992.2 L486.8,989.5 L484.7,986.9 L482.7,984.2 L480.8,981.4 L478.9,978.6 L477.1,975.8 L475.3,972.9 L473.5,969.9 L471.8,967.0 L470.1,963.9 L468.5,960.8 L466.9,957.7 L465.6,954.5 L464.4,951.1 L463.5,947.8 L462.6,944.4 L461.9,941.0 L461.3,937.5 L460.9,934.0 L460.6,930.5 L460.4,927.0Z" fill="#a3ff00"/>
<path d="M467.5,923.5 L467.6,920.2 L467.8,916.9 L468.0,913.5 L468.3,910.2 L468.7,906.9 L469.2,903.7 L469.7,900.4 L470.3,897.1 L471.0,893.9 L471.8,890.6 L472.7,887.4 L473.7,884.2 L474.7,881.1 L475.9,878.0 L477.2,874.9 L478.5,871.9 L480.0,868.9 L481.5,865.9 L483.1,863.0 L484.7,860.1 L486.5,857.3 L488.3,854.5 L490.2,851.8 L492.1,849.1 L494.2,846.5 L496.3,844.0 L498.6,841.6 L500.9,839.2 L503.2,836.9 L505.6,834.6 L508.1,832.4 L510.6,830.3 L513.1,828.2 L515.7,826.2 L518.3,824.3 L521.0,822.4 L523.8,820.6 L526.5,818.8 L529.3,817.1 L532.1,815.5 L535.0,813.9 L537.9,812.5 L540.9,811.1 L543.8,809.7 L546.8,808.5 L549.9,807.3 L553.0,806.2 L556.0,805.2 L559.2,804.2 L562.3,803.4 L565.5,802.7 L568.7,802.0 L571.9,801.4 L575.1,801.0 L578.3,800.6 L581.6,800.3 L584.8,800.1 L588.0,800.0 L591.3,800.0 L594.5,800.1 L597.7,800.2 L601.0,800.3 L604.2,800.6 L607.4,800.8 L610.6,801.2 L613.8,801.7 L617.0,802.3 L620.1,802.9 L623.3,803.7 L626.4,804.5 L629.5,805.4 L632.5,806.4 L635.6,807.5 L638.6,808.6 L641.5,809.9 L644.4,811.3 L647.3,812.8 L650.1,814.4 L652.8,816.1 L655.5,817.8 L658.2,819.6 L660.8,821.4 L663.3,823.3 L665.9,825.3 L668.3,827.3 L670.7,829.4 L673.1,831.5 L675.4,833.7 L677.6,835.9 L679.9,838.1 L682.1,840.4 L684.3,842.7 L686.4,845.0 L688.5,847.4 L690.6,849.8 L692.7,852.1 L694.8,854.5 L697.0,856.9 L699.1,859.4 L701.1,862.0 L703.1,864.5 L705.1,867.2 L707.0,869.8 L708.8,872.6 L710.6,875.4 L712.3,878.3 L713.9,881.2 L715.4,884.2 L716.9,887.3 L718.2,890.3 L719.5,893.5 L720.6,896.7 L721.6,899.9 L722.5,903.2 L723.4,906.5 L724.1,909.9 L724.7,913.3 L725.2,916.7 L725.6,920.1 L725.9,923.5 L726.1,926.9 L726.3,930.4 L726.3,933.9 L726.3,937.4 L726.3,940.8 L726.1,944.3 L725.9,947.8 L725.5,951.4 L725.1,954.9 L724.5,958.3 L723.9,961.8 L723.2,965.3 L722.3,968.8 L721.3,972.2 L720.3,975.6 L719.0,979.0 L717.7,982.3 L716.2,985.5 L714.7,988.7 L713.0,991.9 L711.3,995.1 L709.4,998.1 L707.4,1001.1 L705.2,1003.9 L703.0,1006.7 L700.6,1009.4 L698.2,1012.1 L695.7,1014.6 L693.2,1017.1 L690.5,1019.5 L687.8,1021.8 L685.0,1024.0 L682.1,1026.1 L679.2,1028.1 L676.3,1030.0 L673.2,1031.9 L670.2,1033.6 L667.1,1035.3 L663.9,1036.8 L660.7,1038.2 L657.5,1039.5 L654.2,1040.8 L651.0,1041.9 L647.7,1043.0 L644.4,1043.9 L641.1,1044.8 L637.7,1045.5 L634.4,1046.2 L631.0,1046.8 L627.7,1047.3 L624.3,1047.8 L621.0,1048.2 L617.7,1048.5 L614.4,1048.9 L611.0,1049.1 L607.7,1049.4 L604.4,1049.5 L601.1,1049.6 L597.8,1049.6 L594.5,1049.5 L591.2,1049.3 L587.9,1049.0 L584.6,1048.7 L581.4,1048.2 L578.1,1047.7 L574.9,1047.2 L571.7,1046.5 L568.5,1045.8 L565.3,1045.0 L562.2,1044.1 L559.0,1043.2 L555.9,1042.2 L552.8,1041.2 L549.7,1040.1 L546.7,1038.9 L543.7,1037.7 L540.7,1036.3 L537.8,1034.8 L535.0,1033.2 L532.2,1031.4 L529.5,1029.5 L526.9,1027.6 L524.3,1025.6 L521.9,1023.5 L519.5,1021.2 L517.3,1018.8 L515.1,1016.4 L513.1,1013.9 L511.1,1011.4 L509.1,1008.9 L507.1,1006.4 L505.2,1003.9 L503.2,1001.5 L501.3,999.0 L499.5,996.4 L497.6,993.9 L495.8,991.3 L494.0,988.8 L492.1,986.2 L490.2,983.7 L488.4,981.1 L486.6,978.5 L484.8,975.8 L483.1,973.1 L481.5,970.3 L479.8,967.5 L478.2,964.7 L476.6,961.8 L475.1,958.9 L473.7,955.9 L472.4,952.8 L471.4,949.7 L470.4,946.5 L469.6,943.3 L468.9,940.0 L468.3,936.8 L467.9,933.5 L467.6,930.1 L467.5,926.8Z" fill="#b8ff00"/>
<path d="M474.5,923.5 L474.6,920.4 L474.7,917.2 L474.9,914.1 L475.2,911.0 L475.6,907.8 L476.0,904.7 L476.5,901.6 L477.0,898.5 L477.7,895.5 L478.4,892.4 L479.2,889.4 L480.1,886.3 L481.1,883.3 L482.2,880.4 L483.4,877.5 L484.7,874.6 L486.0,871.8 L487.5,869.0 L489.0,866.2 L490.5,863.5 L492.2,860.8 L493.9,858.2 L495.7,855.6 L497.6,853.1 L499.5,850.6 L501.5,848.2 L503.6,845.9 L505.8,843.6 L508.0,841.4 L510.3,839.3 L512.6,837.2 L514.9,835.1 L517.3,833.1 L519.8,831.2 L522.3,829.4 L524.8,827.6 L527.4,825.8 L530.0,824.1 L532.6,822.5 L535.3,821.0 L538.0,819.5 L540.8,818.1 L543.6,816.7 L546.4,815.4 L549.2,814.2 L552.1,813.1 L555.0,812.0 L558.0,811.1 L560.9,810.2 L563.9,809.4 L566.9,808.7 L570.0,808.1 L573.0,807.6 L576.1,807.1 L579.1,806.7 L582.2,806.5 L585.3,806.3 L588.4,806.2 L591.4,806.2 L594.5,806.3 L597.6,806.4 L600.6,806.5 L603.7,806.7 L606.7,807.0 L609.8,807.4 L612.8,807.8 L615.8,808.4 L618.8,809.1 L621.8,809.9 L624.7,810.7 L627.6,811.6 L630.5,812.6 L633.4,813.7 L636.2,814.8 L639.0,816.1 L641.7,817.4 L644.4,818.9 L647.0,820.4 L649.6,822.0 L652.2,823.6 L654.7,825.3 L657.2,827.0 L659.6,828.8 L662.0,830.6 L664.3,832.5 L666.6,834.4 L668.9,836.4 L671.1,838.4 L673.3,840.5 L675.4,842.6 L677.5,844.7 L679.6,846.9 L681.7,849.1 L683.7,851.3 L685.7,853.5 L687.7,855.8 L689.7,858.1 L691.7,860.4 L693.6,862.7 L695.6,865.2 L697.4,867.6 L699.3,870.1 L701.1,872.6 L702.9,875.2 L704.6,877.9 L706.2,880.6 L707.7,883.4 L709.2,886.2 L710.6,889.1 L711.9,892.1 L713.1,895.0 L714.2,898.1 L715.2,901.1 L716.1,904.2 L716.9,907.4 L717.6,910.6 L718.2,913.8 L718.7,917.0 L719.1,920.2 L719.4,923.5 L719.6,926.8 L719.7,930.1 L719.8,933.4 L719.9,936.7 L719.8,940.0 L719.7,943.3 L719.4,946.7 L719.1,950.0 L718.7,953.3 L718.2,956.7 L717.6,960.0 L716.9,963.3 L716.1,966.6 L715.2,969.8 L714.2,973.1 L713.0,976.3 L711.8,979.4 L710.4,982.6 L708.9,985.6 L707.4,988.7 L705.7,991.6 L703.9,994.6 L702.0,997.4 L699.9,1000.1 L697.8,1002.7 L695.5,1005.3 L693.2,1007.8 L690.9,1010.3 L688.4,1012.6 L685.9,1014.9 L683.3,1017.1 L680.6,1019.1 L677.9,1021.1 L675.1,1023.0 L672.2,1024.8 L669.3,1026.5 L666.4,1028.1 L663.5,1029.7 L660.4,1031.1 L657.4,1032.4 L654.3,1033.7 L651.2,1034.9 L648.1,1035.9 L645.0,1036.9 L641.9,1037.8 L638.7,1038.6 L635.5,1039.3 L632.3,1040.0 L629.2,1040.6 L626.0,1041.1 L622.9,1041.6 L619.7,1042.0 L616.5,1042.4 L613.4,1042.8 L610.2,1043.0 L607.1,1043.3 L603.9,1043.5 L600.8,1043.5 L597.6,1043.5 L594.5,1043.4 L591.4,1043.2 L588.2,1042.9 L585.1,1042.6 L582.0,1042.1 L578.9,1041.6 L575.9,1041.1 L572.8,1040.4 L569.8,1039.7 L566.8,1038.9 L563.8,1038.0 L560.9,1037.0 L557.9,1036.0 L555.0,1035.0 L552.1,1033.9 L549.3,1032.7 L546.4,1031.4 L543.7,1030.1 L540.9,1028.7 L538.3,1027.1 L535.7,1025.4 L533.1,1023.6 L530.7,1021.8 L528.2,1019.9 L525.9,1017.9 L523.7,1015.8 L521.5,1013.6 L519.5,1011.4 L517.5,1009.0 L515.5,1006.7 L513.6,1004.4 L511.8,1002.0 L509.9,999.7 L508.1,997.3 L506.3,995.0 L504.5,992.6 L502.7,990.2 L501.0,987.8 L499.2,985.4 L497.5,983.0 L495.7,980.5 L494.0,978.1 L492.3,975.6 L490.7,973.0 L489.2,970.4 L487.6,967.8 L486.1,965.1 L484.6,962.4 L483.1,959.7 L481.8,956.9 L480.5,954.1 L479.3,951.2 L478.3,948.2 L477.4,945.2 L476.6,942.2 L476.0,939.1 L475.4,936.0 L474.9,932.9 L474.7,929.8 L474.5,926.6Z" fill="#ceff00"/>
<path d="M481.5,923.5 L481.6,920.5 L481.7,917.6 L481.9,914.6 L482.1,911.7 L482.4,908.7 L482.8,905.8 L483.2,902.9 L483.7,900.0 L484.3,897.0 L485.0,894.2 L485.7,891.3 L486.5,888.4 L487.5,885.6 L488.5,882.8 L489.6,880.0 L490.8,877.3 L492.1,874.7 L493.4,872.0 L494.9,869.4 L496.4,866.8 L497.9,864.3 L499.5,861.8 L501.2,859.4 L503.0,857.0 L504.8,854.7 L506.7,852.4 L508.7,850.2 L510.7,848.0 L512.8,845.9 L514.9,843.9 L517.1,841.9 L519.3,840.0 L521.5,838.1 L523.8,836.2 L526.2,834.5 L528.6,832.7 L531.0,831.1 L533.4,829.5 L535.9,827.9 L538.5,826.5 L541.0,825.0 L543.6,823.7 L546.3,822.4 L548.9,821.2 L551.6,820.0 L554.4,818.9 L557.1,817.9 L559.9,817.0 L562.7,816.1 L565.5,815.4 L568.4,814.7 L571.3,814.2 L574.1,813.7 L577.0,813.2 L579.9,812.9 L582.8,812.6 L585.8,812.5 L588.7,812.4 L591.6,812.4 L594.5,812.4 L597.4,812.5 L600.3,812.7 L603.2,812.9 L606.1,813.1 L609.0,813.5 L611.8,814.0 L614.7,814.6 L617.5,815.3 L620.3,816.1 L623.1,816.9 L625.8,817.8 L628.5,818.8 L631.2,819.9 L633.8,821.0 L636.5,822.2 L639.0,823.5 L641.5,824.9 L644.0,826.3 L646.4,827.8 L648.8,829.4 L651.2,831.0 L653.5,832.6 L655.8,834.3 L658.1,835.9 L660.4,837.7 L662.6,839.5 L664.7,841.3 L666.8,843.2 L668.9,845.1 L670.9,847.1 L672.9,849.1 L674.9,851.1 L676.9,853.1 L678.8,855.2 L680.7,857.3 L682.6,859.5 L684.5,861.6 L686.4,863.8 L688.2,866.1 L690.0,868.4 L691.8,870.7 L693.6,873.0 L695.3,875.4 L696.9,877.9 L698.6,880.4 L700.1,883.0 L701.6,885.6 L702.9,888.3 L704.2,891.0 L705.5,893.8 L706.6,896.6 L707.7,899.4 L708.7,902.3 L709.6,905.3 L710.4,908.2 L711.1,911.2 L711.7,914.3 L712.1,917.3 L712.5,920.4 L712.8,923.5 L713.1,926.6 L713.2,929.7 L713.3,932.9 L713.4,936.0 L713.3,939.1 L713.2,942.3 L713.0,945.5 L712.7,948.6 L712.4,951.8 L711.9,955.0 L711.4,958.1 L710.7,961.3 L710.0,964.4 L709.1,967.5 L708.1,970.6 L707.0,973.6 L705.9,976.6 L704.6,979.6 L703.2,982.5 L701.7,985.4 L700.1,988.2 L698.4,991.0 L696.6,993.7 L694.6,996.2 L692.5,998.7 L690.4,1001.2 L688.2,1003.5 L686.0,1005.9 L683.7,1008.1 L681.3,1010.3 L678.8,1012.3 L676.2,1014.2 L673.6,1016.1 L670.9,1017.8 L668.2,1019.5 L665.4,1021.1 L662.6,1022.7 L659.8,1024.1 L657.0,1025.4 L654.1,1026.7 L651.2,1027.9 L648.2,1029.0 L645.3,1030.0 L642.3,1030.9 L639.3,1031.7 L636.3,1032.5 L633.3,1033.2 L630.3,1033.8 L627.3,1034.3 L624.3,1034.9 L621.4,1035.4 L618.4,1035.9 L615.4,1036.3 L612.4,1036.6 L609.4,1037.0 L606.5,1037.2 L603.5,1037.4 L600.5,1037.5 L597.5,1037.5 L594.5,1037.3 L591.5,1037.1 L588.6,1036.8 L585.6,1036.5 L582.7,1036.0 L579.7,1035.5 L576.8,1035.0 L574.0,1034.3 L571.1,1033.6 L568.3,1032.8 L565.5,1031.9 L562.7,1030.9 L559.9,1029.9 L557.2,1028.8 L554.5,1027.7 L551.9,1026.5 L549.2,1025.2 L546.6,1023.9 L544.1,1022.5 L541.6,1021.0 L539.1,1019.4 L536.8,1017.7 L534.4,1016.0 L532.1,1014.2 L529.9,1012.4 L527.8,1010.4 L525.8,1008.4 L523.8,1006.3 L521.9,1004.2 L520.0,1002.0 L518.2,999.8 L516.4,997.6 L514.7,995.4 L512.9,993.2 L511.2,991.0 L509.5,988.7 L507.8,986.5 L506.1,984.2 L504.5,982.0 L502.8,979.7 L501.2,977.4 L499.6,975.0 L498.1,972.6 L496.6,970.2 L495.2,967.7 L493.8,965.2 L492.4,962.7 L491.0,960.2 L489.7,957.6 L488.4,954.9 L487.3,952.2 L486.2,949.5 L485.2,946.7 L484.4,943.9 L483.6,941.1 L483.0,938.2 L482.4,935.3 L482.0,932.4 L481.7,929.4 L481.6,926.5Z" fill="#e4ff00"/>
<path d="M488.6,923.5 L488.6,920.7 L488.6,918.0 L488.8,915.2 L489.0,912.4 L489.3,909.6 L489.6,906.9 L490.0,904.1 L490.4,901.4 L491.0,898.6 L491.6,895.9 L492.2,893.2 L493.0,890.5 L493.8,887.8 L494.7,885.2 L495.8,882.6 L496.9,880.1 L498.1,877.5 L499.4,875.1 L500.8,872.6 L502.2,870.2 L503.7,867.8 L505.2,865.5 L506.8,863.2 L508.4,861.0 L510.1,858.8 L511.9,856.6 L513.7,854.5 L515.6,852.5 L517.5,850.5 L519.5,848.5 L521.6,846.6 L523.6,844.8 L525.7,843.0 L527.9,841.2 L530.1,839.6 L532.3,837.9 L534.6,836.3 L536.9,834.8 L539.3,833.4 L541.6,831.9 L544.1,830.6 L546.5,829.3 L549.0,828.1 L551.5,826.9 L554.0,825.8 L556.6,824.7 L559.2,823.8 L561.8,822.9 L564.5,822.1 L567.1,821.4 L569.8,820.8 L572.6,820.2 L575.3,819.8 L578.0,819.4 L580.7,819.1 L583.5,818.8 L586.2,818.7 L589.0,818.6 L591.8,818.6 L594.5,818.6 L597.2,818.7 L600.0,818.9 L602.7,819.1 L605.5,819.3 L608.2,819.7 L610.9,820.1 L613.5,820.8 L616.2,821.5 L618.8,822.3 L621.4,823.1 L624.0,824.0 L626.5,825.0 L629.0,826.1 L631.5,827.2 L633.9,828.3 L636.3,829.6 L638.7,830.9 L641.0,832.3 L643.3,833.7 L645.5,835.2 L647.7,836.7 L649.9,838.2 L652.1,839.7 L654.2,841.3 L656.4,842.9 L658.5,844.5 L660.5,846.2 L662.5,847.9 L664.5,849.7 L666.4,851.6 L668.3,853.4 L670.2,855.3 L672.1,857.2 L674.0,859.1 L675.8,861.1 L677.6,863.1 L679.4,865.2 L681.1,867.3 L682.8,869.4 L684.5,871.6 L686.1,873.7 L687.8,876.0 L689.4,878.2 L691.0,880.5 L692.5,882.9 L694.0,885.3 L695.4,887.8 L696.7,890.3 L697.9,892.9 L699.1,895.5 L700.2,898.1 L701.3,900.8 L702.3,903.5 L703.1,906.3 L703.9,909.1 L704.6,911.9 L705.1,914.8 L705.6,917.7 L706.0,920.6 L706.3,923.5 L706.5,926.4 L706.7,929.4 L706.8,932.3 L706.9,935.3 L706.8,938.3 L706.8,941.3 L706.6,944.3 L706.3,947.3 L706.0,950.3 L705.6,953.3 L705.1,956.3 L704.5,959.2 L703.8,962.2 L703.0,965.2 L702.1,968.1 L701.0,970.9 L699.9,973.8 L698.7,976.6 L697.4,979.4 L696.1,982.1 L694.6,984.8 L693.0,987.4 L691.2,990.0 L689.3,992.4 L687.3,994.7 L685.3,997.0 L683.2,999.3 L681.1,1001.5 L678.9,1003.6 L676.6,1005.6 L674.2,1007.5 L671.8,1009.3 L669.3,1011.1 L666.7,1012.7 L664.1,1014.3 L661.5,1015.8 L658.9,1017.2 L656.2,1018.5 L653.5,1019.8 L650.8,1020.9 L648.0,1022.0 L645.2,1023.1 L642.4,1024.0 L639.6,1024.9 L636.8,1025.7 L634.0,1026.4 L631.1,1027.0 L628.3,1027.6 L625.5,1028.1 L622.7,1028.7 L619.9,1029.2 L617.1,1029.7 L614.3,1030.2 L611.5,1030.5 L608.6,1030.9 L605.8,1031.1 L603.0,1031.3 L600.2,1031.4 L597.3,1031.4 L594.5,1031.3 L591.7,1031.0 L588.9,1030.8 L586.1,1030.4 L583.3,1029.9 L580.6,1029.4 L577.8,1028.9 L575.1,1028.2 L572.4,1027.5 L569.7,1026.6 L567.1,1025.7 L564.5,1024.7 L561.9,1023.7 L559.4,1022.6 L556.9,1021.4 L554.4,1020.2 L552.0,1019.0 L549.6,1017.7 L547.2,1016.3 L544.9,1014.9 L542.6,1013.4 L540.4,1011.8 L538.2,1010.2 L536.0,1008.6 L534.0,1006.8 L532.0,1005.0 L530.0,1003.1 L528.1,1001.2 L526.3,999.3 L524.5,997.3 L522.7,995.3 L521.0,993.2 L519.4,991.1 L517.8,989.0 L516.1,987.0 L514.5,984.9 L512.9,982.8 L511.3,980.7 L509.7,978.5 L508.2,976.4 L506.7,974.2 L505.2,972.0 L503.8,969.7 L502.5,967.4 L501.2,965.0 L499.9,962.7 L498.7,960.3 L497.4,957.9 L496.2,955.4 L495.1,952.9 L494.0,950.4 L493.0,947.9 L492.2,945.3 L491.3,942.6 L490.6,940.0 L490.0,937.3 L489.4,934.5 L489.0,931.8 L488.8,929.0 L488.6,926.3Z" fill="#faff00"/>
<path d="M495.6,923.5 L495.6,920.9 L495.6,918.3 L495.7,915.7 L495.9,913.1 L496.1,910.6 L496.4,908.0 L496.8,905.4 L497.2,902.8 L497.6,900.2 L498.1,897.7 L498.7,895.1 L499.4,892.6 L500.2,890.1 L501.0,887.6 L502.0,885.2 L503.1,882.8 L504.2,880.4 L505.4,878.1 L506.7,875.8 L508.0,873.6 L509.4,871.3 L510.8,869.2 L512.3,867.0 L513.8,864.9 L515.4,862.8 L517.1,860.8 L518.8,858.8 L520.5,856.9 L522.3,855.0 L524.2,853.2 L526.1,851.4 L528.0,849.6 L529.9,847.9 L532.0,846.3 L534.0,844.7 L536.1,843.1 L538.2,841.6 L540.4,840.2 L542.6,838.8 L544.8,837.4 L547.1,836.2 L549.4,834.9 L551.7,833.7 L554.0,832.6 L556.4,831.6 L558.8,830.6 L561.3,829.6 L563.7,828.8 L566.2,828.1 L568.8,827.4 L571.3,826.8 L573.8,826.3 L576.4,825.9 L579.0,825.5 L581.6,825.2 L584.1,825.0 L586.7,824.8 L589.3,824.8 L591.9,824.8 L594.5,824.8 L597.1,824.9 L599.7,825.0 L602.2,825.2 L604.8,825.5 L607.4,825.8 L609.9,826.3 L612.4,826.9 L614.9,827.7 L617.3,828.5 L619.7,829.3 L622.1,830.2 L624.5,831.2 L626.8,832.3 L629.1,833.3 L631.4,834.5 L633.6,835.7 L635.8,836.9 L638.0,838.2 L640.1,839.6 L642.1,841.0 L644.2,842.4 L646.3,843.8 L648.3,845.2 L650.4,846.6 L652.4,848.0 L654.4,849.5 L656.3,851.1 L658.2,852.7 L660.1,854.4 L661.9,856.1 L663.8,857.8 L665.6,859.5 L667.4,861.3 L669.1,863.1 L670.9,864.9 L672.6,866.8 L674.2,868.7 L675.8,870.7 L677.4,872.7 L678.9,874.8 L680.5,876.8 L682.0,878.9 L683.6,881.0 L685.1,883.2 L686.5,885.4 L687.9,887.7 L689.2,890.0 L690.4,892.3 L691.6,894.7 L692.8,897.2 L693.8,899.7 L694.8,902.2 L695.8,904.7 L696.7,907.3 L697.4,909.9 L698.1,912.6 L698.6,915.3 L699.1,918.0 L699.5,920.8 L699.8,923.5 L700.0,926.3 L700.2,929.0 L700.3,931.8 L700.4,934.6 L700.4,937.4 L700.3,940.3 L700.2,943.1 L699.9,945.9 L699.7,948.7 L699.3,951.6 L698.8,954.4 L698.3,957.2 L697.7,960.0 L696.9,962.8 L696.0,965.6 L695.0,968.3 L694.0,971.0 L692.9,973.6 L691.7,976.3 L690.4,978.9 L689.0,981.4 L687.5,983.9 L685.8,986.2 L684.0,988.5 L682.1,990.7 L680.2,992.9 L678.2,995.0 L676.2,997.1 L674.1,999.1 L672.0,1001.0 L669.7,1002.8 L667.4,1004.4 L665.0,1006.0 L662.6,1007.6 L660.1,1009.0 L657.6,1010.4 L655.1,1011.7 L652.6,1012.9 L650.0,1014.1 L647.4,1015.2 L644.8,1016.2 L642.2,1017.2 L639.6,1018.0 L636.9,1018.8 L634.3,1019.6 L631.6,1020.2 L629.0,1020.8 L626.3,1021.4 L623.6,1021.9 L621.0,1022.5 L618.4,1023.0 L615.8,1023.6 L613.1,1024.0 L610.5,1024.4 L607.8,1024.8 L605.2,1025.0 L602.5,1025.2 L599.8,1025.3 L597.2,1025.3 L594.5,1025.2 L591.8,1025.0 L589.2,1024.7 L586.6,1024.3 L584.0,1023.9 L581.4,1023.3 L578.8,1022.8 L576.2,1022.1 L573.7,1021.3 L571.2,1020.5 L568.8,1019.6 L566.3,1018.6 L564.0,1017.5 L561.6,1016.4 L559.3,1015.2 L557.0,1014.0 L554.8,1012.8 L552.5,1011.5 L550.3,1010.2 L548.2,1008.8 L546.1,1007.4 L544.0,1005.9 L541.9,1004.4 L540.0,1002.9 L538.0,1001.3 L536.1,999.6 L534.2,997.9 L532.4,996.2 L530.7,994.4 L529.0,992.6 L527.3,990.7 L525.7,988.8 L524.1,986.9 L522.6,984.9 L521.1,983.0 L519.5,981.0 L518.0,979.1 L516.5,977.1 L515.0,975.1 L513.6,973.1 L512.2,971.0 L510.9,968.9 L509.6,966.8 L508.4,964.6 L507.2,962.4 L506.1,960.1 L504.9,957.9 L503.8,955.6 L502.8,953.3 L501.7,951.0 L500.8,948.6 L499.9,946.2 L499.1,943.8 L498.3,941.3 L497.6,938.8 L497.0,936.3 L496.5,933.8 L496.1,931.2 L495.8,928.7 L495.7,926.1Z" fill="#ffef00"/>
<path d="M502.7,923.5 L502.7,921.1 L502.7,918.7 L502.9,916.3 L503.0,913.9 L503.3,911.5 L503.5,909.1 L503.8,906.7 L504.2,904.3 L504.6,901.9 L505.1,899.5 L505.7,897.2 L506.3,894.8 L507.0,892.5 L507.7,890.2 L508.6,887.9 L509.6,885.7 L510.6,883.5 L511.7,881.3 L512.9,879.2 L514.1,877.1 L515.3,875.0 L516.6,872.9 L518.0,870.9 L519.4,868.9 L520.9,867.0 L522.4,865.1 L523.9,863.2 L525.5,861.4 L527.2,859.6 L528.9,857.9 L530.6,856.2 L532.4,854.5 L534.2,852.9 L536.1,851.4 L538.0,849.9 L540.0,848.4 L541.9,847.0 L544.0,845.7 L546.0,844.4 L548.1,843.2 L550.2,842.0 L552.4,840.8 L554.6,839.8 L556.8,838.7 L559.0,837.8 L561.2,836.8 L563.5,836.0 L565.8,835.2 L568.2,834.6 L570.5,834.0 L572.9,833.4 L575.3,833.0 L577.7,832.6 L580.0,832.3 L582.5,832.0 L584.9,831.8 L587.3,831.7 L589.7,831.6 L592.1,831.6 L594.5,831.7 L596.9,831.8 L599.3,832.0 L601.7,832.2 L604.1,832.4 L606.4,832.8 L608.8,833.2 L611.1,833.8 L613.4,834.5 L615.7,835.2 L617.9,836.0 L620.2,836.9 L622.3,837.8 L624.5,838.8 L626.6,839.8 L628.7,840.8 L630.8,841.9 L632.9,843.1 L634.9,844.3 L636.8,845.6 L638.7,846.9 L640.7,848.2 L642.6,849.5 L644.5,850.8 L646.4,852.1 L648.2,853.5 L650.1,854.9 L651.9,856.3 L653.7,857.8 L655.4,859.3 L657.1,860.9 L658.8,862.4 L660.5,864.0 L662.2,865.7 L663.9,867.3 L665.5,869.0 L667.1,870.8 L668.6,872.6 L670.1,874.4 L671.6,876.3 L673.0,878.2 L674.5,880.1 L675.9,882.0 L677.4,884.0 L678.8,886.0 L680.1,888.0 L681.4,890.2 L682.6,892.3 L683.8,894.5 L684.9,896.7 L686.0,899.0 L687.0,901.3 L688.0,903.6 L688.8,906.0 L689.7,908.4 L690.4,910.9 L691.1,913.4 L691.6,915.9 L692.0,918.4 L692.4,920.9 L692.8,923.5 L693.0,926.1 L693.2,928.7 L693.3,931.3 L693.3,933.9 L693.3,936.5 L693.3,939.1 L693.2,941.8 L693.0,944.4 L692.7,947.1 L692.4,949.7 L692.0,952.4 L691.6,955.0 L691.0,957.7 L690.3,960.3 L689.5,962.9 L688.6,965.4 L687.6,967.9 L686.6,970.4 L685.5,972.9 L684.3,975.3 L682.9,977.7 L681.5,980.0 L679.9,982.2 L678.2,984.3 L676.5,986.4 L674.7,988.5 L672.9,990.4 L671.0,992.3 L669.0,994.2 L667.0,996.0 L664.8,997.6 L662.7,999.2 L660.4,1000.7 L658.1,1002.1 L655.8,1003.5 L653.5,1004.7 L651.2,1006.0 L648.8,1007.1 L646.4,1008.2 L644.0,1009.2 L641.6,1010.2 L639.1,1011.1 L636.7,1011.9 L634.2,1012.6 L631.7,1013.3 L629.2,1013.9 L626.7,1014.5 L624.2,1015.0 L621.7,1015.5 L619.3,1016.0 L616.8,1016.5 L614.4,1016.9 L611.9,1017.4 L609.4,1017.7 L606.9,1018.0 L604.5,1018.2 L602.0,1018.4 L599.5,1018.5 L597.0,1018.5 L594.5,1018.4 L592.0,1018.1 L589.6,1017.9 L587.1,1017.5 L584.7,1017.1 L582.2,1016.6 L579.8,1016.1 L577.5,1015.4 L575.1,1014.7 L572.8,1013.9 L570.5,1013.0 L568.3,1012.1 L566.0,1011.1 L563.8,1010.1 L561.7,1009.0 L559.6,1007.8 L557.5,1006.7 L555.4,1005.5 L553.4,1004.2 L551.3,1003.0 L549.4,1001.7 L547.4,1000.3 L545.5,998.9 L543.7,997.4 L541.9,995.9 L540.1,994.4 L538.4,992.8 L536.7,991.2 L535.1,989.5 L533.5,987.8 L531.9,986.1 L530.4,984.3 L529.0,982.5 L527.6,980.7 L526.1,978.9 L524.7,977.1 L523.3,975.2 L521.9,973.4 L520.5,971.5 L519.2,969.6 L518.0,967.7 L516.8,965.7 L515.6,963.7 L514.5,961.7 L513.4,959.6 L512.3,957.5 L511.3,955.4 L510.3,953.3 L509.3,951.2 L508.3,949.0 L507.5,946.8 L506.7,944.6 L505.9,942.3 L505.2,940.1 L504.5,937.7 L504.0,935.4 L503.5,933.1 L503.1,930.7 L502.9,928.3 L502.8,925.9Z" fill="#ffd900"/>
<path d="M509.8,923.5 L509.8,921.3 L509.9,919.1 L510.0,916.8 L510.2,914.6 L510.4,912.4 L510.6,910.2 L510.9,908.0 L511.2,905.8 L511.6,903.6 L512.1,901.4 L512.6,899.2 L513.1,897.1 L513.7,894.9 L514.5,892.8 L515.3,890.7 L516.1,888.6 L517.1,886.6 L518.1,884.6 L519.1,882.6 L520.2,880.6 L521.3,878.6 L522.5,876.7 L523.7,874.8 L525.0,873.0 L526.3,871.2 L527.7,869.4 L529.1,867.6 L530.5,865.9 L532.0,864.2 L533.6,862.6 L535.2,861.0 L536.8,859.5 L538.5,858.0 L540.2,856.5 L542.0,855.1 L543.8,853.8 L545.7,852.5 L547.6,851.2 L549.5,850.0 L551.4,848.9 L553.4,847.8 L555.4,846.8 L557.4,845.8 L559.5,844.8 L561.5,843.9 L563.6,843.1 L565.8,842.4 L567.9,841.7 L570.1,841.1 L572.3,840.5 L574.5,840.1 L576.7,839.7 L578.9,839.3 L581.1,839.0 L583.3,838.8 L585.6,838.6 L587.8,838.5 L590.0,838.5 L592.3,838.5 L594.5,838.6 L596.7,838.7 L598.9,838.9 L601.1,839.1 L603.3,839.4 L605.5,839.7 L607.7,840.1 L609.8,840.7 L612.0,841.3 L614.1,842.0 L616.1,842.8 L618.2,843.5 L620.2,844.4 L622.2,845.3 L624.2,846.2 L626.1,847.2 L628.0,848.2 L629.9,849.3 L631.8,850.4 L633.6,851.5 L635.3,852.8 L637.1,854.0 L638.9,855.2 L640.6,856.4 L642.4,857.6 L644.1,858.9 L645.8,860.2 L647.5,861.5 L649.1,862.8 L650.8,864.2 L652.4,865.6 L653.9,867.1 L655.5,868.6 L657.1,870.1 L658.6,871.6 L660.1,873.2 L661.6,874.8 L663.0,876.4 L664.4,878.1 L665.8,879.8 L667.1,881.6 L668.5,883.3 L669.8,885.1 L671.2,886.9 L672.5,888.8 L673.7,890.7 L674.9,892.6 L676.0,894.6 L677.1,896.6 L678.2,898.7 L679.2,900.8 L680.2,902.9 L681.1,905.1 L681.9,907.3 L682.7,909.5 L683.4,911.8 L684.0,914.1 L684.5,916.4 L685.0,918.8 L685.4,921.1 L685.7,923.5 L686.0,925.9 L686.1,928.3 L686.2,930.7 L686.3,933.1 L686.3,935.6 L686.3,938.0 L686.2,940.5 L686.0,942.9 L685.8,945.4 L685.5,947.9 L685.2,950.4 L684.8,952.8 L684.3,955.3 L683.7,957.7 L683.0,960.2 L682.2,962.5 L681.3,964.9 L680.3,967.2 L679.2,969.5 L678.1,971.8 L676.9,974.0 L675.5,976.1 L674.0,978.2 L672.5,980.2 L670.9,982.1 L669.2,984.0 L667.5,985.8 L665.7,987.6 L663.9,989.3 L662.0,991.0 L660.0,992.5 L657.9,994.0 L655.9,995.3 L653.7,996.7 L651.6,997.9 L649.4,999.1 L647.2,1000.2 L645.0,1001.3 L642.8,1002.3 L640.5,1003.2 L638.3,1004.1 L636.0,1004.9 L633.7,1005.7 L631.4,1006.4 L629.1,1007.0 L626.8,1007.6 L624.5,1008.1 L622.1,1008.6 L619.8,1009.0 L617.5,1009.4 L615.2,1009.9 L613.0,1010.3 L610.7,1010.7 L608.4,1011.0 L606.0,1011.2 L603.7,1011.4 L601.4,1011.6 L599.1,1011.6 L596.8,1011.6 L594.5,1011.5 L592.2,1011.3 L589.9,1011.1 L587.6,1010.7 L585.4,1010.3 L583.1,1009.9 L580.9,1009.3 L578.7,1008.7 L576.5,1008.1 L574.4,1007.3 L572.3,1006.5 L570.2,1005.6 L568.1,1004.7 L566.1,1003.7 L564.1,1002.7 L562.1,1001.7 L560.2,1000.6 L558.3,999.5 L556.4,998.3 L554.5,997.1 L552.7,995.9 L550.9,994.6 L549.2,993.3 L547.4,992.0 L545.8,990.6 L544.1,989.1 L542.5,987.7 L541.0,986.2 L539.5,984.6 L538.0,983.1 L536.6,981.4 L535.2,979.8 L533.8,978.1 L532.5,976.5 L531.2,974.8 L529.9,973.1 L528.6,971.4 L527.3,969.7 L526.1,967.9 L524.9,966.2 L523.7,964.4 L522.6,962.5 L521.6,960.7 L520.5,958.8 L519.6,956.9 L518.6,954.9 L517.6,953.0 L516.7,951.1 L515.8,949.1 L514.9,947.1 L514.1,945.0 L513.4,943.0 L512.7,940.9 L512.1,938.8 L511.5,936.6 L511.0,934.5 L510.5,932.3 L510.2,930.1 L510.0,927.9 L509.9,925.7Z" fill="#ffc300"/>
<path d="M516.9,923.5 L516.9,921.5 L517.0,919.4 L517.1,917.4 L517.3,915.4 L517.5,913.4 L517.7,911.3 L518.0,909.3 L518.3,907.3 L518.6,905.3 L519.0,903.3 L519.5,901.3 L520.0,899.3 L520.5,897.3 L521.2,895.4 L521.9,893.4 L522.7,891.5 L523.5,889.6 L524.4,887.8 L525.3,885.9 L526.3,884.1 L527.3,882.3 L528.3,880.5 L529.4,878.8 L530.5,877.0 L531.7,875.3 L532.9,873.6 L534.2,872.0 L535.5,870.4 L536.9,868.8 L538.3,867.3 L539.7,865.8 L541.3,864.4 L542.8,863.0 L544.4,861.6 L546.0,860.3 L547.7,859.1 L549.4,857.9 L551.2,856.8 L552.9,855.7 L554.7,854.6 L556.6,853.6 L558.4,852.7 L560.3,851.8 L562.2,850.9 L564.1,850.1 L566.1,849.4 L568.0,848.7 L570.0,848.1 L572.0,847.6 L574.0,847.1 L576.1,846.7 L578.1,846.3 L580.1,846.0 L582.2,845.8 L584.2,845.6 L586.3,845.5 L588.4,845.4 L590.4,845.4 L592.5,845.4 L594.5,845.5 L596.5,845.7 L598.6,845.8 L600.6,846.0 L602.6,846.3 L604.6,846.6 L606.6,847.1 L608.6,847.6 L610.5,848.2 L612.4,848.8 L614.3,849.5 L616.2,850.2 L618.1,851.0 L619.9,851.8 L621.7,852.6 L623.5,853.5 L625.2,854.5 L627.0,855.4 L628.7,856.5 L630.3,857.5 L631.9,858.6 L633.6,859.8 L635.2,860.9 L636.8,862.0 L638.4,863.1 L639.9,864.3 L641.5,865.5 L643.0,866.7 L644.6,867.9 L646.1,869.1 L647.6,870.4 L649.0,871.8 L650.5,873.1 L651.9,874.5 L653.3,875.9 L654.7,877.3 L656.1,878.8 L657.4,880.3 L658.7,881.8 L659.9,883.4 L661.2,885.0 L662.5,886.6 L663.7,888.2 L665.0,889.9 L666.2,891.6 L667.3,893.3 L668.4,895.1 L669.5,896.9 L670.5,898.8 L671.5,900.7 L672.4,902.6 L673.3,904.6 L674.2,906.6 L675.0,908.6 L675.7,910.6 L676.4,912.7 L677.0,914.8 L677.5,917.0 L678.0,919.1 L678.4,921.3 L678.7,923.5 L679.0,925.7 L679.1,927.9 L679.2,930.2 L679.3,932.4 L679.3,934.7 L679.3,936.9 L679.2,939.2 L679.0,941.5 L678.8,943.7 L678.6,946.0 L678.4,948.3 L678.1,950.6 L677.6,952.9 L677.1,955.2 L676.5,957.5 L675.7,959.7 L674.9,961.9 L674.0,964.0 L673.0,966.1 L671.9,968.2 L670.8,970.2 L669.5,972.2 L668.2,974.1 L666.7,976.0 L665.2,977.8 L663.7,979.5 L662.1,981.2 L660.4,982.9 L658.7,984.5 L657.0,986.0 L655.1,987.4 L653.2,988.7 L651.3,990.0 L649.3,991.2 L647.3,992.4 L645.3,993.5 L643.3,994.5 L641.2,995.5 L639.2,996.4 L637.1,997.3 L635.0,998.1 L632.9,998.8 L630.8,999.5 L628.6,1000.2 L626.5,1000.8 L624.4,1001.3 L622.2,1001.7 L620.1,1002.2 L617.9,1002.6 L615.8,1002.9 L613.7,1003.3 L611.5,1003.7 L609.4,1004.0 L607.3,1004.2 L605.2,1004.4 L603.0,1004.6 L600.9,1004.7 L598.8,1004.8 L596.6,1004.8 L594.5,1004.7 L592.4,1004.5 L590.3,1004.3 L588.2,1003.9 L586.1,1003.6 L584.0,1003.1 L582.0,1002.6 L579.9,1002.1 L577.9,1001.4 L576.0,1000.7 L574.0,1000.0 L572.1,999.2 L570.2,998.3 L568.3,997.4 L566.5,996.5 L564.7,995.5 L562.9,994.5 L561.1,993.5 L559.4,992.4 L557.7,991.3 L556.0,990.2 L554.4,989.0 L552.8,987.8 L551.2,986.5 L549.7,985.2 L548.2,983.9 L546.7,982.5 L545.3,981.2 L543.9,979.7 L542.5,978.3 L541.2,976.8 L539.9,975.3 L538.7,973.8 L537.4,972.2 L536.2,970.7 L535.0,969.1 L533.9,967.6 L532.7,966.0 L531.6,964.3 L530.5,962.7 L529.5,961.0 L528.5,959.3 L527.6,957.6 L526.6,955.9 L525.7,954.1 L524.8,952.4 L524.0,950.6 L523.1,948.8 L522.3,947.0 L521.5,945.1 L520.8,943.2 L520.1,941.4 L519.5,939.4 L518.9,937.5 L518.4,935.6 L517.9,933.6 L517.5,931.6 L517.2,929.6 L517.1,927.6 L517.0,925.5Z" fill="#ffae00"/>
<path d="M524.0,923.5 L524.1,921.7 L524.1,919.8 L524.2,918.0 L524.4,916.1 L524.6,914.3 L524.8,912.5 L525.0,910.6 L525.3,908.8 L525.6,907.0 L526.0,905.1 L526.4,903.3 L526.8,901.5 L527.3,899.7 L527.9,897.9 L528.5,896.2 L529.2,894.4 L529.9,892.7 L530.7,891.0 L531.5,889.3 L532.3,887.6 L533.2,885.9 L534.1,884.3 L535.1,882.7 L536.1,881.1 L537.1,879.5 L538.2,877.9 L539.3,876.4 L540.5,874.9 L541.7,873.4 L543.0,872.0 L544.3,870.6 L545.7,869.3 L547.1,868.0 L548.5,866.7 L550.0,865.6 L551.6,864.4 L553.2,863.3 L554.8,862.3 L556.4,861.3 L558.0,860.4 L559.7,859.4 L561.4,858.6 L563.2,857.8 L564.9,857.0 L566.7,856.3 L568.5,855.7 L570.3,855.1 L572.1,854.5 L573.9,854.1 L575.8,853.7 L577.6,853.3 L579.5,853.0 L581.4,852.7 L583.3,852.5 L585.1,852.4 L587.0,852.3 L588.9,852.2 L590.8,852.3 L592.6,852.3 L594.5,852.4 L596.4,852.6 L598.2,852.8 L600.0,853.0 L601.9,853.3 L603.7,853.6 L605.5,854.0 L607.3,854.5 L609.1,855.0 L610.8,855.6 L612.5,856.2 L614.2,856.9 L615.9,857.6 L617.6,858.3 L619.2,859.1 L620.9,859.9 L622.4,860.7 L624.0,861.6 L625.6,862.6 L627.1,863.5 L628.5,864.5 L630.0,865.6 L631.5,866.6 L632.9,867.6 L634.4,868.6 L635.8,869.7 L637.2,870.8 L638.6,871.8 L640.0,872.9 L641.4,874.1 L642.8,875.2 L644.1,876.4 L645.4,877.6 L646.8,878.9 L648.1,880.1 L649.3,881.4 L650.6,882.8 L651.8,884.1 L653.0,885.5 L654.1,887.0 L655.3,888.4 L656.5,889.9 L657.6,891.3 L658.8,892.9 L659.9,894.4 L660.9,896.0 L661.9,897.6 L662.9,899.3 L663.9,901.0 L664.8,902.7 L665.6,904.4 L666.5,906.2 L667.3,908.0 L668.0,909.9 L668.7,911.7 L669.4,913.6 L669.9,915.6 L670.5,917.5 L670.9,919.5 L671.3,921.5 L671.7,923.5 L671.9,925.5 L672.1,927.6 L672.2,929.6 L672.2,931.7 L672.3,933.7 L672.2,935.8 L672.2,937.9 L672.0,940.0 L671.9,942.1 L671.8,944.2 L671.6,946.3 L671.3,948.5 L671.0,950.6 L670.5,952.7 L669.9,954.8 L669.3,956.8 L668.5,958.8 L667.7,960.8 L666.8,962.8 L665.8,964.7 L664.7,966.5 L663.5,968.3 L662.3,970.1 L661.0,971.8 L659.6,973.5 L658.2,975.1 L656.7,976.6 L655.2,978.1 L653.6,979.6 L652.0,981.0 L650.3,982.3 L648.5,983.5 L646.7,984.6 L644.9,985.7 L643.1,986.8 L641.2,987.8 L639.4,988.8 L637.5,989.7 L635.6,990.5 L633.6,991.3 L631.7,992.0 L629.8,992.7 L627.8,993.4 L625.9,994.0 L623.9,994.5 L621.9,995.0 L620.0,995.4 L618.0,995.8 L616.0,996.1 L614.0,996.4 L612.1,996.8 L610.1,997.0 L608.2,997.3 L606.2,997.5 L604.3,997.7 L602.3,997.8 L600.4,997.9 L598.4,997.9 L596.4,997.9 L594.5,997.8 L592.6,997.7 L590.6,997.5 L588.7,997.2 L586.8,996.8 L584.9,996.4 L583.0,995.9 L581.2,995.4 L579.3,994.8 L577.5,994.1 L575.8,993.4 L574.0,992.7 L572.3,991.9 L570.6,991.1 L568.9,990.2 L567.2,989.3 L565.6,988.4 L564.0,987.5 L562.4,986.5 L560.8,985.5 L559.3,984.4 L557.8,983.3 L556.4,982.2 L554.9,981.1 L553.5,979.9 L552.2,978.7 L550.8,977.4 L549.5,976.1 L548.3,974.8 L547.0,973.5 L545.8,972.2 L544.6,970.8 L543.5,969.4 L542.4,968.0 L541.3,966.6 L540.2,965.2 L539.2,963.7 L538.1,962.2 L537.2,960.7 L536.2,959.2 L535.3,957.7 L534.4,956.1 L533.5,954.6 L532.7,953.0 L531.9,951.4 L531.1,949.8 L530.3,948.1 L529.5,946.5 L528.8,944.8 L528.1,943.2 L527.5,941.5 L526.9,939.7 L526.3,938.0 L525.8,936.2 L525.3,934.5 L524.9,932.7 L524.6,930.9 L524.3,929.0 L524.1,927.2 L524.1,925.3Z" fill="#ff9800"/>
<path d="M531.1,923.5 L531.2,921.8 L531.2,920.2 L531.4,918.5 L531.5,916.9 L531.7,915.2 L531.9,913.6 L532.1,911.9 L532.3,910.3 L532.6,908.6 L532.9,907.0 L533.3,905.4 L533.7,903.7 L534.1,902.1 L534.6,900.5 L535.2,898.9 L535.8,897.3 L536.4,895.8 L537.0,894.2 L537.7,892.7 L538.4,891.1 L539.2,889.6 L540.0,888.1 L540.8,886.6 L541.7,885.1 L542.6,883.6 L543.5,882.2 L544.5,880.8 L545.5,879.4 L546.6,878.0 L547.7,876.7 L548.9,875.4 L550.1,874.2 L551.4,873.0 L552.7,871.9 L554.1,870.8 L555.5,869.8 L556.9,868.8 L558.4,867.8 L559.8,866.9 L561.4,866.1 L562.9,865.3 L564.4,864.5 L566.0,863.8 L567.6,863.1 L569.2,862.5 L570.9,862.0 L572.5,861.4 L574.2,861.0 L575.9,860.6 L577.5,860.2 L579.2,859.9 L580.9,859.7 L582.6,859.5 L584.3,859.3 L586.0,859.2 L587.7,859.1 L589.4,859.1 L591.1,859.1 L592.8,859.2 L594.5,859.3 L596.2,859.5 L597.8,859.7 L599.5,859.9 L601.2,860.2 L602.8,860.5 L604.4,860.9 L606.0,861.4 L607.6,861.8 L609.2,862.4 L610.7,862.9 L612.3,863.5 L613.8,864.1 L615.3,864.8 L616.8,865.5 L618.2,866.2 L619.7,867.0 L621.1,867.8 L622.5,868.6 L623.8,869.5 L625.1,870.4 L626.5,871.4 L627.8,872.3 L629.1,873.2 L630.3,874.2 L631.6,875.1 L632.9,876.1 L634.2,877.0 L635.5,878.0 L636.7,879.0 L638.0,880.0 L639.2,881.1 L640.4,882.2 L641.6,883.3 L642.8,884.4 L643.9,885.6 L645.0,886.8 L646.2,888.0 L647.2,889.2 L648.3,890.5 L649.4,891.8 L650.5,893.1 L651.5,894.5 L652.5,895.8 L653.5,897.2 L654.5,898.6 L655.5,900.1 L656.4,901.6 L657.2,903.1 L658.1,904.7 L658.9,906.3 L659.6,907.9 L660.4,909.5 L661.1,911.2 L661.7,912.9 L662.3,914.6 L662.9,916.3 L663.4,918.1 L663.9,919.9 L664.3,921.7 L664.7,923.5 L664.9,925.3 L665.1,927.2 L665.2,929.1 L665.2,930.9 L665.2,932.8 L665.2,934.7 L665.2,936.6 L665.1,938.5 L665.0,940.4 L664.9,942.4 L664.7,944.3 L664.6,946.3 L664.3,948.2 L663.9,950.1 L663.4,952.1 L662.9,953.9 L662.2,955.8 L661.4,957.6 L660.6,959.4 L659.6,961.1 L658.6,962.8 L657.5,964.4 L656.4,966.1 L655.2,967.6 L654.0,969.1 L652.7,970.6 L651.3,972.0 L649.9,973.4 L648.5,974.7 L647.0,976.0 L645.4,977.1 L643.8,978.2 L642.2,979.3 L640.5,980.3 L638.8,981.3 L637.1,982.2 L635.4,983.0 L633.7,983.8 L631.9,984.6 L630.2,985.3 L628.4,986.0 L626.7,986.6 L624.9,987.2 L623.1,987.7 L621.3,988.2 L619.5,988.6 L617.7,989.0 L615.9,989.4 L614.1,989.7 L612.3,989.9 L610.5,990.2 L608.7,990.4 L606.9,990.6 L605.2,990.8 L603.4,990.9 L601.6,991.0 L599.8,991.1 L598.0,991.1 L596.3,991.1 L594.5,991.0 L592.7,990.9 L591.0,990.7 L589.2,990.4 L587.5,990.1 L585.8,989.7 L584.1,989.2 L582.4,988.7 L580.8,988.1 L579.1,987.5 L577.5,986.9 L575.9,986.2 L574.4,985.5 L572.8,984.8 L571.3,984.0 L569.8,983.2 L568.3,982.3 L566.8,981.5 L565.4,980.6 L564.0,979.7 L562.6,978.7 L561.3,977.7 L560.0,976.7 L558.7,975.6 L557.4,974.5 L556.2,973.4 L555.0,972.3 L553.8,971.1 L552.7,970.0 L551.5,968.8 L550.4,967.6 L549.4,966.3 L548.3,965.1 L547.3,963.8 L546.3,962.5 L545.4,961.2 L544.5,959.9 L543.6,958.5 L542.7,957.1 L541.9,955.8 L541.1,954.4 L540.3,952.9 L539.5,951.5 L538.8,950.1 L538.0,948.6 L537.3,947.2 L536.6,945.7 L536.0,944.2 L535.3,942.7 L534.7,941.2 L534.1,939.7 L533.6,938.1 L533.1,936.5 L532.7,935.0 L532.3,933.4 L531.9,931.7 L531.6,930.1 L531.4,928.5 L531.2,926.8 L531.2,925.2Z" fill="#ff8200"/>
<path d="M538.3,923.5 L538.3,922.0 L538.4,920.6 L538.5,919.1 L538.7,917.6 L538.8,916.2 L539.0,914.7 L539.2,913.2 L539.4,911.8 L539.6,910.3 L539.9,908.9 L540.2,907.4 L540.5,906.0 L540.9,904.5 L541.3,903.1 L541.8,901.7 L542.3,900.3 L542.8,898.8 L543.3,897.4 L543.9,896.0 L544.5,894.6 L545.1,893.3 L545.8,891.9 L546.5,890.5 L547.2,889.1 L548.0,887.8 L548.8,886.5 L549.6,885.2 L550.5,883.9 L551.4,882.6 L552.4,881.4 L553.4,880.2 L554.5,879.1 L555.7,878.0 L556.8,877.0 L558.1,876.0 L559.3,875.1 L560.6,874.2 L562.0,873.4 L563.3,872.6 L564.7,871.8 L566.0,871.1 L567.5,870.4 L568.9,869.8 L570.3,869.2 L571.8,868.7 L573.3,868.2 L574.8,867.8 L576.3,867.4 L577.8,867.1 L579.3,866.8 L580.8,866.5 L582.3,866.3 L583.9,866.2 L585.4,866.0 L586.9,866.0 L588.5,865.9 L590.0,865.9 L591.5,866.0 L593.0,866.1 L594.5,866.2 L596.0,866.4 L597.5,866.6 L599.0,866.9 L600.4,867.2 L601.9,867.5 L603.3,867.8 L604.7,868.2 L606.2,868.7 L607.6,869.1 L608.9,869.6 L610.3,870.2 L611.7,870.7 L613.0,871.3 L614.3,871.9 L615.6,872.6 L616.9,873.3 L618.1,874.0 L619.4,874.7 L620.6,875.5 L621.7,876.3 L622.9,877.1 L624.1,878.0 L625.2,878.8 L626.3,879.7 L627.5,880.5 L628.6,881.4 L629.8,882.2 L630.9,883.1 L632.0,883.9 L633.2,884.8 L634.3,885.7 L635.4,886.7 L636.5,887.7 L637.5,888.7 L638.5,889.7 L639.5,890.8 L640.5,891.9 L641.5,893.0 L642.5,894.1 L643.5,895.2 L644.5,896.4 L645.4,897.6 L646.3,898.8 L647.2,900.0 L648.1,901.3 L649.0,902.6 L649.8,903.9 L650.6,905.3 L651.4,906.7 L652.1,908.1 L652.8,909.5 L653.5,911.0 L654.1,912.5 L654.7,914.0 L655.3,915.5 L655.9,917.1 L656.4,918.6 L656.8,920.2 L657.3,921.9 L657.6,923.5 L657.9,925.2 L658.0,926.8 L658.1,928.5 L658.2,930.2 L658.2,931.9 L658.2,933.6 L658.2,935.3 L658.1,937.0 L658.0,938.8 L658.0,940.5 L657.9,942.3 L657.8,944.1 L657.6,945.8 L657.3,947.6 L656.9,949.4 L656.4,951.1 L655.8,952.7 L655.1,954.4 L654.4,956.0 L653.5,957.6 L652.5,959.1 L651.6,960.6 L650.5,962.0 L649.5,963.4 L648.4,964.8 L647.2,966.2 L645.9,967.4 L644.7,968.7 L643.3,969.8 L641.9,970.9 L640.5,972.0 L639.1,973.0 L637.6,973.9 L636.1,974.8 L634.6,975.7 L633.0,976.5 L631.5,977.3 L629.9,978.0 L628.3,978.7 L626.8,979.4 L625.2,980.0 L623.6,980.5 L621.9,981.0 L620.3,981.5 L618.7,981.9 L617.1,982.3 L615.5,982.7 L613.8,983.0 L612.2,983.2 L610.6,983.4 L608.9,983.6 L607.3,983.8 L605.7,983.9 L604.1,984.0 L602.5,984.1 L600.9,984.2 L599.3,984.2 L597.7,984.3 L596.1,984.2 L594.5,984.2 L592.9,984.0 L591.3,983.8 L589.8,983.6 L588.2,983.3 L586.7,982.9 L585.2,982.5 L583.7,982.0 L582.2,981.5 L580.7,980.9 L579.3,980.4 L577.8,979.7 L576.4,979.1 L575.0,978.4 L573.7,977.7 L572.3,977.0 L571.0,976.3 L569.7,975.5 L568.4,974.7 L567.2,973.8 L566.0,972.9 L564.8,972.0 L563.6,971.1 L562.4,970.2 L561.3,969.2 L560.2,968.2 L559.1,967.2 L558.1,966.1 L557.1,965.1 L556.1,964.0 L555.1,962.9 L554.1,961.8 L553.2,960.7 L552.3,959.6 L551.4,958.4 L550.6,957.2 L549.8,956.0 L549.0,954.8 L548.2,953.5 L547.5,952.3 L546.8,951.0 L546.2,949.8 L545.5,948.5 L544.8,947.2 L544.2,945.9 L543.6,944.6 L543.0,943.3 L542.4,942.0 L541.8,940.6 L541.3,939.3 L540.8,937.9 L540.4,936.5 L539.9,935.1 L539.5,933.7 L539.2,932.3 L538.9,930.8 L538.6,929.4 L538.4,927.9 L538.3,926.4 L538.2,925.0Z" fill="#ff6d00"/>
<path d="M543.8,923.5 L543.8,922.2 L543.9,920.8 L544.0,919.5 L544.1,918.2 L544.3,916.9 L544.4,915.6 L544.6,914.3 L544.8,912.9 L545.0,911.6 L545.2,910.3 L545.5,909.0 L545.8,907.7 L546.2,906.4 L546.5,905.1 L547.0,903.8 L547.4,902.5 L547.9,901.3 L548.4,900.0 L548.9,898.7 L549.4,897.5 L550.0,896.2 L550.6,895.0 L551.2,893.7 L551.8,892.5 L552.5,891.3 L553.3,890.1 L554.0,888.9 L554.8,887.8 L555.6,886.6 L556.5,885.5 L557.5,884.5 L558.4,883.5 L559.5,882.5 L560.5,881.5 L561.6,880.7 L562.8,879.8 L563.9,879.0 L565.1,878.3 L566.4,877.6 L567.6,876.9 L568.8,876.2 L570.1,875.6 L571.4,875.1 L572.7,874.5 L574.0,874.1 L575.4,873.6 L576.7,873.3 L578.1,872.9 L579.4,872.6 L580.8,872.3 L582.2,872.1 L583.5,871.9 L584.9,871.8 L586.3,871.7 L587.7,871.6 L589.0,871.6 L590.4,871.6 L591.8,871.6 L593.1,871.7 L594.5,871.8 L595.8,872.0 L597.2,872.2 L598.5,872.4 L599.8,872.7 L601.2,873.0 L602.5,873.3 L603.7,873.7 L605.0,874.0 L606.3,874.5 L607.5,874.9 L608.8,875.4 L610.0,875.9 L611.2,876.4 L612.4,877.0 L613.5,877.6 L614.7,878.2 L615.8,878.8 L616.9,879.5 L618.0,880.2 L619.1,880.9 L620.1,881.7 L621.2,882.4 L622.2,883.2 L623.2,884.0 L624.3,884.7 L625.3,885.5 L626.3,886.3 L627.3,887.0 L628.4,887.8 L629.4,888.6 L630.4,889.4 L631.4,890.3 L632.3,891.2 L633.3,892.1 L634.2,893.0 L635.1,894.0 L636.0,895.0 L636.9,895.9 L637.8,897.0 L638.7,898.0 L639.6,899.0 L640.4,900.1 L641.3,901.2 L642.1,902.3 L642.9,903.5 L643.6,904.6 L644.4,905.8 L645.1,907.1 L645.8,908.3 L646.4,909.6 L647.1,910.9 L647.7,912.2 L648.3,913.5 L648.8,914.9 L649.4,916.3 L649.9,917.7 L650.3,919.1 L650.7,920.6 L651.1,922.0 L651.5,923.5 L651.7,925.0 L651.8,926.5 L651.9,928.0 L652.0,929.5 L652.0,931.1 L652.0,932.6 L651.9,934.1 L651.9,935.7 L651.8,937.3 L651.8,938.8 L651.7,940.4 L651.6,942.1 L651.4,943.7 L651.2,945.2 L650.8,946.8 L650.4,948.4 L649.8,949.9 L649.2,951.4 L648.5,952.8 L647.7,954.2 L646.9,955.6 L646.0,956.9 L645.1,958.2 L644.1,959.5 L643.1,960.8 L642.0,962.0 L640.9,963.1 L639.7,964.2 L638.5,965.3 L637.3,966.3 L636.0,967.3 L634.7,968.2 L633.4,969.0 L632.0,969.8 L630.6,970.6 L629.3,971.3 L627.9,972.0 L626.4,972.7 L625.0,973.3 L623.6,973.9 L622.2,974.4 L620.7,974.9 L619.3,975.4 L617.8,975.8 L616.3,976.2 L614.9,976.6 L613.4,976.9 L611.9,977.1 L610.5,977.4 L609.0,977.6 L607.5,977.7 L606.1,977.9 L604.6,978.0 L603.1,978.1 L601.7,978.2 L600.3,978.2 L598.8,978.3 L597.4,978.3 L595.9,978.3 L594.5,978.2 L593.1,978.1 L591.6,977.9 L590.2,977.7 L588.8,977.4 L587.4,977.1 L586.1,976.7 L584.7,976.3 L583.4,975.8 L582.1,975.3 L580.8,974.8 L579.5,974.2 L578.2,973.7 L577.0,973.1 L575.7,972.4 L574.5,971.8 L573.3,971.1 L572.1,970.4 L571.0,969.7 L569.9,968.9 L568.7,968.1 L567.7,967.3 L566.6,966.5 L565.6,965.6 L564.6,964.7 L563.6,963.8 L562.6,962.9 L561.7,962.0 L560.7,961.0 L559.8,960.0 L558.9,959.1 L558.1,958.1 L557.2,957.1 L556.4,956.0 L555.6,955.0 L554.9,953.9 L554.1,952.8 L553.4,951.7 L552.8,950.6 L552.1,949.5 L551.5,948.3 L550.9,947.2 L550.3,946.0 L549.7,944.9 L549.1,943.7 L548.6,942.5 L548.0,941.3 L547.5,940.1 L547.0,938.9 L546.5,937.7 L546.1,936.5 L545.7,935.2 L545.3,934.0 L544.9,932.7 L544.6,931.4 L544.3,930.1 L544.1,928.8 L543.9,927.5 L543.8,926.2 L543.8,924.8Z" fill="#ff5700"/>
<path d="M549.9,923.5 L550.0,922.3 L550.0,921.2 L550.1,920.0 L550.3,918.9 L550.4,917.7 L550.5,916.5 L550.7,915.4 L550.8,914.2 L551.0,913.1 L551.2,911.9 L551.5,910.8 L551.7,909.6 L552.1,908.5 L552.4,907.3 L552.8,906.2 L553.1,905.1 L553.5,904.0 L554.0,902.9 L554.4,901.7 L554.9,900.6 L555.4,899.5 L555.9,898.4 L556.5,897.4 L557.0,896.3 L557.7,895.2 L558.3,894.2 L559.0,893.1 L559.6,892.1 L560.4,891.1 L561.2,890.2 L562.0,889.2 L562.8,888.3 L563.7,887.5 L564.7,886.7 L565.6,885.9 L566.6,885.1 L567.7,884.5 L568.7,883.8 L569.8,883.2 L570.9,882.6 L572.0,882.0 L573.1,881.5 L574.2,881.0 L575.4,880.5 L576.5,880.1 L577.7,879.7 L578.9,879.4 L580.1,879.1 L581.3,878.8 L582.5,878.6 L583.7,878.4 L584.9,878.2 L586.1,878.1 L587.3,878.0 L588.5,877.9 L589.7,877.9 L590.9,877.9 L592.1,878.0 L593.3,878.0 L594.5,878.1 L595.7,878.3 L596.9,878.4 L598.0,878.6 L599.2,878.9 L600.3,879.1 L601.5,879.4 L602.6,879.7 L603.7,880.1 L604.8,880.4 L605.9,880.8 L607.0,881.2 L608.1,881.7 L609.1,882.2 L610.2,882.6 L611.2,883.2 L612.2,883.7 L613.2,884.3 L614.2,884.9 L615.1,885.5 L616.1,886.1 L617.0,886.8 L617.9,887.4 L618.8,888.1 L619.7,888.8 L620.6,889.4 L621.5,890.1 L622.4,890.8 L623.3,891.5 L624.2,892.2 L625.1,892.9 L626.0,893.6 L626.9,894.3 L627.7,895.1 L628.6,895.9 L629.4,896.7 L630.2,897.6 L631.0,898.4 L631.8,899.3 L632.5,900.2 L633.3,901.1 L634.1,902.0 L634.8,903.0 L635.6,903.9 L636.3,904.9 L637.0,905.9 L637.7,906.9 L638.3,908.0 L638.9,909.1 L639.5,910.2 L640.1,911.3 L640.7,912.4 L641.2,913.6 L641.7,914.7 L642.2,915.9 L642.7,917.2 L643.1,918.4 L643.5,919.6 L643.9,920.9 L644.2,922.2 L644.5,923.5 L644.7,924.8 L644.8,926.1 L644.9,927.5 L645.0,928.8 L645.0,930.1 L645.0,931.5 L644.9,932.8 L644.9,934.2 L644.8,935.6 L644.8,937.0 L644.7,938.4 L644.6,939.8 L644.5,941.2 L644.3,942.6 L643.9,944.0 L643.5,945.3 L643.1,946.7 L642.5,948.0 L641.9,949.2 L641.2,950.5 L640.5,951.7 L639.7,952.9 L638.9,954.0 L638.0,955.1 L637.2,956.2 L636.2,957.3 L635.3,958.3 L634.2,959.3 L633.2,960.2 L632.1,961.1 L631.0,961.9 L629.8,962.7 L628.6,963.5 L627.4,964.2 L626.2,964.9 L625.0,965.5 L623.8,966.1 L622.6,966.7 L621.3,967.2 L620.0,967.8 L618.8,968.2 L617.5,968.7 L616.2,969.1 L615.0,969.5 L613.7,969.8 L612.4,970.1 L611.1,970.4 L609.8,970.6 L608.5,970.8 L607.2,971.0 L605.9,971.1 L604.6,971.2 L603.4,971.4 L602.1,971.4 L600.8,971.5 L599.6,971.6 L598.3,971.6 L597.0,971.6 L595.8,971.6 L594.5,971.6 L593.2,971.5 L592.0,971.3 L590.8,971.1 L589.5,970.9 L588.3,970.6 L587.1,970.2 L585.9,969.9 L584.7,969.4 L583.6,969.0 L582.4,968.5 L581.3,968.1 L580.2,967.5 L579.1,967.0 L578.0,966.5 L576.9,965.9 L575.9,965.3 L574.9,964.7 L573.8,964.0 L572.9,963.4 L571.9,962.7 L570.9,962.0 L570.0,961.2 L569.1,960.5 L568.2,959.7 L567.3,958.9 L566.5,958.1 L565.7,957.3 L564.8,956.4 L564.0,955.6 L563.3,954.7 L562.5,953.9 L561.8,953.0 L561.1,952.1 L560.4,951.1 L559.7,950.2 L559.1,949.3 L558.4,948.3 L557.9,947.3 L557.3,946.3 L556.7,945.3 L556.2,944.3 L555.7,943.3 L555.2,942.3 L554.7,941.2 L554.2,940.2 L553.7,939.2 L553.2,938.1 L552.8,937.1 L552.4,936.0 L552.0,934.9 L551.6,933.8 L551.3,932.7 L551.0,931.6 L550.7,930.4 L550.4,929.3 L550.2,928.2 L550.1,927.0 L550.0,925.8 L549.9,924.7Z" fill="#ff4100"/>
<path d="M557.1,923.5 L557.2,922.5 L557.2,921.5 L557.3,920.6 L557.4,919.6 L557.5,918.6 L557.6,917.7 L557.8,916.7 L557.9,915.7 L558.0,914.7 L558.2,913.8 L558.4,912.8 L558.6,911.9 L558.9,910.9 L559.2,909.9 L559.5,909.0 L559.8,908.1 L560.2,907.1 L560.5,906.2 L560.9,905.3 L561.3,904.3 L561.7,903.4 L562.1,902.5 L562.6,901.6 L563.1,900.7 L563.6,899.8 L564.1,898.9 L564.7,898.0 L565.3,897.2 L565.9,896.3 L566.5,895.5 L567.2,894.8 L567.9,894.0 L568.7,893.3 L569.5,892.6 L570.3,892.0 L571.1,891.3 L572.0,890.8 L572.9,890.2 L573.8,889.7 L574.7,889.2 L575.6,888.7 L576.5,888.2 L577.5,887.8 L578.4,887.4 L579.4,887.1 L580.4,886.8 L581.4,886.5 L582.4,886.2 L583.4,886.0 L584.4,885.8 L585.4,885.7 L586.4,885.5 L587.4,885.4 L588.5,885.3 L589.5,885.3 L590.5,885.3 L591.5,885.3 L592.5,885.3 L593.5,885.4 L594.5,885.5 L595.5,885.6 L596.5,885.7 L597.5,885.9 L598.4,886.1 L599.4,886.3 L600.4,886.5 L601.3,886.8 L602.2,887.1 L603.2,887.4 L604.1,887.7 L605.0,888.1 L605.9,888.4 L606.8,888.8 L607.7,889.2 L608.5,889.7 L609.4,890.1 L610.2,890.6 L611.0,891.1 L611.8,891.6 L612.6,892.2 L613.4,892.7 L614.1,893.3 L614.9,893.8 L615.7,894.4 L616.4,894.9 L617.2,895.5 L617.9,896.1 L618.7,896.6 L619.4,897.2 L620.2,897.8 L620.9,898.4 L621.7,899.0 L622.4,899.7 L623.1,900.4 L623.7,901.1 L624.4,901.8 L625.1,902.5 L625.7,903.2 L626.4,904.0 L627.0,904.7 L627.7,905.5 L628.3,906.3 L628.9,907.1 L629.5,907.9 L630.1,908.7 L630.7,909.6 L631.2,910.5 L631.8,911.4 L632.3,912.3 L632.8,913.2 L633.2,914.2 L633.7,915.2 L634.1,916.2 L634.5,917.2 L634.9,918.2 L635.3,919.2 L635.6,920.3 L635.9,921.3 L636.2,922.4 L636.4,923.5 L636.6,924.6 L636.7,925.7 L636.8,926.8 L636.8,927.9 L636.8,929.1 L636.8,930.2 L636.8,931.3 L636.7,932.5 L636.7,933.6 L636.7,934.8 L636.6,936.0 L636.6,937.2 L636.4,938.3 L636.2,939.5 L636.0,940.7 L635.6,941.8 L635.2,942.9 L634.8,944.0 L634.3,945.1 L633.7,946.1 L633.1,947.1 L632.4,948.1 L631.7,949.1 L631.0,950.0 L630.3,951.0 L629.5,951.8 L628.7,952.7 L627.8,953.5 L626.9,954.3 L626.0,955.0 L625.1,955.7 L624.1,956.4 L623.1,957.0 L622.1,957.6 L621.1,958.2 L620.1,958.7 L619.1,959.2 L618.0,959.7 L617.0,960.2 L615.9,960.6 L614.9,961.0 L613.8,961.4 L612.7,961.7 L611.7,962.0 L610.6,962.3 L609.5,962.6 L608.4,962.8 L607.3,963.0 L606.3,963.2 L605.2,963.3 L604.1,963.4 L603.0,963.5 L601.9,963.6 L600.9,963.7 L599.8,963.8 L598.7,963.8 L597.7,963.8 L596.6,963.9 L595.6,963.9 L594.5,963.8 L593.4,963.7 L592.4,963.6 L591.4,963.4 L590.3,963.2 L589.3,963.0 L588.3,962.7 L587.3,962.4 L586.3,962.0 L585.3,961.7 L584.4,961.3 L583.4,960.9 L582.5,960.4 L581.6,960.0 L580.7,959.5 L579.8,959.0 L578.9,958.5 L578.0,958.0 L577.2,957.5 L576.3,956.9 L575.5,956.4 L574.7,955.8 L574.0,955.1 L573.2,954.5 L572.5,953.8 L571.7,953.2 L571.0,952.5 L570.3,951.8 L569.6,951.1 L569.0,950.4 L568.3,949.7 L567.7,949.0 L567.0,948.2 L566.4,947.5 L565.9,946.7 L565.3,945.9 L564.8,945.1 L564.3,944.3 L563.8,943.5 L563.3,942.6 L562.8,941.8 L562.4,940.9 L561.9,940.1 L561.5,939.2 L561.1,938.4 L560.7,937.5 L560.3,936.6 L559.9,935.8 L559.5,934.9 L559.2,934.0 L558.8,933.1 L558.5,932.1 L558.2,931.2 L558.0,930.3 L557.8,929.3 L557.6,928.4 L557.4,927.4 L557.2,926.4 L557.2,925.5 L557.1,924.5Z" fill="#ff2b00"/>
<path d="M566.1,923.5 L566.1,922.8 L566.2,922.0 L566.2,921.3 L566.3,920.5 L566.4,919.8 L566.5,919.1 L566.6,918.3 L566.7,917.6 L566.8,916.8 L566.9,916.1 L567.1,915.4 L567.2,914.6 L567.4,913.9 L567.7,913.2 L567.9,912.5 L568.1,911.8 L568.4,911.0 L568.7,910.3 L568.9,909.6 L569.3,908.9 L569.6,908.2 L569.9,907.5 L570.3,906.8 L570.6,906.1 L571.0,905.5 L571.4,904.8 L571.8,904.1 L572.3,903.5 L572.7,902.9 L573.2,902.2 L573.8,901.6 L574.3,901.1 L574.9,900.5 L575.5,900.0 L576.1,899.5 L576.7,899.0 L577.4,898.6 L578.1,898.2 L578.7,897.8 L579.4,897.4 L580.1,897.0 L580.8,896.7 L581.6,896.4 L582.3,896.1 L583.0,895.8 L583.8,895.6 L584.5,895.4 L585.3,895.2 L586.1,895.0 L586.8,894.9 L587.6,894.7 L588.4,894.6 L589.1,894.5 L589.9,894.5 L590.7,894.4 L591.4,894.4 L592.2,894.4 L593.0,894.5 L593.7,894.5 L594.5,894.6 L595.3,894.7 L596.0,894.8 L596.8,894.9 L597.5,895.0 L598.2,895.2 L599.0,895.4 L599.7,895.6 L600.4,895.8 L601.1,896.0 L601.8,896.3 L602.5,896.6 L603.2,896.8 L603.8,897.1 L604.5,897.5 L605.2,897.8 L605.8,898.1 L606.4,898.5 L607.1,898.9 L607.7,899.3 L608.3,899.7 L608.8,900.1 L609.4,900.5 L610.0,900.9 L610.6,901.4 L611.2,901.8 L611.7,902.2 L612.3,902.6 L612.9,903.1 L613.5,903.5 L614.0,904.0 L614.6,904.4 L615.2,904.9 L615.7,905.4 L616.2,905.9 L616.7,906.4 L617.2,907.0 L617.8,907.5 L618.3,908.1 L618.8,908.6 L619.2,909.2 L619.7,909.8 L620.2,910.4 L620.7,911.0 L621.1,911.6 L621.6,912.3 L622.0,912.9 L622.4,913.6 L622.8,914.3 L623.2,915.0 L623.6,915.7 L623.9,916.4 L624.3,917.2 L624.6,917.9 L624.9,918.7 L625.2,919.5 L625.5,920.2 L625.8,921.0 L626.0,921.8 L626.2,922.7 L626.4,923.5 L626.5,924.3 L626.6,925.2 L626.6,926.0 L626.7,926.9 L626.7,927.7 L626.7,928.6 L626.7,929.5 L626.6,930.3 L626.6,931.2 L626.6,932.1 L626.5,933.0 L626.5,933.9 L626.4,934.8 L626.2,935.7 L626.0,936.6 L625.8,937.4 L625.5,938.3 L625.1,939.1 L624.7,939.9 L624.3,940.7 L623.8,941.5 L623.3,942.2 L622.8,943.0 L622.3,943.7 L621.7,944.4 L621.1,945.0 L620.5,945.7 L619.8,946.3 L619.2,946.9 L618.5,947.5 L617.7,948.0 L617.0,948.5 L616.3,949.0 L615.5,949.4 L614.7,949.9 L614.0,950.3 L613.2,950.7 L612.4,951.0 L611.6,951.4 L610.8,951.7 L610.0,952.0 L609.2,952.3 L608.4,952.6 L607.5,952.8 L606.7,953.0 L605.9,953.2 L605.1,953.4 L604.3,953.5 L603.4,953.7 L602.6,953.8 L601.8,953.9 L601.0,953.9 L600.2,954.0 L599.3,954.1 L598.5,954.1 L597.7,954.2 L596.9,954.2 L596.1,954.2 L595.3,954.2 L594.5,954.1 L593.7,954.1 L592.9,954.0 L592.1,953.9 L591.3,953.7 L590.5,953.5 L589.8,953.3 L589.0,953.1 L588.3,952.8 L587.5,952.5 L586.8,952.2 L586.1,951.9 L585.4,951.6 L584.7,951.2 L584.0,950.9 L583.3,950.5 L582.6,950.1 L582.0,949.8 L581.3,949.3 L580.7,948.9 L580.1,948.5 L579.5,948.0 L578.9,947.5 L578.3,947.1 L577.7,946.6 L577.2,946.1 L576.6,945.6 L576.1,945.0 L575.6,944.5 L575.1,944.0 L574.6,943.4 L574.1,942.9 L573.6,942.3 L573.2,941.7 L572.7,941.1 L572.3,940.5 L571.9,939.9 L571.5,939.3 L571.1,938.7 L570.8,938.0 L570.4,937.4 L570.1,936.8 L569.7,936.1 L569.4,935.5 L569.1,934.8 L568.8,934.2 L568.5,933.5 L568.2,932.8 L567.9,932.1 L567.6,931.5 L567.4,930.8 L567.1,930.1 L566.9,929.4 L566.7,928.6 L566.6,927.9 L566.4,927.2 L566.3,926.5 L566.2,925.7 L566.1,925.0 L566.1,924.2Z" fill="#ff1600"/>
<path d="M579.7,923.5 L579.7,923.1 L579.8,922.7 L579.8,922.3 L579.8,922.0 L579.9,921.6 L579.9,921.2 L580.0,920.8 L580.0,920.4 L580.1,920.0 L580.2,919.7 L580.2,919.3 L580.3,918.9 L580.4,918.5 L580.5,918.1 L580.7,917.8 L580.8,917.4 L580.9,917.0 L581.1,916.7 L581.2,916.3 L581.4,915.9 L581.5,915.6 L581.7,915.2 L581.9,914.8 L582.1,914.5 L582.3,914.1 L582.5,913.8 L582.7,913.4 L583.0,913.1 L583.2,912.8 L583.5,912.5 L583.7,912.1 L584.0,911.8 L584.3,911.6 L584.6,911.3 L584.9,911.0 L585.3,910.8 L585.6,910.6 L586.0,910.3 L586.3,910.1 L586.7,909.9 L587.0,909.7 L587.4,909.6 L587.8,909.4 L588.2,909.3 L588.5,909.1 L588.9,909.0 L589.3,908.9 L589.7,908.8 L590.1,908.7 L590.5,908.6 L590.9,908.5 L591.3,908.5 L591.7,908.5 L592.1,908.4 L592.5,908.4 L592.9,908.4 L593.3,908.4 L593.7,908.4 L594.1,908.4 L594.5,908.5 L594.9,908.5 L595.3,908.6 L595.7,908.6 L596.1,908.7 L596.4,908.8 L596.8,908.9 L597.2,909.0 L597.6,909.1 L597.9,909.2 L598.3,909.4 L598.6,909.5 L599.0,909.6 L599.4,909.8 L599.7,910.0 L600.0,910.1 L600.4,910.3 L600.7,910.5 L601.0,910.7 L601.3,910.9 L601.7,911.1 L602.0,911.3 L602.3,911.6 L602.6,911.8 L602.9,912.0 L603.2,912.2 L603.5,912.4 L603.8,912.7 L604.1,912.9 L604.4,913.1 L604.7,913.3 L604.9,913.6 L605.2,913.8 L605.5,914.1 L605.8,914.4 L606.1,914.6 L606.3,914.9 L606.6,915.2 L606.8,915.5 L607.1,915.8 L607.4,916.1 L607.6,916.4 L607.9,916.7 L608.1,917.0 L608.3,917.3 L608.6,917.7 L608.8,918.0 L609.0,918.4 L609.2,918.7 L609.4,919.1 L609.6,919.4 L609.8,919.8 L610.0,920.2 L610.1,920.6 L610.3,921.0 L610.5,921.4 L610.6,921.8 L610.7,922.2 L610.9,922.6 L611.0,923.1 L611.1,923.5 L611.1,923.9 L611.2,924.4 L611.2,924.8 L611.2,925.3 L611.2,925.7 L611.2,926.1 L611.2,926.6 L611.2,927.0 L611.2,927.5 L611.2,928.0 L611.1,928.4 L611.1,928.9 L611.1,929.4 L611.0,929.8 L610.9,930.3 L610.8,930.7 L610.6,931.2 L610.4,931.6 L610.2,932.0 L610.0,932.4 L609.7,932.8 L609.5,933.2 L609.2,933.6 L608.9,934.0 L608.6,934.3 L608.3,934.7 L608.0,935.0 L607.7,935.4 L607.3,935.7 L607.0,936.0 L606.6,936.2 L606.2,936.5 L605.8,936.7 L605.4,937.0 L605.0,937.2 L604.6,937.4 L604.2,937.6 L603.8,937.8 L603.4,938.0 L603.0,938.2 L602.5,938.3 L602.1,938.5 L601.7,938.6 L601.3,938.7 L600.9,938.8 L600.4,938.9 L600.0,939.0 L599.6,939.1 L599.1,939.2 L598.7,939.2 L598.3,939.3 L597.9,939.3 L597.4,939.4 L597.0,939.4 L596.6,939.4 L596.2,939.4 L595.8,939.4 L595.3,939.4 L594.9,939.4 L594.5,939.4 L594.1,939.4 L593.7,939.3 L593.3,939.3 L592.9,939.2 L592.4,939.1 L592.0,939.0 L591.7,938.9 L591.3,938.7 L590.9,938.6 L590.5,938.4 L590.1,938.3 L589.8,938.1 L589.4,937.9 L589.0,937.7 L588.7,937.5 L588.3,937.3 L588.0,937.1 L587.7,936.9 L587.3,936.7 L587.0,936.5 L586.7,936.2 L586.4,936.0 L586.1,935.7 L585.8,935.5 L585.5,935.2 L585.2,935.0 L584.9,934.7 L584.7,934.4 L584.4,934.1 L584.2,933.8 L583.9,933.6 L583.7,933.3 L583.4,933.0 L583.2,932.7 L583.0,932.3 L582.8,932.0 L582.6,931.7 L582.4,931.4 L582.2,931.1 L582.0,930.7 L581.8,930.4 L581.6,930.1 L581.5,929.7 L581.3,929.4 L581.1,929.0 L581.0,928.7 L580.8,928.3 L580.7,928.0 L580.5,927.6 L580.4,927.3 L580.3,926.9 L580.2,926.5 L580.1,926.2 L580.0,925.8 L579.9,925.4 L579.8,925.0 L579.8,924.7 L579.7,924.3 L579.7,923.9Z" fill="#ff0000"/>
<path d="M538.3,923.5 L538.3,922.5 L538.3,921.5 L538.4,920.6 L538.5,919.6 L538.5,918.6 L538.7,917.6 L538.8,916.7 L538.9,915.7 L539.0,914.7 L539.1,913.7 L539.2,912.8 L539.4,911.8 L539.5,910.8 L539.7,909.8 L539.9,908.9 L540.1,907.9 L540.3,906.9 L540.5,906.0 L540.8,905.0 L541.1,904.0 L541.3,903.1 L541.6,902.1 L542.0,901.2 L542.3,900.3 L542.6,899.3 L543.0,898.4 L543.3,897.4 L543.7,896.5 L544.1,895.6 L544.5,894.6 L544.9,893.7 L545.4,892.8 L545.8,891.9 L546.3,891.0 L546.7,890.1 L547.2,889.1 L547.7,888.3 L548.2,887.4 L548.8,886.5 L549.3,885.6 L549.9,884.7 L550.5,883.9 L551.1,883.0 L551.8,882.2 L552.4,881.4 L553.1,880.6 L553.8,879.9 L554.5,879.1 L555.3,878.4 L556.0,877.7 L556.8,877.0 L557.6,876.3 L558.5,875.7 L559.3,875.1 L560.2,874.5 L561.1,873.9 L562.0,873.4 L562.8,872.8 L563.7,872.3 L564.7,871.8 L565.6,871.3 L566.5,870.9 L567.5,870.4 L568.4,870.0 L569.4,869.6 L570.3,869.2 L571.3,868.9 L572.3,868.5 L573.3,868.2 L574.3,867.9 L575.3,867.7 L576.3,867.4 L577.3,867.2 L578.3,867.0 L579.3,866.8 L580.3,866.6 L581.3,866.5 L582.3,866.3 L583.4,866.2 L584.4,866.1 L585.4,866.0 L586.4,866.0 L587.4,866.0 L588.5,865.9 L589.5,865.9 L590.5,866.0 L591.5,866.0 L592.5,866.1 L593.5,866.1 L594.5,866.2 L595.5,866.3 L596.5,866.5 L597.5,866.6 L598.5,866.8 L599.4,867.0 L600.4,867.2 L601.4,867.4 L602.4,867.6 L603.3,867.8 L604.3,868.1 L605.2,868.4 L606.2,868.7 L607.1,869.0 L608.0,869.3 L608.9,869.6 L609.8,870.0 L610.8,870.3 L611.7,870.7 L612.5,871.1 L613.4,871.5 L614.3,871.9 L615.2,872.4 L616.0,872.8 L616.9,873.3 L617.7,873.7 L618.5,874.2 L619.4,874.7 L620.2,875.2 L621.0,875.8 L621.7,876.3 L622.5,876.9 L623.3,877.4 L624.1,878.0 L624.8,878.5 L625.6,879.1 L626.3,879.7 L627.1,880.2 L627.9,880.8 L628.6,881.4 L629.4,881.9 L630.1,882.5 L630.9,883.1 L631.7,883.6 L632.4,884.2 L633.2,884.8 L633.9,885.4 L634.7,886.1 L635.4,886.7 L636.1,887.3 L636.8,888.0 L637.5,888.7 L638.2,889.4 L638.9,890.1 L639.5,890.8 L640.2,891.5 L640.9,892.2 L641.5,893.0 L642.2,893.7 L642.8,894.5 L643.5,895.2 L644.1,896.0 L644.8,896.8 L645.4,897.6 L646.0,898.4 L646.6,899.2 L647.2,900.0 L647.8,900.9 L648.4,901.7 L649.0,902.6 L649.5,903.5 L650.1,904.4 L650.6,905.3 L651.1,906.2 L651.6,907.1 L652.1,908.1 L652.6,909.0 L653.0,910.0 L653.5,911.0 L653.9,912.0 L654.3,913.0 L654.7,914.0 L655.1,915.0 L655.5,916.0 L655.9,917.1 L656.2,918.1 L656.5,919.2 L656.8,920.2 L657.1,921.3 L657.4,922.4 L657.6,923.5 L657.8,924.6 L657.9,925.7 L658.0,926.8 L658.1,927.9 L658.2,929.1 L658.2,930.2 L658.2,931.3 L658.2,932.5 L658.2,933.6 L658.2,934.7 L658.1,935.9 L658.1,937.0 L658.0,938.2 L658.0,939.3 L658.0,940.5 L657.9,941.7 L657.9,942.9 L657.8,944.1 L657.7,945.3 L657.5,946.4 L657.3,947.6 L657.1,948.8 L656.8,949.9 L656.4,951.1 L656.0,952.2 L655.6,953.3 L655.1,954.4 L654.6,955.5 L654.1,956.5 L653.5,957.6 L652.9,958.6 L652.2,959.6 L651.6,960.6 L650.9,961.5 L650.2,962.5 L649.5,963.4 L648.7,964.4 L648.0,965.3 L647.2,966.2 L646.4,967.0 L645.5,967.9 L644.7,968.7 L643.8,969.5 L642.9,970.2 L641.9,970.9 L641.0,971.7 L640.0,972.3 L639.1,973.0 L638.1,973.6 L637.1,974.3 L636.1,974.8 L635.1,975.4 L634.1,976.0 L633.0,976.5 L632.0,977.0 L631.0,977.5 L629.9,978.0 L628.9,978.5 L627.8,978.9 L626.8,979.4 L625.7,979.8 L624.6,980.2 L623.6,980.5 L622.5,980.9 L621.4,981.2 L620.3,981.5 L619.2,981.8 L618.2,982.1 L617.1,982.3 L616.0,982.6 L614.9,982.8 L613.8,983.0 L612.7,983.1 L611.6,983.3 L610.6,983.4 L609.5,983.6 L608.4,983.7 L607.3,983.8 L606.2,983.9 L605.2,983.9 L604.1,984.0 L603.0,984.1 L601.9,984.1 L600.9,984.2 L599.8,984.2 L598.7,984.2 L597.7,984.3 L596.6,984.2 L595.6,984.2 L594.5,984.2 L593.4,984.1 L592.4,984.0 L591.3,983.8 L590.3,983.7 L589.3,983.5 L588.2,983.3 L587.2,983.1 L586.2,982.8 L585.2,982.5 L584.2,982.2 L583.2,981.9 L582.2,981.5 L581.2,981.1 L580.2,980.8 L579.3,980.4 L578.3,980.0 L577.4,979.5 L576.4,979.1 L575.5,978.7 L574.6,978.2 L573.7,977.7 L572.8,977.3 L571.9,976.8 L571.0,976.3 L570.1,975.7 L569.3,975.2 L568.4,974.7 L567.6,974.1 L566.8,973.5 L566.0,972.9 L565.1,972.4 L564.4,971.7 L563.6,971.1 L562.8,970.5 L562.1,969.8 L561.3,969.2 L560.6,968.5 L559.9,967.8 L559.1,967.2 L558.4,966.5 L557.7,965.8 L557.1,965.1 L556.4,964.4 L555.7,963.6 L555.1,962.9 L554.4,962.2 L553.8,961.5 L553.2,960.7 L552.6,959.9 L552.0,959.2 L551.4,958.4 L550.8,957.6 L550.3,956.8 L549.8,956.0 L549.2,955.2 L548.7,954.4 L548.2,953.5 L547.8,952.7 L547.3,951.9 L546.8,951.0 L546.4,950.2 L545.9,949.3 L545.5,948.5 L545.1,947.6 L544.6,946.8 L544.2,945.9 L543.8,945.0 L543.4,944.2 L543.0,943.3 L542.6,942.4 L542.2,941.5 L541.8,940.6 L541.5,939.7 L541.1,938.8 L540.8,937.9 L540.5,937.0 L540.2,936.0 L539.9,935.1 L539.7,934.2 L539.4,933.2 L539.2,932.3 L539.0,931.3 L538.8,930.3 L538.6,929.4 L538.5,928.4 L538.4,927.4 L538.3,926.4 L538.3,925.5 L538.2,924.5Z" fill="none" stroke="#383838" stroke-width="1" stroke-opacity="0.8"/>
<path d="M495.6,923.5 L495.6,921.8 L495.6,920.0 L495.6,918.3 L495.7,916.6 L495.8,914.9 L495.9,913.1 L496.1,911.4 L496.2,909.7 L496.4,908.0 L496.6,906.2 L496.9,904.5 L497.2,902.8 L497.5,901.1 L497.8,899.4 L498.1,897.7 L498.5,896.0 L499.0,894.3 L499.4,892.6 L499.9,890.9 L500.4,889.3 L501.0,887.6 L501.7,886.0 L502.3,884.4 L503.1,882.8 L503.8,881.2 L504.6,879.7 L505.4,878.1 L506.3,876.6 L507.1,875.1 L508.0,873.6 L508.9,872.1 L509.9,870.6 L510.8,869.2 L511.8,867.7 L512.8,866.3 L513.8,864.9 L514.9,863.5 L516.0,862.2 L517.1,860.8 L518.2,859.5 L519.4,858.2 L520.5,856.9 L521.7,855.6 L522.9,854.4 L524.2,853.2 L525.4,852.0 L526.7,850.8 L528.0,849.6 L529.3,848.5 L530.6,847.4 L532.0,846.3 L533.3,845.2 L534.7,844.1 L536.1,843.1 L537.5,842.1 L538.9,841.1 L540.4,840.2 L541.8,839.2 L543.3,838.3 L544.8,837.4 L546.3,836.6 L547.8,835.7 L549.4,834.9 L550.9,834.1 L552.5,833.4 L554.0,832.6 L555.6,831.9 L557.2,831.2 L558.8,830.6 L560.4,829.9 L562.1,829.4 L563.7,828.8 L565.4,828.3 L567.1,827.8 L568.8,827.4 L570.4,827.0 L572.1,826.6 L573.8,826.3 L575.6,826.0 L577.3,825.7 L579.0,825.5 L580.7,825.3 L582.4,825.1 L584.1,825.0 L585.9,824.9 L587.6,824.8 L589.3,824.8 L591.1,824.8 L592.8,824.8 L594.5,824.8 L596.2,824.9 L597.9,825.0 L599.7,825.0 L601.4,825.2 L603.1,825.3 L604.8,825.5 L606.5,825.7 L608.2,826.0 L609.9,826.3 L611.6,826.7 L613.2,827.2 L614.9,827.7 L616.5,828.2 L618.1,828.7 L619.7,829.3 L621.3,829.9 L622.9,830.6 L624.5,831.2 L626.0,831.9 L627.6,832.6 L629.1,833.3 L630.6,834.1 L632.1,834.9 L633.6,835.7 L635.1,836.5 L636.5,837.3 L638.0,838.2 L639.4,839.1 L640.8,840.0 L642.1,841.0 L643.5,841.9 L644.9,842.9 L646.3,843.8 L647.6,844.7 L649.0,845.7 L650.4,846.6 L651.7,847.6 L653.1,848.5 L654.4,849.5 L655.7,850.6 L657.0,851.6 L658.2,852.7 L659.5,853.8 L660.7,854.9 L661.9,856.1 L663.2,857.2 L664.4,858.3 L665.6,859.5 L666.8,860.7 L668.0,861.9 L669.1,863.1 L670.3,864.3 L671.5,865.5 L672.6,866.8 L673.7,868.1 L674.8,869.4 L675.8,870.7 L676.9,872.0 L677.9,873.4 L678.9,874.8 L680.0,876.1 L681.0,877.5 L682.0,878.9 L683.1,880.3 L684.1,881.7 L685.1,883.2 L686.0,884.7 L686.9,886.1 L687.9,887.7 L688.7,889.2 L689.6,890.8 L690.4,892.3 L691.2,893.9 L692.0,895.5 L692.8,897.2 L693.5,898.8 L694.2,900.5 L694.8,902.2 L695.5,903.9 L696.1,905.6 L696.7,907.3 L697.2,909.1 L697.7,910.8 L698.1,912.6 L698.5,914.4 L698.8,916.2 L699.1,918.0 L699.4,919.8 L699.6,921.7 L699.8,923.5 L700.0,925.3 L700.1,927.2 L700.2,929.0 L700.3,930.9 L700.3,932.8 L700.4,934.6 L700.4,936.5 L700.3,938.4 L700.3,940.3 L700.2,942.1 L700.1,944.0 L699.9,945.9 L699.8,947.8 L699.5,949.7 L699.3,951.6 L699.0,953.5 L698.7,955.3 L698.3,957.2 L697.9,959.1 L697.4,961.0 L696.9,962.8 L696.3,964.6 L695.7,966.5 L695.0,968.3 L694.4,970.1 L693.6,971.8 L692.9,973.6 L692.1,975.4 L691.3,977.1 L690.4,978.9 L689.5,980.6 L688.5,982.3 L687.5,983.9 L686.4,985.5 L685.2,987.0 L684.0,988.5 L682.8,990.0 L681.5,991.5 L680.2,992.9 L678.9,994.3 L677.6,995.7 L676.2,997.1 L674.8,998.4 L673.4,999.7 L672.0,1001.0 L670.5,1002.2 L668.9,1003.3 L667.4,1004.4 L665.8,1005.5 L664.2,1006.5 L662.6,1007.6 L660.9,1008.5 L659.3,1009.5 L657.6,1010.4 L656.0,1011.3 L654.3,1012.1 L652.6,1012.9 L650.9,1013.7 L649.2,1014.5 L647.4,1015.2 L645.7,1015.9 L644.0,1016.5 L642.2,1017.2 L640.5,1017.8 L638.7,1018.3 L636.9,1018.8 L635.2,1019.3 L633.4,1019.8 L631.6,1020.2 L629.9,1020.6 L628.1,1021.0 L626.3,1021.4 L624.5,1021.7 L622.8,1022.1 L621.0,1022.5 L619.3,1022.8 L617.5,1023.2 L615.8,1023.6 L614.0,1023.9 L612.3,1024.2 L610.5,1024.4 L608.7,1024.7 L606.9,1024.9 L605.2,1025.0 L603.4,1025.2 L601.6,1025.3 L599.8,1025.3 L598.1,1025.3 L596.3,1025.3 L594.5,1025.2 L592.7,1025.1 L591.0,1024.9 L589.2,1024.7 L587.4,1024.4 L585.7,1024.2 L584.0,1023.9 L582.2,1023.5 L580.5,1023.2 L578.8,1022.8 L577.1,1022.3 L575.4,1021.9 L573.7,1021.3 L572.0,1020.8 L570.4,1020.2 L568.8,1019.6 L567.1,1018.9 L565.5,1018.2 L564.0,1017.5 L562.4,1016.8 L560.8,1016.0 L559.3,1015.2 L557.8,1014.4 L556.3,1013.6 L554.8,1012.8 L553.3,1011.9 L551.8,1011.0 L550.3,1010.2 L548.9,1009.3 L547.5,1008.3 L546.1,1007.4 L544.7,1006.4 L543.3,1005.4 L541.9,1004.4 L540.6,1003.4 L539.3,1002.3 L538.0,1001.3 L536.7,1000.2 L535.5,999.0 L534.2,997.9 L533.0,996.8 L531.8,995.6 L530.7,994.4 L529.5,993.2 L528.4,992.0 L527.3,990.7 L526.2,989.4 L525.2,988.2 L524.1,986.9 L523.1,985.6 L522.1,984.3 L521.1,983.0 L520.1,981.7 L519.0,980.4 L518.0,979.1 L517.0,977.8 L516.0,976.5 L515.0,975.1 L514.0,973.8 L513.1,972.4 L512.2,971.0 L511.3,969.6 L510.4,968.2 L509.6,966.8 L508.8,965.3 L508.0,963.8 L507.2,962.4 L506.5,960.9 L505.7,959.4 L504.9,957.9 L504.2,956.4 L503.5,954.8 L502.8,953.3 L502.1,951.8 L501.4,950.2 L500.8,948.6 L500.2,947.0 L499.6,945.4 L499.1,943.8 L498.6,942.1 L498.1,940.5 L497.6,938.8 L497.2,937.2 L496.8,935.5 L496.5,933.8 L496.2,932.1 L496.0,930.4 L495.8,928.7 L495.7,926.9 L495.6,925.2Z" fill="none" stroke="#383838" stroke-width="1" stroke-opacity="0.8"/>
<path d="M453.4,923.5 L453.5,921.0 L453.6,918.6 L453.8,916.1 L454.0,913.7 L454.3,911.2 L454.5,908.8 L454.8,906.4 L455.2,903.9 L455.5,901.5 L456.0,899.1 L456.4,896.7 L456.9,894.3 L457.5,891.9 L458.0,889.5 L458.7,887.1 L459.3,884.7 L460.0,882.4 L460.8,880.1 L461.6,877.7 L462.5,875.4 L463.4,873.2 L464.3,870.9 L465.2,868.6 L466.3,866.4 L467.3,864.2 L468.4,862.0 L469.5,859.8 L470.7,857.7 L471.9,855.5 L473.1,853.4 L474.4,851.3 L475.7,849.2 L477.0,847.2 L478.4,845.2 L479.8,843.2 L481.3,841.2 L482.8,839.3 L484.4,837.4 L486.0,835.6 L487.6,833.8 L489.3,832.1 L491.0,830.3 L492.8,828.7 L494.6,827.0 L496.4,825.4 L498.2,823.8 L500.0,822.2 L501.9,820.6 L503.8,819.1 L505.7,817.6 L507.6,816.2 L509.5,814.7 L511.5,813.4 L513.5,812.0 L515.5,810.7 L517.5,809.4 L519.6,808.1 L521.6,806.9 L523.7,805.7 L525.8,804.5 L527.9,803.4 L530.1,802.3 L532.2,801.2 L534.4,800.2 L536.5,799.2 L538.7,798.3 L541.0,797.3 L543.2,796.5 L545.4,795.6 L547.7,794.8 L549.9,794.1 L552.2,793.3 L554.5,792.6 L556.8,792.0 L559.1,791.4 L561.4,790.8 L563.8,790.3 L566.1,789.9 L568.4,789.4 L570.8,789.0 L573.2,788.7 L575.5,788.4 L577.9,788.2 L580.3,788.0 L582.6,787.8 L585.0,787.7 L587.4,787.6 L589.8,787.6 L592.1,787.7 L594.5,787.7 L596.9,787.8 L599.2,787.9 L601.6,788.0 L604.0,788.1 L606.3,788.3 L608.7,788.5 L611.0,788.8 L613.4,789.0 L615.7,789.4 L618.1,789.7 L620.4,790.1 L622.8,790.6 L625.1,791.0 L627.4,791.5 L629.7,792.1 L632.0,792.7 L634.3,793.3 L636.6,794.0 L638.8,794.7 L641.1,795.5 L643.3,796.3 L645.5,797.2 L647.7,798.1 L649.9,799.2 L652.0,800.2 L654.1,801.4 L656.1,802.5 L658.2,803.7 L660.2,805.0 L662.2,806.2 L664.2,807.5 L666.1,808.9 L668.0,810.2 L669.9,811.7 L671.8,813.1 L673.6,814.6 L675.4,816.1 L677.2,817.7 L678.9,819.3 L680.6,820.9 L682.3,822.5 L683.9,824.2 L685.6,825.8 L687.2,827.5 L688.9,829.1 L690.5,830.8 L692.1,832.5 L693.7,834.2 L695.2,836.0 L696.7,837.7 L698.2,839.5 L699.7,841.3 L701.2,843.1 L702.8,844.8 L704.4,846.6 L706.0,848.3 L707.6,850.1 L709.1,851.9 L710.7,853.7 L712.2,855.6 L713.7,857.4 L715.1,859.4 L716.6,861.3 L718.0,863.3 L719.4,865.3 L720.7,867.3 L722.0,869.4 L723.3,871.5 L724.6,873.6 L725.7,875.7 L726.9,877.9 L728.0,880.1 L729.0,882.4 L730.0,884.6 L730.9,886.9 L731.8,889.3 L732.7,891.6 L733.5,894.0 L734.2,896.3 L734.9,898.8 L735.5,901.2 L736.0,903.6 L736.6,906.1 L737.1,908.5 L737.5,911.0 L737.9,913.5 L738.2,916.0 L738.5,918.5 L738.7,921.0 L738.9,923.5 L739.1,926.0 L739.2,928.6 L739.3,931.1 L739.4,933.6 L739.4,936.2 L739.3,938.7 L739.3,941.3 L739.2,943.8 L739.0,946.4 L738.8,949.0 L738.6,951.5 L738.3,954.1 L738.0,956.6 L737.6,959.2 L737.2,961.7 L736.7,964.3 L736.2,966.8 L735.6,969.3 L735.0,971.9 L734.3,974.4 L733.6,976.9 L732.8,979.4 L732.0,981.8 L731.0,984.3 L730.1,986.7 L729.0,989.1 L727.9,991.5 L726.8,993.8 L725.6,996.1 L724.3,998.5 L723.0,1000.7 L721.7,1003.0 L720.3,1005.2 L718.9,1007.4 L717.4,1009.6 L715.8,1011.7 L714.2,1013.7 L712.5,1015.7 L710.8,1017.7 L709.1,1019.6 L707.3,1021.6 L705.5,1023.4 L703.6,1025.3 L701.8,1027.1 L699.8,1028.8 L697.9,1030.5 L695.9,1032.2 L693.8,1033.8 L691.8,1035.4 L689.7,1036.9 L687.5,1038.4 L685.4,1039.9 L683.2,1041.3 L681.1,1042.6 L678.8,1044.0 L676.6,1045.2 L674.3,1046.4 L672.0,1047.6 L669.7,1048.7 L667.4,1049.7 L665.0,1050.7 L662.6,1051.7 L660.3,1052.6 L657.9,1053.4 L655.5,1054.2 L653.1,1055.0 L650.6,1055.7 L648.2,1056.4 L645.8,1057.0 L643.3,1057.6 L640.9,1058.1 L638.4,1058.6 L635.9,1059.0 L633.5,1059.4 L631.0,1059.8 L628.5,1060.0 L626.1,1060.3 L623.6,1060.5 L621.2,1060.7 L618.7,1060.9 L616.3,1061.1 L613.9,1061.2 L611.4,1061.4 L609.0,1061.6 L606.6,1061.7 L604.2,1061.7 L601.7,1061.8 L599.3,1061.7 L596.9,1061.7 L594.5,1061.6 L592.1,1061.5 L589.7,1061.4 L587.3,1061.2 L584.9,1061.0 L582.5,1060.7 L580.1,1060.4 L577.7,1060.1 L575.4,1059.7 L573.0,1059.4 L570.6,1059.0 L568.3,1058.5 L565.9,1058.1 L563.6,1057.6 L561.2,1057.0 L558.9,1056.4 L556.6,1055.8 L554.2,1055.2 L551.9,1054.6 L549.6,1053.9 L547.3,1053.2 L545.0,1052.5 L542.7,1051.8 L540.4,1051.0 L538.1,1050.1 L535.9,1049.2 L533.7,1048.2 L531.5,1047.2 L529.4,1046.0 L527.3,1044.7 L525.3,1043.4 L523.3,1042.0 L521.3,1040.6 L519.4,1039.2 L517.5,1037.7 L515.6,1036.2 L513.8,1034.6 L512.1,1032.9 L510.4,1031.1 L508.8,1029.3 L507.3,1027.5 L505.8,1025.6 L504.3,1023.7 L502.8,1021.8 L501.4,1019.9 L500.0,1018.0 L498.6,1016.1 L497.1,1014.3 L495.7,1012.5 L494.3,1010.6 L492.8,1008.8 L491.4,1007.0 L490.1,1005.1 L488.8,1003.2 L487.5,1001.3 L486.2,999.4 L484.9,997.5 L483.5,995.6 L482.1,993.7 L480.7,991.9 L479.2,990.1 L477.8,988.2 L476.4,986.3 L475.0,984.4 L473.7,982.4 L472.4,980.5 L471.1,978.5 L469.8,976.4 L468.5,974.4 L467.2,972.4 L466.0,970.3 L464.7,968.2 L463.5,966.1 L462.4,963.9 L461.2,961.7 L460.2,959.5 L459.2,957.2 L458.3,954.9 L457.5,952.6 L456.8,950.3 L456.2,947.9 L455.7,945.5 L455.2,943.1 L454.7,940.7 L454.3,938.2 L453.9,935.8 L453.7,933.3 L453.5,930.9 L453.4,928.4 L453.4,926.0Z" fill="none" stroke="#383838" stroke-width="1" stroke-opacity="0.8"/>
<path d="M412.7,923.5 L412.9,920.3 L413.0,917.2 L413.3,914.0 L413.6,910.8 L414.0,907.7 L414.4,904.6 L414.9,901.4 L415.5,898.3 L416.1,895.2 L416.7,892.2 L417.5,889.1 L418.2,886.0 L419.0,883.0 L419.8,879.9 L420.7,876.9 L421.5,873.9 L422.5,870.9 L423.4,867.9 L424.5,864.9 L425.5,862.0 L426.7,859.1 L427.9,856.2 L429.1,853.3 L430.4,850.4 L431.8,847.6 L433.2,844.8 L434.7,842.1 L436.2,839.3 L437.7,836.6 L439.3,833.9 L441.0,831.3 L442.7,828.6 L444.4,826.0 L446.2,823.5 L448.0,820.9 L449.9,818.4 L451.8,815.9 L453.7,813.5 L455.7,811.1 L457.7,808.7 L459.7,806.4 L461.8,804.0 L463.9,801.8 L466.1,799.5 L468.3,797.3 L470.5,795.1 L472.8,793.0 L475.1,790.9 L477.4,788.8 L479.8,786.8 L482.3,784.9 L484.7,783.0 L487.2,781.2 L489.8,779.4 L492.4,777.6 L495.0,775.9 L497.6,774.3 L500.3,772.7 L503.0,771.1 L505.7,769.7 L508.5,768.3 L511.3,767.0 L514.1,765.7 L516.9,764.5 L519.8,763.3 L522.7,762.2 L525.6,761.1 L528.5,760.1 L531.4,759.1 L534.3,758.2 L537.3,757.3 L540.2,756.5 L543.2,755.7 L546.2,755.0 L549.2,754.3 L552.2,753.8 L555.2,753.3 L558.2,752.8 L561.3,752.5 L564.3,752.2 L567.3,751.9 L570.4,751.7 L573.4,751.5 L576.4,751.4 L579.4,751.3 L582.5,751.2 L585.5,751.2 L588.5,751.2 L591.5,751.3 L594.5,751.4 L597.5,751.6 L600.5,751.8 L603.5,752.0 L606.5,752.2 L609.5,752.5 L612.4,752.9 L615.4,753.2 L618.4,753.7 L621.3,754.2 L624.3,754.7 L627.2,755.3 L630.1,755.9 L633.0,756.6 L635.9,757.3 L638.8,758.1 L641.7,758.9 L644.6,759.7 L647.4,760.6 L650.3,761.6 L653.1,762.5 L655.9,763.5 L658.7,764.6 L661.5,765.7 L664.2,766.9 L667.0,768.1 L669.7,769.3 L672.5,770.5 L675.2,771.7 L678.0,772.9 L680.8,774.0 L683.6,775.2 L686.4,776.5 L689.1,777.8 L691.9,779.1 L694.6,780.5 L697.3,782.0 L699.9,783.6 L702.4,785.3 L704.9,787.2 L707.3,789.1 L709.6,791.1 L711.9,793.1 L714.1,795.2 L716.3,797.4 L718.4,799.6 L720.5,801.8 L722.6,804.1 L724.6,806.4 L726.6,808.7 L728.6,811.0 L730.6,813.3 L732.6,815.6 L734.6,817.9 L736.7,820.2 L738.7,822.6 L740.6,825.0 L742.4,827.5 L744.2,830.0 L745.9,832.6 L747.5,835.2 L749.1,837.8 L750.6,840.5 L752.1,843.2 L753.6,845.9 L755.1,848.6 L756.5,851.4 L757.9,854.1 L759.3,856.9 L760.6,859.7 L762.0,862.6 L763.2,865.4 L764.5,868.3 L765.7,871.2 L766.8,874.1 L768.0,877.0 L769.1,880.0 L770.1,883.0 L771.1,886.0 L772.1,889.0 L773.1,892.0 L773.9,895.1 L774.7,898.2 L775.4,901.3 L775.9,904.4 L776.3,907.6 L776.7,910.8 L777.0,913.9 L777.2,917.1 L777.3,920.3 L777.4,923.5 L777.4,926.7 L777.4,929.9 L777.4,933.1 L777.3,936.3 L777.3,939.5 L777.1,942.7 L777.0,945.9 L776.8,949.1 L776.5,952.3 L776.2,955.5 L775.8,958.7 L775.4,961.9 L774.9,965.1 L774.4,968.4 L773.8,971.6 L773.2,974.7 L772.5,977.9 L771.8,981.1 L771.0,984.3 L770.1,987.4 L769.0,990.5 L767.9,993.6 L766.7,996.6 L765.4,999.6 L764.0,1002.6 L762.6,1005.5 L761.2,1008.4 L759.6,1011.3 L758.0,1014.2 L756.4,1017.0 L754.6,1019.7 L752.8,1022.4 L750.9,1025.1 L748.9,1027.7 L747.0,1030.3 L744.9,1032.8 L742.9,1035.3 L740.7,1037.8 L738.6,1040.2 L736.4,1042.5 L734.1,1044.9 L731.8,1047.1 L729.5,1049.4 L727.1,1051.6 L724.7,1053.7 L722.3,1055.8 L719.8,1057.9 L717.3,1059.9 L714.8,1061.9 L712.3,1063.9 L709.8,1065.9 L707.3,1067.9 L704.7,1069.8 L702.1,1071.6 L699.5,1073.4 L696.8,1075.2 L694.1,1076.8 L691.3,1078.4 L688.5,1079.9 L685.6,1081.3 L682.7,1082.7 L679.8,1083.9 L676.8,1085.1 L673.8,1086.2 L670.9,1087.3 L667.9,1088.3 L664.8,1089.2 L661.8,1090.1 L658.8,1091.0 L655.8,1091.8 L652.7,1092.6 L649.7,1093.3 L646.6,1094.0 L643.6,1094.6 L640.5,1095.1 L637.4,1095.6 L634.3,1096.1 L631.3,1096.5 L628.2,1096.9 L625.1,1097.3 L622.1,1097.6 L619.0,1097.9 L616.0,1098.2 L612.9,1098.4 L609.8,1098.6 L606.8,1098.7 L603.7,1098.8 L600.6,1098.9 L597.6,1098.8 L594.5,1098.8 L591.4,1098.7 L588.4,1098.6 L585.3,1098.4 L582.3,1098.2 L579.2,1097.9 L576.2,1097.6 L573.2,1097.2 L570.1,1096.8 L567.1,1096.3 L564.1,1095.8 L561.1,1095.3 L558.1,1094.8 L555.1,1094.2 L552.1,1093.6 L549.1,1092.9 L546.1,1092.2 L543.2,1091.4 L540.2,1090.5 L537.3,1089.6 L534.4,1088.6 L531.6,1087.5 L528.7,1086.3 L525.9,1085.1 L523.1,1083.9 L520.3,1082.6 L517.6,1081.3 L514.8,1079.9 L512.1,1078.5 L509.4,1077.1 L506.7,1075.6 L504.0,1074.2 L501.3,1072.6 L498.7,1071.0 L496.1,1069.4 L493.6,1067.6 L491.2,1065.7 L488.9,1063.7 L486.6,1061.6 L484.5,1059.4 L482.4,1057.1 L480.3,1054.8 L478.3,1052.5 L476.4,1050.2 L474.4,1047.8 L472.5,1045.5 L470.6,1043.2 L468.7,1040.8 L466.8,1038.5 L464.9,1036.1 L463.1,1033.7 L461.4,1031.3 L459.7,1028.8 L457.9,1026.4 L456.1,1024.0 L454.3,1021.6 L452.5,1019.3 L450.6,1016.9 L448.8,1014.6 L446.9,1012.2 L445.2,1009.7 L443.4,1007.2 L441.7,1004.7 L440.0,1002.2 L438.4,999.7 L436.7,997.1 L435.1,994.5 L433.5,991.9 L431.9,989.2 L430.4,986.5 L428.9,983.8 L427.5,981.0 L426.1,978.2 L424.8,975.4 L423.4,972.5 L422.2,969.7 L421.0,966.8 L419.8,963.8 L418.7,960.9 L417.8,957.9 L416.9,954.8 L416.1,951.8 L415.3,948.7 L414.7,945.6 L414.1,942.5 L413.6,939.3 L413.2,936.2 L412.9,933.0 L412.8,929.8 L412.7,926.7Z" fill="none" stroke="#383838" stroke-width="1" stroke-opacity="0.8"/>
<path d="M375.2,923.5 L375.5,919.7 L375.8,915.9 L376.3,912.1 L376.8,908.3 L377.4,904.5 L378.0,900.7 L378.7,897.0 L379.5,893.3 L380.3,889.6 L381.2,885.9 L382.1,882.2 L383.1,878.6 L384.2,874.9 L385.3,871.3 L386.5,867.8 L387.7,864.2 L389.0,860.7 L390.3,857.2 L391.7,853.7 L393.1,850.2 L394.6,846.8 L396.1,843.3 L397.6,839.9 L399.3,836.6 L400.9,833.2 L402.7,829.9 L404.4,826.6 L406.2,823.4 L408.0,820.1 L409.9,816.9 L411.9,813.8 L413.8,810.6 L415.9,807.5 L418.0,804.4 L420.1,801.4 L422.4,798.4 L424.6,795.5 L426.9,792.6 L429.3,789.7 L431.7,786.9 L434.2,784.1 L436.6,781.4 L439.1,778.6 L441.7,775.9 L444.3,773.3 L446.9,770.6 L449.5,768.1 L452.3,765.5 L455.0,763.0 L457.8,760.6 L460.7,758.2 L463.6,755.9 L466.5,753.7 L469.5,751.4 L472.5,749.3 L475.6,747.2 L478.7,745.2 L481.8,743.2 L485.0,741.3 L488.3,739.5 L491.5,737.7 L494.8,736.0 L498.1,734.3 L501.5,732.7 L504.8,731.2 L508.2,729.7 L511.6,728.2 L515.0,726.8 L518.5,725.5 L522.0,724.2 L525.5,723.1 L529.0,721.9 L532.6,720.9 L536.1,720.0 L539.7,719.1 L543.3,718.3 L547.0,717.5 L550.6,716.9 L554.2,716.3 L557.9,715.8 L561.5,715.3 L565.2,714.9 L568.8,714.6 L572.5,714.3 L576.2,714.1 L579.8,713.9 L583.5,713.7 L587.2,713.6 L590.8,713.6 L594.5,713.6 L598.2,713.7 L601.8,713.9 L605.5,714.2 L609.1,714.5 L612.8,714.8 L616.4,715.2 L620.0,715.7 L623.6,716.2 L627.3,716.7 L630.9,717.2 L634.5,717.9 L638.1,718.5 L641.6,719.3 L645.2,720.1 L648.8,720.9 L652.3,721.8 L655.9,722.8 L659.4,723.8 L662.9,724.8 L666.4,726.0 L669.9,727.1 L673.4,728.3 L676.8,729.5 L680.3,730.8 L683.8,732.1 L687.2,733.4 L690.6,734.9 L694.0,736.3 L697.4,737.8 L700.8,739.3 L704.2,740.9 L707.6,742.5 L711.0,744.1 L714.3,745.8 L717.7,747.6 L721.0,749.4 L724.2,751.3 L727.4,753.3 L730.6,755.4 L733.7,757.6 L736.8,759.8 L739.8,762.1 L742.7,764.6 L745.6,767.1 L748.3,769.7 L751.0,772.4 L753.6,775.1 L756.2,777.9 L758.6,780.8 L761.0,783.8 L763.3,786.8 L765.6,789.8 L767.9,792.9 L770.1,795.9 L772.4,798.9 L774.7,802.0 L776.9,805.0 L779.1,808.2 L781.2,811.3 L783.3,814.5 L785.3,817.7 L787.3,821.0 L789.1,824.3 L791.0,827.7 L792.7,831.1 L794.4,834.5 L796.0,838.0 L797.6,841.4 L799.2,844.9 L800.6,848.5 L802.1,852.0 L803.4,855.6 L804.8,859.2 L806.0,862.8 L807.2,866.5 L808.3,870.2 L809.4,873.9 L810.3,877.6 L811.2,881.4 L812.0,885.1 L812.7,888.9 L813.3,892.7 L813.9,896.6 L814.4,900.4 L814.9,904.2 L815.3,908.1 L815.7,911.9 L816.0,915.8 L816.2,919.6 L816.4,923.5 L816.4,927.4 L816.4,931.2 L816.3,935.1 L816.2,939.0 L816.0,942.9 L815.8,946.8 L815.5,950.6 L815.1,954.5 L814.7,958.4 L814.2,962.2 L813.6,966.1 L812.9,969.9 L812.2,973.8 L811.4,977.6 L810.6,981.4 L809.6,985.2 L808.5,988.9 L807.4,992.7 L806.1,996.4 L804.8,1000.0 L803.4,1003.7 L801.9,1007.3 L800.3,1010.8 L798.6,1014.4 L796.8,1017.8 L794.9,1021.3 L793.0,1024.6 L791.0,1028.0 L788.9,1031.2 L786.7,1034.5 L784.4,1037.6 L782.1,1040.7 L779.7,1043.8 L777.2,1046.8 L774.7,1049.7 L772.2,1052.6 L769.6,1055.4 L766.9,1058.2 L764.2,1060.9 L761.4,1063.6 L758.6,1066.2 L755.8,1068.7 L752.9,1071.2 L750.0,1073.7 L747.2,1076.2 L744.3,1078.6 L741.3,1081.0 L738.4,1083.3 L735.5,1085.7 L732.5,1087.9 L729.4,1090.1 L726.4,1092.3 L723.3,1094.4 L720.1,1096.4 L717.0,1098.4 L713.8,1100.4 L710.6,1102.3 L707.3,1104.1 L704.1,1105.9 L700.8,1107.6 L697.5,1109.3 L694.2,1110.9 L690.8,1112.6 L687.5,1114.2 L684.2,1115.8 L680.8,1117.4 L677.4,1118.9 L674.0,1120.3 L670.6,1121.7 L667.1,1123.0 L663.6,1124.3 L660.1,1125.5 L656.6,1126.6 L653.0,1127.6 L649.5,1128.6 L645.9,1129.5 L642.2,1130.3 L638.6,1131.1 L635.0,1131.8 L631.3,1132.4 L627.7,1133.1 L624.0,1133.6 L620.4,1134.1 L616.7,1134.6 L613.0,1135.0 L609.3,1135.3 L605.6,1135.5 L601.9,1135.7 L598.2,1135.7 L594.5,1135.5 L590.8,1135.3 L587.1,1134.9 L583.4,1134.5 L579.8,1134.0 L576.1,1133.5 L572.5,1132.9 L568.9,1132.3 L565.2,1131.7 L561.6,1131.0 L558.0,1130.2 L554.5,1129.4 L550.9,1128.6 L547.4,1127.7 L543.8,1126.8 L540.3,1125.8 L536.8,1124.7 L533.3,1123.6 L529.9,1122.4 L526.4,1121.2 L523.0,1119.9 L519.6,1118.6 L516.2,1117.2 L512.9,1115.7 L509.6,1114.2 L506.3,1112.6 L503.0,1111.0 L499.8,1109.4 L496.5,1107.7 L493.3,1106.0 L490.1,1104.3 L487.0,1102.4 L483.9,1100.6 L480.8,1098.6 L477.8,1096.5 L474.9,1094.4 L472.0,1092.1 L469.2,1089.8 L466.5,1087.4 L463.8,1084.9 L461.1,1082.4 L458.5,1079.9 L456.0,1077.4 L453.4,1074.8 L450.8,1072.3 L448.3,1069.7 L445.8,1067.1 L443.3,1064.5 L440.9,1061.8 L438.5,1059.1 L436.1,1056.4 L433.7,1053.7 L431.4,1051.0 L428.9,1048.3 L426.5,1045.5 L424.1,1042.8 L421.7,1040.0 L419.4,1037.2 L417.1,1034.4 L414.8,1031.5 L412.6,1028.5 L410.4,1025.6 L408.2,1022.6 L406.1,1019.5 L404.0,1016.4 L401.9,1013.3 L399.9,1010.1 L398.0,1006.9 L396.1,1003.7 L394.3,1000.4 L392.5,997.0 L390.8,993.6 L389.1,990.2 L387.5,986.8 L386.0,983.3 L384.6,979.7 L383.3,976.2 L382.0,972.6 L380.9,968.9 L379.8,965.2 L378.8,961.5 L378.0,957.8 L377.2,954.0 L376.6,950.3 L376.1,946.5 L375.6,942.7 L375.2,938.8 L375.0,935.0 L374.9,931.2 L375.0,927.3Z" fill="none" stroke="#383838" stroke-width="1" stroke-opacity="0.8"/>
<path d="M336.0,923.5 L336.4,919.0 L336.9,914.5 L337.5,910.0 L338.2,905.6 L338.9,901.1 L339.7,896.7 L340.6,892.3 L341.6,888.0 L342.7,883.6 L335.1,877.8 L337.0,873.5 L339.1,869.2 L341.2,865.0 L343.3,860.9 L345.6,856.8 L347.7,852.7 L349.6,848.6 L351.5,844.5 L353.4,840.5 L355.5,836.5 L357.6,832.6 L359.7,828.7 L361.7,824.7 L363.4,820.6 L365.2,816.6 L367.0,812.6 L369.0,808.6 L370.9,804.6 L373.0,800.7 L375.1,796.8 L377.3,793.0 L379.5,789.2 L381.9,785.4 L384.4,781.8 L387.0,778.2 L389.6,774.6 L392.3,771.1 L395.0,767.6 L397.8,764.2 L400.7,760.9 L403.6,757.6 L406.6,754.3 L409.6,751.1 L412.7,748.0 L415.9,744.9 L419.2,742.0 L422.6,739.1 L425.9,736.3 L429.4,733.5 L432.8,730.8 L436.5,728.3 L440.1,725.9 L443.8,723.5 L447.5,721.2 L451.3,718.9 L454.9,716.6 L458.6,714.3 L462.4,712.0 L466.1,709.9 L469.9,707.7 L473.5,705.3 L477.2,702.9 L480.9,700.6 L484.6,698.2 L488.3,695.7 L492.0,693.3 L495.8,691.0 L499.6,688.7 L503.5,686.4 L507.4,684.3 L511.2,681.7 L515.1,679.1 L519.0,676.6 L523.0,674.2 L527.1,671.8 L531.2,669.5 L538.6,681.2 L542.8,680.4 L547.1,679.7 L551.4,679.1 L555.7,678.6 L560.0,678.2 L564.3,677.8 L568.6,677.5 L573.0,677.2 L577.3,677.0 L581.6,676.8 L585.9,676.6 L590.2,676.6 L594.5,676.6 L598.8,676.7 L603.1,676.9 L607.4,677.2 L611.7,677.6 L616.0,678.1 L620.2,678.6 L624.5,679.1 L628.8,679.7 L633.0,680.3 L637.3,681.0 L641.5,681.7 L647.5,674.2 L651.6,676.0 L655.8,677.8 L659.8,679.6 L663.9,681.6 L667.9,683.6 L671.8,685.6 L675.7,687.6 L679.8,689.3 L683.7,691.0 L687.7,692.8 L691.6,694.7 L695.5,696.7 L699.3,698.7 L703.2,700.6 L707.2,702.3 L711.2,704.0 L715.2,705.8 L719.1,707.7 L723.0,709.6 L727.0,711.5 L730.9,713.4 L734.8,715.5 L738.7,717.6 L742.4,720.0 L746.0,722.4 L749.6,725.0 L753.2,727.6 L756.7,730.2 L760.2,732.8 L763.8,735.5 L767.2,738.3 L770.7,741.1 L774.1,743.9 L777.3,746.9 L780.5,750.0 L783.7,753.1 L786.8,756.3 L789.8,759.6 L792.7,763.0 L795.5,766.4 L798.3,769.9 L801.0,773.5 L803.6,777.1 L806.0,780.9 L808.3,784.7 L810.6,788.5 L812.8,792.3 L814.9,796.2 L817.0,800.2 L819.0,804.1 L820.9,808.1 L823.0,812.0 L825.3,815.9 L827.6,819.7 L829.8,823.6 L831.9,827.6 L834.0,831.6 L836.0,835.6 L838.3,839.5 L840.7,843.5 L843.0,847.5 L845.3,851.6 L847.5,855.7 L849.6,859.9 L847.7,865.0 L848.8,869.5 L849.7,873.9 L850.6,878.3 L851.3,882.8 L851.9,887.3 L852.5,891.8 L853.1,896.3 L853.6,900.8 L854.0,905.4 L854.4,909.9 L854.8,914.4 L855.0,919.0 L855.1,923.5 L855.1,928.0 L855.0,932.6 L854.8,937.1 L854.6,941.7 L854.3,946.2 L854.0,950.8 L853.6,955.3 L853.1,959.8 L852.5,964.4 L851.8,968.9 L851.1,973.4 L850.2,977.9 L849.3,982.3 L848.3,986.8 L847.3,991.2 L846.1,995.6 L844.7,1000.0 L843.3,1004.3 L841.7,1008.6 L856.3,1018.8 L853.3,1022.8 L850.2,1026.8 L847.0,1030.7 L843.8,1034.5 L840.5,1038.2 L837.7,1042.1 L834.8,1046.0 L831.9,1049.7 L828.9,1053.4 L825.8,1057.1 L822.7,1060.6 L820.1,1064.4 L817.5,1068.3 L814.7,1072.0 L811.7,1075.6 L808.6,1079.1 L805.5,1082.5 L802.4,1085.9 L799.2,1089.3 L796.0,1092.6 L792.7,1095.8 L789.4,1099.0 L786.0,1102.1 L782.5,1105.1 L779.0,1108.0 L775.4,1110.8 L771.8,1113.6 L768.1,1116.3 L764.4,1118.9 L760.6,1121.4 L756.8,1123.9 L752.9,1126.3 L749.0,1128.6 L745.2,1130.9 L741.3,1133.1 L737.4,1135.3 L733.4,1137.4 L729.5,1139.5 L725.5,1141.5 L721.8,1143.9 L718.0,1146.3 L714.2,1148.6 L710.3,1150.9 L706.5,1153.1 L702.5,1155.2 L698.6,1157.4 L694.8,1159.8 L691.0,1162.3 L687.1,1164.6 L683.1,1166.9 L679.1,1169.1 L675.0,1171.3 L666.9,1160.4 L662.8,1161.7 L658.7,1163.0 L654.5,1164.2 L650.3,1165.3 L646.1,1166.4 L641.9,1167.3 L637.7,1168.2 L633.4,1169.1 L629.1,1169.8 L624.8,1170.5 L620.5,1171.1 L616.2,1171.6 L611.9,1172.1 L607.5,1172.4 L603.2,1172.6 L598.8,1172.6 L594.5,1172.5 L590.2,1172.1 L585.8,1171.6 L581.5,1171.1 L577.2,1170.5 L572.9,1169.9 L568.7,1169.2 L564.4,1168.5 L560.2,1167.7 L556.0,1166.8 L551.8,1165.9 L547.6,1164.9 L543.4,1163.9 L539.3,1162.8 L535.1,1161.7 L531.0,1160.5 L526.9,1159.2 L522.9,1157.8 L511.6,1178.6 L507.8,1175.4 L504.0,1172.0 L500.4,1168.7 L496.8,1165.2 L493.4,1161.7 L489.8,1158.8 L486.2,1155.7 L482.7,1152.7 L479.3,1149.6 L476.0,1146.4 L472.7,1143.2 L469.5,1140.1 L466.2,1137.1 L462.9,1134.1 L459.7,1131.0 L456.6,1127.9 L453.3,1125.1 L450.0,1122.3 L446.8,1119.5 L443.6,1116.6 L440.4,1113.7 L437.2,1111.0 L433.9,1108.2 L430.7,1105.4 L427.6,1102.5 L424.5,1099.5 L421.4,1096.6 L418.3,1093.6 L415.2,1090.7 L412.2,1087.6 L409.2,1084.6 L406.3,1081.4 L403.4,1078.3 L400.4,1075.2 L397.4,1072.0 L394.5,1068.8 L391.7,1065.5 L388.9,1062.2 L386.0,1058.9 L383.2,1055.5 L380.4,1052.1 L377.7,1048.7 L375.0,1045.2 L372.3,1041.6 L369.6,1038.1 L367.0,1034.5 L364.4,1030.8 L361.8,1027.1 L359.0,1023.4 L356.1,1019.8 L353.1,1016.2 L350.3,1012.4 L347.4,1008.6 L344.7,1004.7 L341.8,1000.7 L338.6,996.9 L335.4,992.9 L332.3,988.9 L329.3,984.7 L326.3,980.5 L341.3,972.7 L340.1,968.4 L339.1,963.9 L338.3,959.5 L337.6,955.0 L337.0,950.6 L336.4,946.1 L336.0,941.6 L335.8,937.1 L335.7,932.5 L335.8,928.0Z" fill="none" stroke="#383838" stroke-width="1" stroke-opacity="0.8"/>
<path d="M296.9,923.5 L297.4,918.3 L298.0,913.1 L298.7,908.0 L299.5,902.9 L300.5,897.8 L301.5,892.7 L302.6,887.7 L303.8,882.6 L305.1,877.7 L297.7,871.2 L299.9,866.2 L302.2,861.4 L304.5,856.6 L307.0,851.8 L309.5,847.1 L311.9,842.5 L314.0,837.8 L316.2,833.1 L318.5,828.5 L320.8,823.9 L323.2,819.4 L325.6,814.9 L327.9,810.3 L329.9,805.7 L327.1,798.8 L330.0,794.5 L333.0,790.3 L336.1,786.1 L339.2,782.0 L342.4,777.9 L345.3,773.7 L348.1,769.5 L351.0,765.4 L354.0,761.3 L357.1,757.3 L360.2,753.3 L363.0,749.0 L365.7,744.8 L368.5,740.5 L371.6,736.4 L374.7,732.5 L377.9,728.5 L381.3,724.7 L385.0,721.2 L388.7,717.7 L392.5,714.3 L396.5,711.2 L400.6,708.1 L404.7,705.2 L408.9,702.3 L413.1,699.5 L416.9,696.2 L420.7,692.9 L424.7,689.7 L428.6,686.6 L432.7,683.6 L436.7,680.5 L440.6,677.2 L444.5,673.9 L448.5,670.7 L452.6,667.5 L456.7,664.4 L463.9,667.2 L468.2,664.5 L472.4,661.7 L476.7,659.0 L481.1,656.4 L485.6,653.8 L490.0,651.4 L494.6,649.0 L499.0,646.2 L503.5,643.4 L508.1,640.8 L512.7,638.2 L517.4,635.6 L522.1,633.2 L530.1,644.8 L535.1,643.9 L540.0,643.1 L544.9,642.5 L549.9,641.9 L554.9,641.4 L559.8,641.0 L564.8,640.7 L569.7,640.3 L574.7,640.1 L579.6,639.8 L584.6,639.7 L589.5,639.5 L594.5,639.6 L599.5,639.7 L604.4,639.9 L609.3,640.3 L614.3,640.8 L619.2,641.4 L624.1,642.0 L629.0,642.6 L633.9,643.3 L638.8,644.0 L643.7,644.7 L648.5,645.6 L655.1,638.2 L659.9,640.1 L664.7,642.0 L669.4,644.0 L674.0,646.1 L678.6,648.3 L683.2,650.5 L687.8,652.6 L692.4,654.5 L697.0,656.4 L701.6,658.4 L706.2,660.4 L710.7,662.5 L715.2,664.6 L719.8,666.6 L724.5,668.4 L732.8,663.4 L737.0,666.4 L741.1,669.5 L745.2,672.7 L749.2,675.9 L753.2,679.2 L757.1,682.4 L761.2,685.4 L765.3,688.4 L769.3,691.5 L773.2,694.7 L777.1,698.0 L781.1,701.1 L785.4,703.9 L789.6,706.8 L793.8,709.8 L797.7,713.1 L801.6,716.4 L805.4,719.8 L809.1,723.3 L812.7,727.0 L816.2,730.7 L819.7,734.5 L823.3,738.2 L827.2,741.7 L831.0,745.3 L834.8,748.9 L838.5,752.7 L842.1,756.5 L846.1,760.1 L850.1,763.8 L854.0,767.6 L857.9,771.4 L861.8,775.3 L855.0,785.0 L857.2,789.7 L859.5,794.2 L862.0,798.8 L864.4,803.3 L866.8,807.9 L869.1,812.6 L871.3,817.3 L873.4,822.0 L875.9,826.6 L878.5,831.2 L880.9,835.9 L883.3,840.7 L885.6,845.5 L887.8,850.4 L886.1,856.2 L887.2,861.3 L888.2,866.4 L889.1,871.5 L889.9,876.7 L890.6,881.9 L891.2,887.1 L891.7,892.3 L892.3,897.4 L892.8,902.6 L893.2,907.8 L893.5,913.1 L893.7,918.3 L893.8,923.5 L893.7,928.7 L893.6,933.9 L893.3,939.2 L893.0,944.4 L892.7,949.6 L892.2,954.8 L891.7,960.0 L891.0,965.2 L890.3,970.4 L889.5,975.5 L888.6,980.7 L887.5,985.8 L886.4,990.9 L885.3,996.0 L884.0,1001.1 L882.5,1006.1 L880.9,1011.1 L879.2,1016.0 L877.3,1020.9 L891.6,1031.6 L888.2,1036.2 L884.7,1040.8 L881.2,1045.2 L877.6,1049.5 L873.9,1053.8 L870.7,1058.2 L867.4,1062.5 L864.0,1066.8 L860.6,1071.0 L866.4,1080.5 L862.3,1084.4 L858.2,1088.3 L854.0,1092.0 L849.7,1095.7 L845.4,1099.2 L841.4,1102.9 L837.5,1106.6 L833.5,1110.2 L829.4,1113.8 L825.4,1117.2 L821.3,1120.6 L817.4,1124.2 L813.6,1127.8 L809.6,1131.3 L805.7,1134.7 L801.8,1138.1 L797.8,1141.5 L794.0,1145.1 L790.2,1148.6 L786.3,1152.1 L782.4,1155.5 L778.4,1158.9 L774.4,1162.3 L770.6,1165.9 L766.7,1169.5 L762.8,1173.0 L758.8,1176.5 L754.7,1179.8 L742.6,1170.1 L738.5,1172.8 L734.2,1175.6 L730.0,1178.3 L725.6,1180.9 L721.3,1183.5 L716.9,1186.0 L712.5,1188.5 L708.2,1191.4 L703.9,1194.2 L699.5,1197.0 L695.0,1199.6 L690.5,1202.2 L685.9,1204.7 L677.2,1194.1 L672.6,1195.8 L667.9,1197.4 L663.2,1198.9 L658.4,1200.3 L653.6,1201.7 L648.8,1202.9 L644.0,1204.0 L639.1,1205.1 L634.2,1206.0 L629.3,1206.8 L624.4,1207.6 L619.4,1208.3 L614.5,1208.9 L609.5,1209.3 L604.5,1209.6 L599.5,1209.6 L594.5,1209.4 L589.5,1209.0 L584.6,1208.4 L579.6,1207.7 L574.7,1207.0 L569.8,1206.2 L564.9,1205.4 L560.0,1204.6 L555.1,1203.6 L550.3,1202.6 L545.5,1201.5 L540.7,1200.3 L535.9,1199.1 L531.2,1197.9 L526.4,1196.5 L521.7,1195.1 L517.0,1193.6 L512.4,1192.0 L500.6,1212.6 L496.2,1209.0 L491.9,1205.4 L487.7,1201.7 L483.6,1197.9 L479.6,1194.1 L475.5,1190.8 L471.4,1187.5 L467.4,1184.1 L463.5,1180.7 L459.6,1177.3 L455.7,1173.8 L446.1,1180.6 L442.2,1177.0 L438.4,1173.4 L434.6,1169.7 L431.0,1165.9 L427.4,1162.2 L423.6,1158.7 L419.8,1155.3 L416.2,1151.7 L412.6,1148.2 L409.0,1144.5 L405.5,1140.9 L401.8,1137.5 L398.1,1134.1 L394.5,1130.6 L390.9,1127.1 L387.4,1123.5 L383.7,1120.1 L380.1,1116.5 L376.6,1112.9 L373.1,1109.3 L369.6,1105.6 L366.1,1101.9 L362.7,1098.2 L359.2,1094.5 L355.4,1090.9 L351.8,1087.2 L348.2,1083.5 L344.6,1079.7 L341.1,1075.8 L337.3,1072.0 L333.4,1068.2 L329.6,1064.3 L325.9,1060.4 L322.1,1056.3 L329.2,1047.2 L326.3,1042.9 L323.1,1038.7 L319.9,1034.5 L316.6,1030.2 L313.5,1025.8 L310.5,1021.3 L307.5,1016.8 L304.4,1012.2 L301.0,1007.7 L297.7,1003.0 L294.4,998.3 L291.2,993.5 L288.0,988.7 L302.8,980.2 L301.4,975.2 L300.3,970.1 L299.3,965.0 L298.5,959.8 L297.8,954.7 L297.3,949.5 L296.8,944.3 L296.5,939.1 L296.5,933.9 L296.6,928.7Z" fill="none" stroke="#383838" stroke-width="1" stroke-opacity="0.8"/>
</g>
<rect x="360.0" y="699.0" width="463.3" height="443.0" fill="none" stroke="#111" stroke-width="2"/>
<line x1="351" y1="723.4" x2="360.0" y2="723.4" stroke="#222" stroke-width="2"/>
<text x="345" y="731.8" font-size="25" font-weight="bold" text-anchor="end">760</text>
<line x1="351" y1="811.7" x2="360.0" y2="811.7" stroke="#222" stroke-width="2"/>
<text x="345" y="820.1" font-size="25" font-weight="bold" text-anchor="end">720</text>
<line x1="351" y1="900.4" x2="360.0" y2="900.4" stroke="#222" stroke-width="2"/>
<text x="345" y="908.8" font-size="25" font-weight="bold" text-anchor="end">680</text>
<line x1="351" y1="988.5" x2="360.0" y2="988.5" stroke="#222" stroke-width="2"/>
<text x="345" y="996.9" font-size="25" font-weight="bold" text-anchor="end">640</text>
<line x1="351" y1="1076.7" x2="360.0" y2="1076.7" stroke="#222" stroke-width="2"/>
<text x="345" y="1085.1" font-size="25" font-weight="bold" text-anchor="end">600</text>
<line x1="393.3" y1="1142.0" x2="393.3" y2="1149.5" stroke="#222" stroke-width="2"/>
<text x="393.3" y="1176" font-size="25" font-weight="bold" text-anchor="middle">600</text>
<line x1="485.4" y1="1142.0" x2="485.4" y2="1149.5" stroke="#222" stroke-width="2"/>
<text x="485.4" y="1176" font-size="25" font-weight="bold" text-anchor="middle">640</text>
<line x1="577.4" y1="1142.0" x2="577.4" y2="1149.5" stroke="#222" stroke-width="2"/>
<text x="577.4" y="1176" font-size="25" font-weight="bold" text-anchor="middle">680</text>
<line x1="669.5" y1="1142.0" x2="669.5" y2="1149.5" stroke="#222" stroke-width="2"/>
<text x="669.5" y="1176" font-size="25" font-weight="bold" text-anchor="middle">720</text>
<line x1="761.6" y1="1142.0" x2="761.6" y2="1149.5" stroke="#222" stroke-width="2"/>
<text x="761.6" y="1176" font-size="25" font-weight="bold" text-anchor="middle">760</text>
<text x="396" y="1227.5" font-size="36.7" textLength="390" lengthAdjust="spacingAndGlyphs">X coordinate of the center</text>
<text transform="translate(292.9,1115.8) rotate(-90)" font-size="38.5" textLength="392.5" lengthAdjust="spacingAndGlyphs">Y coordinate of the center</text>
<rect x="849.5" y="699.6" width="63.7" height="8.9" fill="#808080"/>
<rect x="849.5" y="1134.1" width="63.7" height="8.9" fill="#000"/>
<rect x="849.5" y="708.50" width="63.7" height="425.60" fill="#ff0000"/>
<rect x="849.5" y="717.37" width="63.7" height="416.73" fill="#ff1600"/>
<rect x="849.5" y="726.23" width="63.7" height="407.87" fill="#ff2b00"/>
<rect x="849.5" y="735.10" width="63.7" height="399.00" fill="#ff4100"/>
<rect x="849.5" y="743.97" width="63.7" height="390.13" fill="#ff5700"/>
<rect x="849.5" y="752.83" width="63.7" height="381.27" fill="#ff6d00"/>
<rect x="849.5" y="761.70" width="63.7" height="372.40" fill="#ff8200"/>
<rect x="849.5" y="770.57" width="63.7" height="363.53" fill="#ff9800"/>
<rect x="849.5" y="779.43" width="63.7" height="354.67" fill="#ffae00"/>
<rect x="849.5" y="788.30" width="63.7" height="345.80" fill="#ffc300"/>
<rect x="849.5" y="797.17" width="63.7" height="336.93" fill="#ffd900"/>
<rect x="849.5" y="806.03" width="63.7" height="328.07" fill="#ffef00"/>
<rect x="849.5" y="814.90" width="63.7" height="319.20" fill="#faff00"/>
<rect x="849.5" y="823.77" width="63.7" height="310.33" fill="#e4ff00"/>
<rect x="849.5" y="832.63" width="63.7" height="301.47" fill="#ceff00"/>
<rect x="849.5" y="841.50" width="63.7" height="292.60" fill="#b8ff00"/>
<rect x="849.5" y="850.37" width="63.7" height="283.73" fill="#a3ff00"/>
<rect x="849.5" y="859.23" width="63.7" height="274.87" fill="#8dff00"/>
<rect x="849.5" y="868.10" width="63.7" height="266.00" fill="#77ff00"/>
<rect x="849.5" y="876.97" width="63.7" height="257.13" fill="#62ff00"/>
<rect x="849.5" y="885.83" width="63.7" height="248.27" fill="#4cff00"/>
<rect x="849.5" y="894.70" width="63.7" height="239.40" fill="#36ff00"/>
<rect x="849.5" y="903.57" width="63.7" height="230.53" fill="#21ff00"/>
<rect x="849.5" y="912.43" width="63.7" height="221.67" fill="#0bff00"/>
<rect x="849.5" y="921.30" width="63.7" height="212.80" fill="#00ff0b"/>
<rect x="849.5" y="930.17" width="63.7" height="203.93" fill="#00ff21"/>
<rect x="849.5" y="939.03" width="63.7" height="195.07" fill="#00ff36"/>
<rect x="849.5" y="947.90" width="63.7" height="186.20" fill="#00ff4c"/>
<rect x="849.5" y="956.77" width="63.7" height="177.33" fill="#00ff62"/>
<rect x="849.5" y="965.63" width="63.7" height="168.47" fill="#00ff77"/>
<rect x="849.5" y="974.50" width="63.7" height="159.60" fill="#00ff8d"/>
<rect x="849.5" y="983.37" width="63.7" height="150.73" fill="#00ffa3"/>
<rect x="849.5" y="992.23" width="63.7" height="141.87" fill="#00ffb8"/>
<rect x="849.5" y="1001.10" width="63.7" height="133.00" fill="#00ffce"/>
<rect x="849.5" y="1009.97" width="63.7" height="124.13" fill="#00ffe4"/>
<rect x="849.5" y="1018.83" width="63.7" height="115.27" fill="#00fffa"/>
<rect x="849.5" y="1027.70" width="63.7" height="106.40" fill="#00efff"/>
<rect x="849.5" y="1036.57" width="63.7" height="97.53" fill="#00d9ff"/>
<rect x="849.5" y="1045.43" width="63.7" height="88.67" fill="#00c3ff"/>
<rect x="849.5" y="1054.30" width="63.7" height="79.80" fill="#00aeff"/>
<rect x="849.5" y="1063.17" width="63.7" height="70.93" fill="#0098ff"/>
<rect x="849.5" y="1072.03" width="63.7" height="62.07" fill="#0082ff"/>
<rect x="849.5" y="1080.90" width="63.7" height="53.20" fill="#006dff"/>
<rect x="849.5" y="1089.77" width="63.7" height="44.33" fill="#0057ff"/>
<rect x="849.5" y="1098.63" width="63.7" height="35.47" fill="#0041ff"/>
<rect x="849.5" y="1107.50" width="63.7" height="26.60" fill="#002bff"/>
<rect x="849.5" y="1116.37" width="63.7" height="17.73" fill="#0016ff"/>
<rect x="849.5" y="1125.23" width="63.7" height="8.87" fill="#0000ff"/>
<rect x="849.5" y="699.6" width="63.7" height="443.4" fill="none" stroke="#333" stroke-width="1.5"/>
<line x1="913.2" y1="708.50" x2="922" y2="708.50" stroke="#333" stroke-width="2"/>
<text x="932.3" y="717.10" font-size="24.5" font-weight="bold">7.585</text>
<text x="998" y="717.10" font-size="23" font-weight="bold">×</text>
<text x="1019.5" y="717.10" font-size="24.5" font-weight="bold" textLength="24" lengthAdjust="spacingAndGlyphs">10</text>
<text x="1044.8" y="710.00" font-size="17">5</text>
<line x1="913.2" y1="761.70" x2="922" y2="761.70" stroke="#333" stroke-width="2"/>
<text x="932.3" y="770.30" font-size="24.5" font-weight="bold">7.424</text>
<text x="998" y="770.30" font-size="23" font-weight="bold">×</text>
<text x="1019.5" y="770.30" font-size="24.5" font-weight="bold" textLength="24" lengthAdjust="spacingAndGlyphs">10</text>
<text x="1044.8" y="763.20" font-size="17">5</text>
<line x1="913.2" y1="814.90" x2="922" y2="814.90" stroke="#333" stroke-width="2"/>
<text x="932.3" y="823.50" font-size="24.5" font-weight="bold">7.263</text>
<text x="998" y="823.50" font-size="23" font-weight="bold">×</text>
<text x="1019.5" y="823.50" font-size="24.5" font-weight="bold" textLength="24" lengthAdjust="spacingAndGlyphs">10</text>
<text x="1044.8" y="816.40" font-size="17">5</text>
<line x1="913.2" y1="868.10" x2="922" y2="868.10" stroke="#333" stroke-width="2"/>
<text x="932.3" y="876.70" font-size="24.5" font-weight="bold">7.101</text>
<text x="998" y="876.70" font-size="23" font-weight="bold">×</text>
<text x="1019.5" y="876.70" font-size="24.5" font-weight="bold" textLength="24" lengthAdjust="spacingAndGlyphs">10</text>
<text x="1044.8" y="869.60" font-size="17">5</text>
<line x1="913.2" y1="921.30" x2="922" y2="921.30" stroke="#333" stroke-width="2"/>
<text x="932.3" y="929.90" font-size="24.5" font-weight="bold">6.940</text>
<text x="998" y="929.90" font-size="23" font-weight="bold">×</text>
<text x="1019.5" y="929.90" font-size="24.5" font-weight="bold" textLength="24" lengthAdjust="spacingAndGlyphs">10</text>
<text x="1044.8" y="922.80" font-size="17">5</text>
<line x1="913.2" y1="974.50" x2="922" y2="974.50" stroke="#333" stroke-width="2"/>
<text x="932.3" y="983.10" font-size="24.5" font-weight="bold">6.779</text>
<text x="998" y="983.10" font-size="23" font-weight="bold">×</text>
<text x="1019.5" y="983.10" font-size="24.5" font-weight="bold" textLength="24" lengthAdjust="spacingAndGlyphs">10</text>
<text x="1044.8" y="976.00" font-size="17">5</text>
<line x1="913.2" y1="1027.70" x2="922" y2="1027.70" stroke="#333" stroke-width="2"/>
<text x="932.3" y="1036.30" font-size="24.5" font-weight="bold">6.618</text>
<text x="998" y="1036.30" font-size="23" font-weight="bold">×</text>
<text x="1019.5" y="1036.30" font-size="24.5" font-weight="bold" textLength="24" lengthAdjust="spacingAndGlyphs">10</text>
<text x="1044.8" y="1029.20" font-size="17">5</text>
<line x1="913.2" y1="1080.90" x2="922" y2="1080.90" stroke="#333" stroke-width="2"/>
<text x="932.3" y="1089.50" font-size="24.5" font-weight="bold">6.456</text>
<text x="998" y="1089.50" font-size="23" font-weight="bold">×</text>
<text x="1019.5" y="1089.50" font-size="24.5" font-weight="bold" textLength="24" lengthAdjust="spacingAndGlyphs">10</text>
<text x="1044.8" y="1082.40" font-size="17">5</text>
<line x1="913.2" y1="1134.10" x2="922" y2="1134.10" stroke="#333" stroke-width="2"/>
<text x="932.3" y="1142.70" font-size="24.5" font-weight="bold">6.295</text>
<text x="998" y="1142.70" font-size="23" font-weight="bold">×</text>
<text x="1019.5" y="1142.70" font-size="24.5" font-weight="bold" textLength="24" lengthAdjust="spacingAndGlyphs">10</text>
<text x="1044.8" y="1135.60" font-size="17">5</text>
</svg>
</body></html>
